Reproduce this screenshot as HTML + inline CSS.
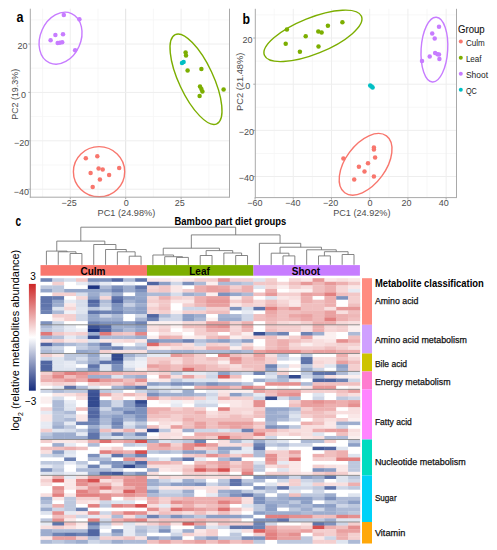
<!DOCTYPE html>
<html><head><meta charset="utf-8"><style>
html,body{margin:0;padding:0;background:#fff;}
svg{display:block;font-family:"Liberation Sans",sans-serif;}
</style></head><body>
<svg width="497" height="550" viewBox="0 0 497 550">
<rect width="497" height="550" fill="#fff"/>
<line x1="42.56" y1="8.70" x2="42.56" y2="197.20" stroke="#F5F5F5" stroke-width="0.8"/>
<line x1="97.99" y1="8.70" x2="97.99" y2="197.20" stroke="#F5F5F5" stroke-width="0.8"/>
<line x1="153.41" y1="8.70" x2="153.41" y2="197.20" stroke="#F5F5F5" stroke-width="0.8"/>
<line x1="208.84" y1="8.70" x2="208.84" y2="197.20" stroke="#F5F5F5" stroke-width="0.8"/>
<line x1="30.30" y1="19.80" x2="229.50" y2="19.80" stroke="#F5F5F5" stroke-width="0.8"/>
<line x1="30.30" y1="68.20" x2="229.50" y2="68.20" stroke="#F5F5F5" stroke-width="0.8"/>
<line x1="30.30" y1="116.60" x2="229.50" y2="116.60" stroke="#F5F5F5" stroke-width="0.8"/>
<line x1="30.30" y1="165.00" x2="229.50" y2="165.00" stroke="#F5F5F5" stroke-width="0.8"/>
<line x1="70.28" y1="8.70" x2="70.28" y2="197.20" stroke="#EEEEEE" stroke-width="1"/>
<line x1="125.70" y1="8.70" x2="125.70" y2="197.20" stroke="#E2E2E2" stroke-width="1"/>
<line x1="181.12" y1="8.70" x2="181.12" y2="197.20" stroke="#EEEEEE" stroke-width="1"/>
<line x1="30.30" y1="44.00" x2="229.50" y2="44.00" stroke="#EEEEEE" stroke-width="1"/>
<line x1="30.30" y1="92.40" x2="229.50" y2="92.40" stroke="#EEEEEE" stroke-width="1"/>
<line x1="30.30" y1="140.80" x2="229.50" y2="140.80" stroke="#EEEEEE" stroke-width="1"/>
<line x1="30.30" y1="189.20" x2="229.50" y2="189.20" stroke="#EEEEEE" stroke-width="1"/>
<ellipse cx="60.55" cy="38.2" rx="27.0" ry="20.2" transform="rotate(-66 60.55 38.2)" fill="none" stroke="#C77CFF" stroke-width="1.4"/>
<ellipse cx="196" cy="79.2" rx="49.2" ry="17.2" transform="rotate(65 196 79.2)" fill="none" stroke="#7CAE00" stroke-width="1.4"/>
<ellipse cx="99.05" cy="171.7" rx="25.65" ry="25.1" transform="rotate(0 99.05 171.7)" fill="none" stroke="#F8766D" stroke-width="1.4"/>
<circle cx="63.80" cy="15.00" r="2.25" fill="#C77CFF"/>
<circle cx="79.40" cy="19.30" r="2.25" fill="#C77CFF"/>
<circle cx="55.40" cy="34.90" r="2.25" fill="#C77CFF"/>
<circle cx="63.00" cy="34.30" r="2.25" fill="#C77CFF"/>
<circle cx="50.60" cy="40.20" r="2.25" fill="#C77CFF"/>
<circle cx="57.70" cy="43.10" r="2.25" fill="#C77CFF"/>
<circle cx="59.80" cy="42.70" r="2.25" fill="#C77CFF"/>
<circle cx="62.20" cy="42.20" r="2.25" fill="#C77CFF"/>
<circle cx="75.10" cy="50.20" r="2.25" fill="#C77CFF"/>
<circle cx="185.60" cy="52.60" r="2.25" fill="#7CAE00"/>
<circle cx="186.00" cy="55.60" r="2.25" fill="#7CAE00"/>
<circle cx="187.60" cy="70.60" r="2.25" fill="#7CAE00"/>
<circle cx="201.40" cy="69.00" r="2.25" fill="#7CAE00"/>
<circle cx="200.00" cy="86.60" r="2.25" fill="#7CAE00"/>
<circle cx="201.40" cy="89.00" r="2.25" fill="#7CAE00"/>
<circle cx="202.40" cy="91.40" r="2.25" fill="#7CAE00"/>
<circle cx="199.60" cy="96.00" r="2.25" fill="#7CAE00"/>
<circle cx="223.60" cy="89.60" r="2.25" fill="#7CAE00"/>
<circle cx="182.00" cy="63.00" r="2.25" fill="#00BFC4"/>
<circle cx="183.60" cy="62.00" r="2.25" fill="#00BFC4"/>
<circle cx="85.80" cy="158.20" r="2.25" fill="#F8766D"/>
<circle cx="97.30" cy="156.20" r="2.25" fill="#F8766D"/>
<circle cx="98.60" cy="168.60" r="2.25" fill="#F8766D"/>
<circle cx="102.70" cy="169.40" r="2.25" fill="#F8766D"/>
<circle cx="119.20" cy="168.10" r="2.25" fill="#F8766D"/>
<circle cx="90.60" cy="173.10" r="2.25" fill="#F8766D"/>
<circle cx="109.10" cy="175.10" r="2.25" fill="#F8766D"/>
<circle cx="99.90" cy="179.60" r="2.25" fill="#F8766D"/>
<circle cx="92.70" cy="187.10" r="2.25" fill="#F8766D"/>
<line x1="30.30" y1="8.70" x2="30.30" y2="197.70" stroke="#A9A9A9" stroke-width="1"/>
<line x1="29.80" y1="197.20" x2="230.00" y2="197.20" stroke="#A9A9A9" stroke-width="1"/>
<line x1="229.50" y1="8.70" x2="229.50" y2="197.20" stroke="#A9A9A9" stroke-width="1"/>
<line x1="28.30" y1="44.00" x2="30.30" y2="44.00" stroke="#A9A9A9" stroke-width="1"/>
<text x="27.50" y="49.30" font-size="9" fill="#4D4D4D" text-anchor="end" >20</text>
<line x1="28.30" y1="92.40" x2="30.30" y2="92.40" stroke="#A9A9A9" stroke-width="1"/>
<text x="26.10" y="97.70" font-size="9" fill="#4D4D4D" text-anchor="end" >0</text>
<line x1="28.30" y1="140.80" x2="30.30" y2="140.80" stroke="#A9A9A9" stroke-width="1"/>
<text x="29.20" y="146.10" font-size="9" fill="#4D4D4D" text-anchor="end" >−20</text>
<line x1="28.30" y1="189.20" x2="30.30" y2="189.20" stroke="#A9A9A9" stroke-width="1"/>
<text x="29.00" y="194.50" font-size="9" fill="#4D4D4D" text-anchor="end" >−40</text>
<line x1="70.28" y1="197.20" x2="70.28" y2="199.20" stroke="#A9A9A9" stroke-width="1"/>
<text x="69.10" y="205.70" font-size="9" fill="#4D4D4D" text-anchor="middle" >−25</text>
<line x1="125.70" y1="197.20" x2="125.70" y2="199.20" stroke="#A9A9A9" stroke-width="1"/>
<text x="126.20" y="205.70" font-size="9" fill="#4D4D4D" text-anchor="middle" >0</text>
<line x1="181.12" y1="197.20" x2="181.12" y2="199.20" stroke="#A9A9A9" stroke-width="1"/>
<text x="179.70" y="205.70" font-size="9" fill="#4D4D4D" text-anchor="middle" >25</text>
<text x="126.40" y="215.80" font-size="9.5" fill="#4D4D4D" text-anchor="middle" textLength="57.6" lengthAdjust="spacingAndGlyphs" >PC1 (24.98%)</text>
<text x="17.70" y="94.35" font-size="9.5" fill="#4D4D4D" text-anchor="middle" textLength="50.9" lengthAdjust="spacingAndGlyphs" transform="rotate(-90 17.70 94.35)" >PC2 (19.3%)</text>
<text x="16.60" y="21.70" font-size="14" fill="#000" text-anchor="start" font-weight="bold" textLength="7.0" lengthAdjust="spacingAndGlyphs" >a</text>
<line x1="274.15" y1="8.80" x2="274.15" y2="197.60" stroke="#F5F5F5" stroke-width="0.8"/>
<line x1="312.37" y1="8.80" x2="312.37" y2="197.60" stroke="#F5F5F5" stroke-width="0.8"/>
<line x1="350.59" y1="8.80" x2="350.59" y2="197.60" stroke="#F5F5F5" stroke-width="0.8"/>
<line x1="388.81" y1="8.80" x2="388.81" y2="197.60" stroke="#F5F5F5" stroke-width="0.8"/>
<line x1="427.03" y1="8.80" x2="427.03" y2="197.60" stroke="#F5F5F5" stroke-width="0.8"/>
<line x1="255.30" y1="14.96" x2="456.50" y2="14.96" stroke="#F5F5F5" stroke-width="0.8"/>
<line x1="255.30" y1="61.12" x2="456.50" y2="61.12" stroke="#F5F5F5" stroke-width="0.8"/>
<line x1="255.30" y1="107.28" x2="456.50" y2="107.28" stroke="#F5F5F5" stroke-width="0.8"/>
<line x1="255.30" y1="153.44" x2="456.50" y2="153.44" stroke="#F5F5F5" stroke-width="0.8"/>
<line x1="293.26" y1="8.80" x2="293.26" y2="197.60" stroke="#EEEEEE" stroke-width="1"/>
<line x1="331.48" y1="8.80" x2="331.48" y2="197.60" stroke="#EEEEEE" stroke-width="1"/>
<line x1="369.70" y1="8.80" x2="369.70" y2="197.60" stroke="#EEEEEE" stroke-width="1"/>
<line x1="407.92" y1="8.80" x2="407.92" y2="197.60" stroke="#EEEEEE" stroke-width="1"/>
<line x1="446.14" y1="8.80" x2="446.14" y2="197.60" stroke="#EEEEEE" stroke-width="1"/>
<line x1="255.30" y1="38.04" x2="456.50" y2="38.04" stroke="#EEEEEE" stroke-width="1"/>
<line x1="255.30" y1="84.20" x2="456.50" y2="84.20" stroke="#EEEEEE" stroke-width="1"/>
<line x1="255.30" y1="130.36" x2="456.50" y2="130.36" stroke="#EEEEEE" stroke-width="1"/>
<line x1="255.30" y1="176.52" x2="456.50" y2="176.52" stroke="#EEEEEE" stroke-width="1"/>
<ellipse cx="312.95" cy="35.85" rx="52.3" ry="18.1" transform="rotate(-21.9 312.95 35.85)" fill="none" stroke="#7CAE00" stroke-width="1.4"/>
<ellipse cx="434.4" cy="49.6" rx="13.3" ry="32.45" transform="rotate(3.4 434.4 49.6)" fill="none" stroke="#C77CFF" stroke-width="1.4"/>
<ellipse cx="365.6" cy="164.3" rx="35.25" ry="20.1" transform="rotate(-53.7 365.6 164.3)" fill="none" stroke="#F8766D" stroke-width="1.4"/>
<circle cx="286.90" cy="29.50" r="2.25" fill="#7CAE00"/>
<circle cx="285.70" cy="43.70" r="2.25" fill="#7CAE00"/>
<circle cx="299.90" cy="51.70" r="2.25" fill="#7CAE00"/>
<circle cx="305.70" cy="36.20" r="2.25" fill="#7CAE00"/>
<circle cx="318.30" cy="31.40" r="2.25" fill="#7CAE00"/>
<circle cx="321.60" cy="32.60" r="2.25" fill="#7CAE00"/>
<circle cx="318.50" cy="46.40" r="2.25" fill="#7CAE00"/>
<circle cx="327.90" cy="25.80" r="2.25" fill="#7CAE00"/>
<circle cx="342.40" cy="22.20" r="2.25" fill="#7CAE00"/>
<circle cx="439.00" cy="26.70" r="2.25" fill="#C77CFF"/>
<circle cx="432.20" cy="33.60" r="2.25" fill="#C77CFF"/>
<circle cx="434.70" cy="38.40" r="2.25" fill="#C77CFF"/>
<circle cx="435.10" cy="53.10" r="2.25" fill="#C77CFF"/>
<circle cx="437.50" cy="54.30" r="2.25" fill="#C77CFF"/>
<circle cx="439.00" cy="54.60" r="2.25" fill="#C77CFF"/>
<circle cx="429.70" cy="56.60" r="2.25" fill="#C77CFF"/>
<circle cx="439.40" cy="59.10" r="2.25" fill="#C77CFF"/>
<circle cx="422.00" cy="61.10" r="2.25" fill="#C77CFF"/>
<circle cx="343.40" cy="158.40" r="2.25" fill="#F8766D"/>
<circle cx="373.90" cy="147.50" r="2.25" fill="#F8766D"/>
<circle cx="373.90" cy="149.60" r="2.25" fill="#F8766D"/>
<circle cx="375.10" cy="157.40" r="2.25" fill="#F8766D"/>
<circle cx="368.00" cy="163.30" r="2.25" fill="#F8766D"/>
<circle cx="358.90" cy="166.80" r="2.25" fill="#F8766D"/>
<circle cx="364.50" cy="171.50" r="2.25" fill="#F8766D"/>
<circle cx="373.90" cy="176.40" r="2.25" fill="#F8766D"/>
<circle cx="354.20" cy="179.60" r="2.25" fill="#F8766D"/>
<circle cx="370.20" cy="85.60" r="2.25" fill="#00BFC4"/>
<circle cx="371.60" cy="86.60" r="2.25" fill="#00BFC4"/>
<circle cx="372.60" cy="87.40" r="2.25" fill="#00BFC4"/>
<line x1="255.30" y1="8.80" x2="255.30" y2="198.10" stroke="#A9A9A9" stroke-width="1"/>
<line x1="254.80" y1="197.60" x2="457.00" y2="197.60" stroke="#A9A9A9" stroke-width="1"/>
<line x1="456.50" y1="8.80" x2="456.50" y2="197.60" stroke="#A9A9A9" stroke-width="1"/>
<line x1="253.30" y1="38.04" x2="255.30" y2="38.04" stroke="#A9A9A9" stroke-width="1"/>
<text x="252.60" y="42.84" font-size="9" fill="#4D4D4D" text-anchor="end" >20</text>
<line x1="253.30" y1="84.20" x2="255.30" y2="84.20" stroke="#A9A9A9" stroke-width="1"/>
<text x="250.20" y="89.00" font-size="9" fill="#4D4D4D" text-anchor="end" >0</text>
<line x1="253.30" y1="130.36" x2="255.30" y2="130.36" stroke="#A9A9A9" stroke-width="1"/>
<text x="254.00" y="135.16" font-size="9" fill="#4D4D4D" text-anchor="end" >−20</text>
<line x1="253.30" y1="176.52" x2="255.30" y2="176.52" stroke="#A9A9A9" stroke-width="1"/>
<text x="254.00" y="181.32" font-size="9" fill="#4D4D4D" text-anchor="end" >−40</text>
<line x1="255.04" y1="197.60" x2="255.04" y2="199.60" stroke="#A9A9A9" stroke-width="1"/>
<text x="255.00" y="206.30" font-size="9" fill="#4D4D4D" text-anchor="middle" >−60</text>
<line x1="293.26" y1="197.60" x2="293.26" y2="199.60" stroke="#A9A9A9" stroke-width="1"/>
<text x="293.00" y="206.30" font-size="9" fill="#4D4D4D" text-anchor="middle" >−40</text>
<line x1="331.48" y1="197.60" x2="331.48" y2="199.60" stroke="#A9A9A9" stroke-width="1"/>
<text x="330.70" y="206.30" font-size="9" fill="#4D4D4D" text-anchor="middle" >−20</text>
<line x1="369.70" y1="197.60" x2="369.70" y2="199.60" stroke="#A9A9A9" stroke-width="1"/>
<text x="369.90" y="206.30" font-size="9" fill="#4D4D4D" text-anchor="middle" >0</text>
<line x1="407.92" y1="197.60" x2="407.92" y2="199.60" stroke="#A9A9A9" stroke-width="1"/>
<text x="406.40" y="206.30" font-size="9" fill="#4D4D4D" text-anchor="middle" >20</text>
<line x1="446.14" y1="197.60" x2="446.14" y2="199.60" stroke="#A9A9A9" stroke-width="1"/>
<text x="443.80" y="206.30" font-size="9" fill="#4D4D4D" text-anchor="middle" >40</text>
<text x="361.80" y="216.10" font-size="9.5" fill="#4D4D4D" text-anchor="middle" textLength="57.3" lengthAdjust="spacingAndGlyphs" >PC1 (24.92%)</text>
<text x="243.40" y="81.80" font-size="9.5" fill="#4D4D4D" text-anchor="middle" textLength="58.2" lengthAdjust="spacingAndGlyphs" transform="rotate(-90 243.40 81.80)" >PC2 (21.48%)</text>
<text x="242.40" y="23.70" font-size="14" fill="#000" text-anchor="start" font-weight="bold" textLength="7.5" lengthAdjust="spacingAndGlyphs" >b</text>
<text x="458.00" y="32.90" font-size="10" fill="#111" text-anchor="start" textLength="26.7" lengthAdjust="spacingAndGlyphs" stroke="#111" stroke-width="0.1">Group</text>
<circle cx="460.80" cy="41.60" r="2.0" fill="#F8766D"/>
<text x="465.90" y="46.10" font-size="8.3" fill="#222" text-anchor="start" textLength="18.8" lengthAdjust="spacingAndGlyphs" >Culm</text>
<circle cx="460.80" cy="57.67" r="2.0" fill="#7CAE00"/>
<text x="465.90" y="62.17" font-size="8.3" fill="#222" text-anchor="start" textLength="15.7" lengthAdjust="spacingAndGlyphs" >Leaf</text>
<circle cx="460.80" cy="73.74" r="2.0" fill="#C77CFF"/>
<text x="465.90" y="78.24" font-size="8.3" fill="#222" text-anchor="start" textLength="22.1" lengthAdjust="spacingAndGlyphs" >Shoot</text>
<circle cx="460.80" cy="89.81" r="2.0" fill="#00BFC4"/>
<text x="465.90" y="94.31" font-size="8.3" fill="#222" text-anchor="start" textLength="10.9" lengthAdjust="spacingAndGlyphs" >QC</text>
<text x="15.60" y="225.70" font-size="14.3" fill="#000" text-anchor="start" font-weight="bold" textLength="5.6" lengthAdjust="spacingAndGlyphs" >c</text>
<text x="230.40" y="224.90" font-size="10" fill="#000" text-anchor="middle" font-weight="bold" textLength="111.6" lengthAdjust="spacingAndGlyphs" >Bamboo part diet groups</text>
<line x1="70.08" y1="264.80" x2="70.08" y2="253.50" stroke="#707070" stroke-width="0.85"/>
<line x1="81.91" y1="264.80" x2="81.91" y2="253.50" stroke="#707070" stroke-width="0.85"/>
<line x1="70.08" y1="253.50" x2="81.91" y2="253.50" stroke="#707070" stroke-width="0.85"/>
<line x1="58.25" y1="264.80" x2="58.25" y2="251.80" stroke="#707070" stroke-width="0.85"/>
<line x1="75.99" y1="253.50" x2="75.99" y2="251.80" stroke="#707070" stroke-width="0.85"/>
<line x1="58.25" y1="251.80" x2="75.99" y2="251.80" stroke="#707070" stroke-width="0.85"/>
<line x1="46.41" y1="264.80" x2="46.41" y2="251.10" stroke="#707070" stroke-width="0.85"/>
<line x1="67.12" y1="251.80" x2="67.12" y2="251.10" stroke="#707070" stroke-width="0.85"/>
<line x1="46.41" y1="251.10" x2="67.12" y2="251.10" stroke="#707070" stroke-width="0.85"/>
<line x1="129.22" y1="264.80" x2="129.22" y2="256.20" stroke="#707070" stroke-width="0.85"/>
<line x1="141.06" y1="264.80" x2="141.06" y2="256.20" stroke="#707070" stroke-width="0.85"/>
<line x1="129.22" y1="256.20" x2="141.06" y2="256.20" stroke="#707070" stroke-width="0.85"/>
<line x1="117.39" y1="264.80" x2="117.39" y2="251.80" stroke="#707070" stroke-width="0.85"/>
<line x1="135.14" y1="256.20" x2="135.14" y2="251.80" stroke="#707070" stroke-width="0.85"/>
<line x1="117.39" y1="251.80" x2="135.14" y2="251.80" stroke="#707070" stroke-width="0.85"/>
<line x1="105.56" y1="264.80" x2="105.56" y2="249.50" stroke="#707070" stroke-width="0.85"/>
<line x1="126.27" y1="251.80" x2="126.27" y2="249.50" stroke="#707070" stroke-width="0.85"/>
<line x1="105.56" y1="249.50" x2="126.27" y2="249.50" stroke="#707070" stroke-width="0.85"/>
<line x1="93.73" y1="264.80" x2="93.73" y2="244.50" stroke="#707070" stroke-width="0.85"/>
<line x1="115.92" y1="249.50" x2="115.92" y2="244.50" stroke="#707070" stroke-width="0.85"/>
<line x1="93.73" y1="244.50" x2="115.92" y2="244.50" stroke="#707070" stroke-width="0.85"/>
<line x1="56.77" y1="251.10" x2="56.77" y2="241.10" stroke="#707070" stroke-width="0.85"/>
<line x1="104.83" y1="244.50" x2="104.83" y2="241.10" stroke="#707070" stroke-width="0.85"/>
<line x1="56.77" y1="241.10" x2="104.83" y2="241.10" stroke="#707070" stroke-width="0.85"/>
<line x1="176.54" y1="264.80" x2="176.54" y2="257.40" stroke="#707070" stroke-width="0.85"/>
<line x1="188.38" y1="264.80" x2="188.38" y2="257.40" stroke="#707070" stroke-width="0.85"/>
<line x1="176.54" y1="257.40" x2="188.38" y2="257.40" stroke="#707070" stroke-width="0.85"/>
<line x1="164.72" y1="264.80" x2="164.72" y2="256.70" stroke="#707070" stroke-width="0.85"/>
<line x1="182.46" y1="257.40" x2="182.46" y2="256.70" stroke="#707070" stroke-width="0.85"/>
<line x1="164.72" y1="256.70" x2="182.46" y2="256.70" stroke="#707070" stroke-width="0.85"/>
<line x1="152.88" y1="264.80" x2="152.88" y2="255.00" stroke="#707070" stroke-width="0.85"/>
<line x1="173.59" y1="256.70" x2="173.59" y2="255.00" stroke="#707070" stroke-width="0.85"/>
<line x1="152.88" y1="255.00" x2="173.59" y2="255.00" stroke="#707070" stroke-width="0.85"/>
<line x1="200.21" y1="264.80" x2="200.21" y2="255.50" stroke="#707070" stroke-width="0.85"/>
<line x1="212.03" y1="264.80" x2="212.03" y2="255.50" stroke="#707070" stroke-width="0.85"/>
<line x1="200.21" y1="255.50" x2="212.03" y2="255.50" stroke="#707070" stroke-width="0.85"/>
<line x1="235.69" y1="264.80" x2="235.69" y2="255.50" stroke="#707070" stroke-width="0.85"/>
<line x1="247.53" y1="264.80" x2="247.53" y2="255.50" stroke="#707070" stroke-width="0.85"/>
<line x1="235.69" y1="255.50" x2="247.53" y2="255.50" stroke="#707070" stroke-width="0.85"/>
<line x1="223.87" y1="264.80" x2="223.87" y2="253.00" stroke="#707070" stroke-width="0.85"/>
<line x1="241.61" y1="255.50" x2="241.61" y2="253.00" stroke="#707070" stroke-width="0.85"/>
<line x1="223.87" y1="253.00" x2="241.61" y2="253.00" stroke="#707070" stroke-width="0.85"/>
<line x1="206.12" y1="255.50" x2="206.12" y2="250.60" stroke="#707070" stroke-width="0.85"/>
<line x1="232.74" y1="253.00" x2="232.74" y2="250.60" stroke="#707070" stroke-width="0.85"/>
<line x1="206.12" y1="250.60" x2="232.74" y2="250.60" stroke="#707070" stroke-width="0.85"/>
<line x1="163.24" y1="255.00" x2="163.24" y2="248.20" stroke="#707070" stroke-width="0.85"/>
<line x1="219.43" y1="250.60" x2="219.43" y2="248.20" stroke="#707070" stroke-width="0.85"/>
<line x1="163.24" y1="248.20" x2="219.43" y2="248.20" stroke="#707070" stroke-width="0.85"/>
<line x1="283.01" y1="264.80" x2="283.01" y2="255.90" stroke="#707070" stroke-width="0.85"/>
<line x1="294.85" y1="264.80" x2="294.85" y2="255.90" stroke="#707070" stroke-width="0.85"/>
<line x1="283.01" y1="255.90" x2="294.85" y2="255.90" stroke="#707070" stroke-width="0.85"/>
<line x1="271.19" y1="264.80" x2="271.19" y2="253.20" stroke="#707070" stroke-width="0.85"/>
<line x1="288.93" y1="255.90" x2="288.93" y2="253.20" stroke="#707070" stroke-width="0.85"/>
<line x1="271.19" y1="253.20" x2="288.93" y2="253.20" stroke="#707070" stroke-width="0.85"/>
<line x1="318.50" y1="264.80" x2="318.50" y2="255.90" stroke="#707070" stroke-width="0.85"/>
<line x1="330.33" y1="264.80" x2="330.33" y2="255.90" stroke="#707070" stroke-width="0.85"/>
<line x1="318.50" y1="255.90" x2="330.33" y2="255.90" stroke="#707070" stroke-width="0.85"/>
<line x1="342.17" y1="264.80" x2="342.17" y2="254.50" stroke="#707070" stroke-width="0.85"/>
<line x1="354.00" y1="264.80" x2="354.00" y2="254.50" stroke="#707070" stroke-width="0.85"/>
<line x1="342.17" y1="254.50" x2="354.00" y2="254.50" stroke="#707070" stroke-width="0.85"/>
<line x1="324.42" y1="255.90" x2="324.42" y2="251.70" stroke="#707070" stroke-width="0.85"/>
<line x1="348.08" y1="254.50" x2="348.08" y2="251.70" stroke="#707070" stroke-width="0.85"/>
<line x1="324.42" y1="251.70" x2="348.08" y2="251.70" stroke="#707070" stroke-width="0.85"/>
<line x1="306.68" y1="264.80" x2="306.68" y2="249.80" stroke="#707070" stroke-width="0.85"/>
<line x1="336.25" y1="251.70" x2="336.25" y2="249.80" stroke="#707070" stroke-width="0.85"/>
<line x1="306.68" y1="249.80" x2="336.25" y2="249.80" stroke="#707070" stroke-width="0.85"/>
<line x1="280.06" y1="253.20" x2="280.06" y2="247.20" stroke="#707070" stroke-width="0.85"/>
<line x1="321.46" y1="249.80" x2="321.46" y2="247.20" stroke="#707070" stroke-width="0.85"/>
<line x1="280.06" y1="247.20" x2="321.46" y2="247.20" stroke="#707070" stroke-width="0.85"/>
<line x1="259.36" y1="264.80" x2="259.36" y2="243.30" stroke="#707070" stroke-width="0.85"/>
<line x1="300.76" y1="247.20" x2="300.76" y2="243.30" stroke="#707070" stroke-width="0.85"/>
<line x1="259.36" y1="243.30" x2="300.76" y2="243.30" stroke="#707070" stroke-width="0.85"/>
<line x1="191.33" y1="248.20" x2="191.33" y2="234.90" stroke="#707070" stroke-width="0.85"/>
<line x1="280.06" y1="243.30" x2="280.06" y2="234.90" stroke="#707070" stroke-width="0.85"/>
<line x1="191.33" y1="234.90" x2="280.06" y2="234.90" stroke="#707070" stroke-width="0.85"/>
<line x1="80.80" y1="241.10" x2="80.80" y2="227.20" stroke="#707070" stroke-width="0.85"/>
<line x1="235.69" y1="234.90" x2="235.69" y2="227.20" stroke="#707070" stroke-width="0.85"/>
<line x1="80.80" y1="227.20" x2="235.69" y2="227.20" stroke="#707070" stroke-width="0.85"/>
<rect x="40.50" y="265.10" width="106.47" height="10.60" fill="#F8766D" />
<rect x="146.97" y="265.10" width="106.47" height="10.60" fill="#7CAE00" />
<rect x="253.44" y="265.10" width="106.47" height="10.60" fill="#C77CFF" />
<text x="93.03" y="275.00" font-size="10" fill="#000" text-anchor="middle" font-weight="bold" >Culm</text>
<text x="199.51" y="275.00" font-size="10" fill="#000" text-anchor="middle" font-weight="bold" >Leaf</text>
<text x="305.98" y="275.00" font-size="10" fill="#000" text-anchor="middle" font-weight="bold" >Shoot</text>
<rect x="40.50" y="278.20" width="12.13" height="3.88" fill="#6e83b4" />
<rect x="52.33" y="278.20" width="12.13" height="3.88" fill="#c6cfe3" />
<rect x="64.16" y="278.20" width="12.13" height="3.88" fill="#d6ddeb" />
<rect x="75.99" y="278.20" width="12.13" height="3.88" fill="#f2c7c7" />
<rect x="87.82" y="278.20" width="12.13" height="3.88" fill="#7d91bd" />
<rect x="99.65" y="278.20" width="12.13" height="3.88" fill="#7d91bd" />
<rect x="111.48" y="278.20" width="12.13" height="3.88" fill="#5166a2" />
<rect x="123.31" y="278.20" width="12.13" height="3.88" fill="#adbad6" />
<rect x="135.14" y="278.20" width="12.13" height="3.88" fill="#5f74ab" />
<rect x="146.97" y="278.20" width="12.13" height="3.88" fill="#fae7e7" />
<rect x="158.80" y="278.20" width="12.13" height="3.88" fill="#fae7e7" />
<rect x="170.63" y="278.20" width="12.13" height="3.88" fill="#fbefef" />
<rect x="182.46" y="278.20" width="12.13" height="3.88" fill="#fae7e7" />
<rect x="194.29" y="278.20" width="12.13" height="3.88" fill="#f4cfcf" />
<rect x="206.12" y="278.20" width="12.13" height="3.88" fill="#f4cfcf" />
<rect x="217.95" y="278.20" width="12.13" height="3.88" fill="#e59090" />
<rect x="229.78" y="278.20" width="12.13" height="3.88" fill="#f4cfcf" />
<rect x="241.61" y="278.20" width="12.13" height="3.88" fill="#f4cfcf" />
<rect x="253.44" y="278.20" width="12.13" height="3.88" fill="#dee4ef" />
<rect x="265.27" y="278.20" width="12.13" height="3.88" fill="#f4cfcf" />
<rect x="277.10" y="278.20" width="12.13" height="3.88" fill="#ffffff" />
<rect x="288.93" y="278.20" width="12.13" height="3.88" fill="#f6d7d7" />
<rect x="300.76" y="278.20" width="12.13" height="3.88" fill="#fae7e7" />
<rect x="312.59" y="278.20" width="12.13" height="3.88" fill="#e79898" />
<rect x="324.42" y="278.20" width="12.13" height="3.88" fill="#fae7e7" />
<rect x="336.25" y="278.20" width="12.13" height="3.88" fill="#f8dfdf" />
<rect x="348.08" y="278.20" width="12.13" height="3.88" fill="#fae7e7" />
<rect x="40.50" y="281.78" width="12.13" height="3.88" fill="#ffffff" />
<rect x="52.33" y="281.78" width="12.13" height="3.88" fill="#f4cfcf" />
<rect x="64.16" y="281.78" width="12.13" height="3.88" fill="#ffffff" />
<rect x="75.99" y="281.78" width="12.13" height="3.88" fill="#e6eaf3" />
<rect x="87.82" y="281.78" width="12.13" height="3.88" fill="#c6cfe3" />
<rect x="99.65" y="281.78" width="12.13" height="3.88" fill="#e6eaf3" />
<rect x="111.48" y="281.78" width="12.13" height="3.88" fill="#ffffff" />
<rect x="123.31" y="281.78" width="12.13" height="3.88" fill="#eff1f7" />
<rect x="135.14" y="281.78" width="12.13" height="3.88" fill="#ffffff" />
<rect x="146.97" y="281.78" width="12.13" height="3.88" fill="#5166a2" />
<rect x="158.80" y="281.78" width="12.13" height="3.88" fill="#8c9fc6" />
<rect x="170.63" y="281.78" width="12.13" height="3.88" fill="#ced6e7" />
<rect x="182.46" y="281.78" width="12.13" height="3.88" fill="#7d91bd" />
<rect x="194.29" y="281.78" width="12.13" height="3.88" fill="#adbad6" />
<rect x="206.12" y="281.78" width="12.13" height="3.88" fill="#fbefef" />
<rect x="217.95" y="281.78" width="12.13" height="3.88" fill="#adbad6" />
<rect x="229.78" y="281.78" width="12.13" height="3.88" fill="#adbad6" />
<rect x="241.61" y="281.78" width="12.13" height="3.88" fill="#bdc8de" />
<rect x="253.44" y="281.78" width="12.13" height="3.88" fill="#f2c7c7" />
<rect x="265.27" y="281.78" width="12.13" height="3.88" fill="#f2c7c7" />
<rect x="277.10" y="281.78" width="12.13" height="3.88" fill="#f6d7d7" />
<rect x="288.93" y="281.78" width="12.13" height="3.88" fill="#f0bfbf" />
<rect x="300.76" y="281.78" width="12.13" height="3.88" fill="#e79898" />
<rect x="312.59" y="281.78" width="12.13" height="3.88" fill="#eeb7b7" />
<rect x="324.42" y="281.78" width="12.13" height="3.88" fill="#e79898" />
<rect x="336.25" y="281.78" width="12.13" height="3.88" fill="#edafaf" />
<rect x="348.08" y="281.78" width="12.13" height="3.88" fill="#f2c7c7" />
<rect x="40.50" y="285.37" width="12.13" height="3.88" fill="#bdc8de" />
<rect x="52.33" y="285.37" width="12.13" height="3.88" fill="#bdc8de" />
<rect x="64.16" y="285.37" width="12.13" height="3.88" fill="#ffffff" />
<rect x="75.99" y="285.37" width="12.13" height="3.88" fill="#ffffff" />
<rect x="87.82" y="285.37" width="12.13" height="3.88" fill="#1d3482" />
<rect x="99.65" y="285.37" width="12.13" height="3.88" fill="#adbad6" />
<rect x="111.48" y="285.37" width="12.13" height="3.88" fill="#7d91bd" />
<rect x="123.31" y="285.37" width="12.13" height="3.88" fill="#9dadce" />
<rect x="135.14" y="285.37" width="12.13" height="3.88" fill="#5f74ab" />
<rect x="146.97" y="285.37" width="12.13" height="3.88" fill="#f6d7d7" />
<rect x="158.80" y="285.37" width="12.13" height="3.88" fill="#f2c7c7" />
<rect x="170.63" y="285.37" width="12.13" height="3.88" fill="#fae7e7" />
<rect x="182.46" y="285.37" width="12.13" height="3.88" fill="#ffffff" />
<rect x="194.29" y="285.37" width="12.13" height="3.88" fill="#edafaf" />
<rect x="206.12" y="285.37" width="12.13" height="3.88" fill="#e9a0a0" />
<rect x="217.95" y="285.37" width="12.13" height="3.88" fill="#eba7a7" />
<rect x="229.78" y="285.37" width="12.13" height="3.88" fill="#f4cfcf" />
<rect x="241.61" y="285.37" width="12.13" height="3.88" fill="#edafaf" />
<rect x="253.44" y="285.37" width="12.13" height="3.88" fill="#dee4ef" />
<rect x="265.27" y="285.37" width="12.13" height="3.88" fill="#f6d7d7" />
<rect x="277.10" y="285.37" width="12.13" height="3.88" fill="#fbefef" />
<rect x="288.93" y="285.37" width="12.13" height="3.88" fill="#f4cfcf" />
<rect x="300.76" y="285.37" width="12.13" height="3.88" fill="#f8dfdf" />
<rect x="312.59" y="285.37" width="12.13" height="3.88" fill="#f0bfbf" />
<rect x="324.42" y="285.37" width="12.13" height="3.88" fill="#edafaf" />
<rect x="336.25" y="285.37" width="12.13" height="3.88" fill="#f6d7d7" />
<rect x="348.08" y="285.37" width="12.13" height="3.88" fill="#fae7e7" />
<rect x="40.50" y="288.95" width="12.13" height="3.88" fill="#94a6ca" />
<rect x="52.33" y="288.95" width="12.13" height="3.88" fill="#bdc8de" />
<rect x="64.16" y="288.95" width="12.13" height="3.88" fill="#94a6ca" />
<rect x="75.99" y="288.95" width="12.13" height="3.88" fill="#94a6ca" />
<rect x="87.82" y="288.95" width="12.13" height="3.88" fill="#94a6ca" />
<rect x="99.65" y="288.95" width="12.13" height="3.88" fill="#94a6ca" />
<rect x="111.48" y="288.95" width="12.13" height="3.88" fill="#6e83b4" />
<rect x="123.31" y="288.95" width="12.13" height="3.88" fill="#9dadce" />
<rect x="135.14" y="288.95" width="12.13" height="3.88" fill="#7d91bd" />
<rect x="146.97" y="288.95" width="12.13" height="3.88" fill="#f4cfcf" />
<rect x="158.80" y="288.95" width="12.13" height="3.88" fill="#f2c7c7" />
<rect x="170.63" y="288.95" width="12.13" height="3.88" fill="#fae7e7" />
<rect x="182.46" y="288.95" width="12.13" height="3.88" fill="#f4cfcf" />
<rect x="194.29" y="288.95" width="12.13" height="3.88" fill="#edafaf" />
<rect x="206.12" y="288.95" width="12.13" height="3.88" fill="#e9a0a0" />
<rect x="217.95" y="288.95" width="12.13" height="3.88" fill="#e9a0a0" />
<rect x="229.78" y="288.95" width="12.13" height="3.88" fill="#f0bfbf" />
<rect x="241.61" y="288.95" width="12.13" height="3.88" fill="#edafaf" />
<rect x="253.44" y="288.95" width="12.13" height="3.88" fill="#ffffff" />
<rect x="265.27" y="288.95" width="12.13" height="3.88" fill="#edafaf" />
<rect x="277.10" y="288.95" width="12.13" height="3.88" fill="#ffffff" />
<rect x="288.93" y="288.95" width="12.13" height="3.88" fill="#fbefef" />
<rect x="300.76" y="288.95" width="12.13" height="3.88" fill="#fbefef" />
<rect x="312.59" y="288.95" width="12.13" height="3.88" fill="#f0bfbf" />
<rect x="324.42" y="288.95" width="12.13" height="3.88" fill="#edafaf" />
<rect x="336.25" y="288.95" width="12.13" height="3.88" fill="#f6d7d7" />
<rect x="348.08" y="288.95" width="12.13" height="3.88" fill="#e6eaf3" />
<rect x="40.50" y="292.54" width="12.13" height="3.88" fill="#ffffff" />
<rect x="52.33" y="292.54" width="12.13" height="3.88" fill="#f4cfcf" />
<rect x="64.16" y="292.54" width="12.13" height="3.88" fill="#f4cfcf" />
<rect x="75.99" y="292.54" width="12.13" height="3.88" fill="#d6ddeb" />
<rect x="87.82" y="292.54" width="12.13" height="3.88" fill="#9dadce" />
<rect x="99.65" y="292.54" width="12.13" height="3.88" fill="#c6cfe3" />
<rect x="111.48" y="292.54" width="12.13" height="3.88" fill="#9dadce" />
<rect x="123.31" y="292.54" width="12.13" height="3.88" fill="#ffffff" />
<rect x="135.14" y="292.54" width="12.13" height="3.88" fill="#94a6ca" />
<rect x="146.97" y="292.54" width="12.13" height="3.88" fill="#adbad6" />
<rect x="158.80" y="292.54" width="12.13" height="3.88" fill="#adbad6" />
<rect x="170.63" y="292.54" width="12.13" height="3.88" fill="#d6ddeb" />
<rect x="182.46" y="292.54" width="12.13" height="3.88" fill="#9dadce" />
<rect x="194.29" y="292.54" width="12.13" height="3.88" fill="#adbad6" />
<rect x="206.12" y="292.54" width="12.13" height="3.88" fill="#fbefef" />
<rect x="217.95" y="292.54" width="12.13" height="3.88" fill="#7d91bd" />
<rect x="229.78" y="292.54" width="12.13" height="3.88" fill="#94a6ca" />
<rect x="241.61" y="292.54" width="12.13" height="3.88" fill="#adbad6" />
<rect x="253.44" y="292.54" width="12.13" height="3.88" fill="#f0bfbf" />
<rect x="265.27" y="292.54" width="12.13" height="3.88" fill="#e79898" />
<rect x="277.10" y="292.54" width="12.13" height="3.88" fill="#f4cfcf" />
<rect x="288.93" y="292.54" width="12.13" height="3.88" fill="#f4cfcf" />
<rect x="300.76" y="292.54" width="12.13" height="3.88" fill="#e9a0a0" />
<rect x="312.59" y="292.54" width="12.13" height="3.88" fill="#eba7a7" />
<rect x="324.42" y="292.54" width="12.13" height="3.88" fill="#e28080" />
<rect x="336.25" y="292.54" width="12.13" height="3.88" fill="#f0bfbf" />
<rect x="348.08" y="292.54" width="12.13" height="3.88" fill="#f2c7c7" />
<rect x="40.50" y="296.12" width="12.13" height="3.88" fill="#5f74ab" />
<rect x="52.33" y="296.12" width="12.13" height="3.88" fill="#677bb0" />
<rect x="64.16" y="296.12" width="12.13" height="3.88" fill="#ffffff" />
<rect x="75.99" y="296.12" width="12.13" height="3.88" fill="#f6d7d7" />
<rect x="87.82" y="296.12" width="12.13" height="3.88" fill="#8c9fc6" />
<rect x="99.65" y="296.12" width="12.13" height="3.88" fill="#f6d7d7" />
<rect x="111.48" y="296.12" width="12.13" height="3.88" fill="#5f74ab" />
<rect x="123.31" y="296.12" width="12.13" height="3.88" fill="#8c9fc6" />
<rect x="135.14" y="296.12" width="12.13" height="3.88" fill="#94a6ca" />
<rect x="146.97" y="296.12" width="12.13" height="3.88" fill="#f6d7d7" />
<rect x="158.80" y="296.12" width="12.13" height="3.88" fill="#edafaf" />
<rect x="170.63" y="296.12" width="12.13" height="3.88" fill="#f4cfcf" />
<rect x="182.46" y="296.12" width="12.13" height="3.88" fill="#f6d7d7" />
<rect x="194.29" y="296.12" width="12.13" height="3.88" fill="#edafaf" />
<rect x="206.12" y="296.12" width="12.13" height="3.88" fill="#e9a0a0" />
<rect x="217.95" y="296.12" width="12.13" height="3.88" fill="#e9a0a0" />
<rect x="229.78" y="296.12" width="12.13" height="3.88" fill="#fbefef" />
<rect x="241.61" y="296.12" width="12.13" height="3.88" fill="#f0bfbf" />
<rect x="253.44" y="296.12" width="12.13" height="3.88" fill="#ffffff" />
<rect x="265.27" y="296.12" width="12.13" height="3.88" fill="#dee4ef" />
<rect x="277.10" y="296.12" width="12.13" height="3.88" fill="#fae7e7" />
<rect x="288.93" y="296.12" width="12.13" height="3.88" fill="#f8dfdf" />
<rect x="300.76" y="296.12" width="12.13" height="3.88" fill="#edafaf" />
<rect x="312.59" y="296.12" width="12.13" height="3.88" fill="#ffffff" />
<rect x="324.42" y="296.12" width="12.13" height="3.88" fill="#edafaf" />
<rect x="336.25" y="296.12" width="12.13" height="3.88" fill="#7d91bd" />
<rect x="348.08" y="296.12" width="12.13" height="3.88" fill="#f4cfcf" />
<rect x="40.50" y="299.71" width="12.13" height="3.88" fill="#5f74ab" />
<rect x="52.33" y="299.71" width="12.13" height="3.88" fill="#94a6ca" />
<rect x="64.16" y="299.71" width="12.13" height="3.88" fill="#e6eaf3" />
<rect x="75.99" y="299.71" width="12.13" height="3.88" fill="#d6ddeb" />
<rect x="87.82" y="299.71" width="12.13" height="3.88" fill="#5166a2" />
<rect x="99.65" y="299.71" width="12.13" height="3.88" fill="#adbad6" />
<rect x="111.48" y="299.71" width="12.13" height="3.88" fill="#5166a2" />
<rect x="123.31" y="299.71" width="12.13" height="3.88" fill="#a5b3d2" />
<rect x="135.14" y="299.71" width="12.13" height="3.88" fill="#8c9fc6" />
<rect x="146.97" y="299.71" width="12.13" height="3.88" fill="#f4cfcf" />
<rect x="158.80" y="299.71" width="12.13" height="3.88" fill="#f2c7c7" />
<rect x="170.63" y="299.71" width="12.13" height="3.88" fill="#fae7e7" />
<rect x="182.46" y="299.71" width="12.13" height="3.88" fill="#fae7e7" />
<rect x="194.29" y="299.71" width="12.13" height="3.88" fill="#edafaf" />
<rect x="206.12" y="299.71" width="12.13" height="3.88" fill="#e79898" />
<rect x="217.95" y="299.71" width="12.13" height="3.88" fill="#e79898" />
<rect x="229.78" y="299.71" width="12.13" height="3.88" fill="#f4cfcf" />
<rect x="241.61" y="299.71" width="12.13" height="3.88" fill="#eeb7b7" />
<rect x="253.44" y="299.71" width="12.13" height="3.88" fill="#f6d7d7" />
<rect x="265.27" y="299.71" width="12.13" height="3.88" fill="#f0bfbf" />
<rect x="277.10" y="299.71" width="12.13" height="3.88" fill="#f6d7d7" />
<rect x="288.93" y="299.71" width="12.13" height="3.88" fill="#fae7e7" />
<rect x="300.76" y="299.71" width="12.13" height="3.88" fill="#edafaf" />
<rect x="312.59" y="299.71" width="12.13" height="3.88" fill="#f0bfbf" />
<rect x="324.42" y="299.71" width="12.13" height="3.88" fill="#edafaf" />
<rect x="336.25" y="299.71" width="12.13" height="3.88" fill="#ffffff" />
<rect x="348.08" y="299.71" width="12.13" height="3.88" fill="#f4cfcf" />
<rect x="40.50" y="303.29" width="12.13" height="3.88" fill="#5f74ab" />
<rect x="52.33" y="303.29" width="12.13" height="3.88" fill="#9dadce" />
<rect x="64.16" y="303.29" width="12.13" height="3.88" fill="#fae7e7" />
<rect x="75.99" y="303.29" width="12.13" height="3.88" fill="#d6ddeb" />
<rect x="87.82" y="303.29" width="12.13" height="3.88" fill="#5f74ab" />
<rect x="99.65" y="303.29" width="12.13" height="3.88" fill="#bdc8de" />
<rect x="111.48" y="303.29" width="12.13" height="3.88" fill="#7d91bd" />
<rect x="123.31" y="303.29" width="12.13" height="3.88" fill="#c6cfe3" />
<rect x="135.14" y="303.29" width="12.13" height="3.88" fill="#9dadce" />
<rect x="146.97" y="303.29" width="12.13" height="3.88" fill="#f8dfdf" />
<rect x="158.80" y="303.29" width="12.13" height="3.88" fill="#f2c7c7" />
<rect x="170.63" y="303.29" width="12.13" height="3.88" fill="#ffffff" />
<rect x="182.46" y="303.29" width="12.13" height="3.88" fill="#f4cfcf" />
<rect x="194.29" y="303.29" width="12.13" height="3.88" fill="#eeb7b7" />
<rect x="206.12" y="303.29" width="12.13" height="3.88" fill="#e9a0a0" />
<rect x="217.95" y="303.29" width="12.13" height="3.88" fill="#e9a0a0" />
<rect x="229.78" y="303.29" width="12.13" height="3.88" fill="#fae7e7" />
<rect x="241.61" y="303.29" width="12.13" height="3.88" fill="#f4cfcf" />
<rect x="253.44" y="303.29" width="12.13" height="3.88" fill="#f6d7d7" />
<rect x="265.27" y="303.29" width="12.13" height="3.88" fill="#eeb7b7" />
<rect x="277.10" y="303.29" width="12.13" height="3.88" fill="#f4cfcf" />
<rect x="288.93" y="303.29" width="12.13" height="3.88" fill="#fae7e7" />
<rect x="300.76" y="303.29" width="12.13" height="3.88" fill="#f0bfbf" />
<rect x="312.59" y="303.29" width="12.13" height="3.88" fill="#f0bfbf" />
<rect x="324.42" y="303.29" width="12.13" height="3.88" fill="#edafaf" />
<rect x="336.25" y="303.29" width="12.13" height="3.88" fill="#ffffff" />
<rect x="348.08" y="303.29" width="12.13" height="3.88" fill="#f0bfbf" />
<rect x="40.50" y="306.88" width="12.13" height="3.88" fill="#677bb0" />
<rect x="52.33" y="306.88" width="12.13" height="3.88" fill="#dee4ef" />
<rect x="64.16" y="306.88" width="12.13" height="3.88" fill="#f6d7d7" />
<rect x="75.99" y="306.88" width="12.13" height="3.88" fill="#dee4ef" />
<rect x="87.82" y="306.88" width="12.13" height="3.88" fill="#bdc8de" />
<rect x="99.65" y="306.88" width="12.13" height="3.88" fill="#d6ddeb" />
<rect x="111.48" y="306.88" width="12.13" height="3.88" fill="#8498c2" />
<rect x="123.31" y="306.88" width="12.13" height="3.88" fill="#9dadce" />
<rect x="135.14" y="306.88" width="12.13" height="3.88" fill="#8c9fc6" />
<rect x="146.97" y="306.88" width="12.13" height="3.88" fill="#f4cfcf" />
<rect x="158.80" y="306.88" width="12.13" height="3.88" fill="#f0bfbf" />
<rect x="170.63" y="306.88" width="12.13" height="3.88" fill="#ffffff" />
<rect x="182.46" y="306.88" width="12.13" height="3.88" fill="#ced6e7" />
<rect x="194.29" y="306.88" width="12.13" height="3.88" fill="#ced6e7" />
<rect x="206.12" y="306.88" width="12.13" height="3.88" fill="#f4cfcf" />
<rect x="217.95" y="306.88" width="12.13" height="3.88" fill="#f4cfcf" />
<rect x="229.78" y="306.88" width="12.13" height="3.88" fill="#7d91bd" />
<rect x="241.61" y="306.88" width="12.13" height="3.88" fill="#d6ddeb" />
<rect x="253.44" y="306.88" width="12.13" height="3.88" fill="#5f74ab" />
<rect x="265.27" y="306.88" width="12.13" height="3.88" fill="#e28080" />
<rect x="277.10" y="306.88" width="12.13" height="3.88" fill="#edafaf" />
<rect x="288.93" y="306.88" width="12.13" height="3.88" fill="#e79898" />
<rect x="300.76" y="306.88" width="12.13" height="3.88" fill="#f0bfbf" />
<rect x="312.59" y="306.88" width="12.13" height="3.88" fill="#f0bfbf" />
<rect x="324.42" y="306.88" width="12.13" height="3.88" fill="#f8dfdf" />
<rect x="336.25" y="306.88" width="12.13" height="3.88" fill="#e79898" />
<rect x="348.08" y="306.88" width="12.13" height="3.88" fill="#e79898" />
<rect x="40.50" y="310.46" width="12.13" height="3.88" fill="#6e83b4" />
<rect x="52.33" y="310.46" width="12.13" height="3.88" fill="#adbad6" />
<rect x="64.16" y="310.46" width="12.13" height="3.88" fill="#eff1f7" />
<rect x="75.99" y="310.46" width="12.13" height="3.88" fill="#dee4ef" />
<rect x="87.82" y="310.46" width="12.13" height="3.88" fill="#5f74ab" />
<rect x="99.65" y="310.46" width="12.13" height="3.88" fill="#6e83b4" />
<rect x="111.48" y="310.46" width="12.13" height="3.88" fill="#6e83b4" />
<rect x="123.31" y="310.46" width="12.13" height="3.88" fill="#94a6ca" />
<rect x="135.14" y="310.46" width="12.13" height="3.88" fill="#8c9fc6" />
<rect x="146.97" y="310.46" width="12.13" height="3.88" fill="#f6d7d7" />
<rect x="158.80" y="310.46" width="12.13" height="3.88" fill="#f4cfcf" />
<rect x="170.63" y="310.46" width="12.13" height="3.88" fill="#fbefef" />
<rect x="182.46" y="310.46" width="12.13" height="3.88" fill="#f4cfcf" />
<rect x="194.29" y="310.46" width="12.13" height="3.88" fill="#f4cfcf" />
<rect x="206.12" y="310.46" width="12.13" height="3.88" fill="#f0bfbf" />
<rect x="217.95" y="310.46" width="12.13" height="3.88" fill="#f0bfbf" />
<rect x="229.78" y="310.46" width="12.13" height="3.88" fill="#ffffff" />
<rect x="241.61" y="310.46" width="12.13" height="3.88" fill="#e6eaf3" />
<rect x="253.44" y="310.46" width="12.13" height="3.88" fill="#ffffff" />
<rect x="265.27" y="310.46" width="12.13" height="3.88" fill="#eba7a7" />
<rect x="277.10" y="310.46" width="12.13" height="3.88" fill="#f0bfbf" />
<rect x="288.93" y="310.46" width="12.13" height="3.88" fill="#f0bfbf" />
<rect x="300.76" y="310.46" width="12.13" height="3.88" fill="#eeb7b7" />
<rect x="312.59" y="310.46" width="12.13" height="3.88" fill="#eeb7b7" />
<rect x="324.42" y="310.46" width="12.13" height="3.88" fill="#e9a0a0" />
<rect x="336.25" y="310.46" width="12.13" height="3.88" fill="#f8dfdf" />
<rect x="348.08" y="310.46" width="12.13" height="3.88" fill="#f0bfbf" />
<rect x="40.50" y="314.05" width="12.13" height="3.88" fill="#ffffff" />
<rect x="52.33" y="314.05" width="12.13" height="3.88" fill="#f4cfcf" />
<rect x="64.16" y="314.05" width="12.13" height="3.88" fill="#f4cfcf" />
<rect x="75.99" y="314.05" width="12.13" height="3.88" fill="#ced6e7" />
<rect x="87.82" y="314.05" width="12.13" height="3.88" fill="#94a6ca" />
<rect x="99.65" y="314.05" width="12.13" height="3.88" fill="#ced6e7" />
<rect x="111.48" y="314.05" width="12.13" height="3.88" fill="#adbad6" />
<rect x="123.31" y="314.05" width="12.13" height="3.88" fill="#ffffff" />
<rect x="135.14" y="314.05" width="12.13" height="3.88" fill="#ced6e7" />
<rect x="146.97" y="314.05" width="12.13" height="3.88" fill="#5166a2" />
<rect x="158.80" y="314.05" width="12.13" height="3.88" fill="#adbad6" />
<rect x="170.63" y="314.05" width="12.13" height="3.88" fill="#ced6e7" />
<rect x="182.46" y="314.05" width="12.13" height="3.88" fill="#8c9fc6" />
<rect x="194.29" y="314.05" width="12.13" height="3.88" fill="#9dadce" />
<rect x="206.12" y="314.05" width="12.13" height="3.88" fill="#ffffff" />
<rect x="217.95" y="314.05" width="12.13" height="3.88" fill="#a5b3d2" />
<rect x="229.78" y="314.05" width="12.13" height="3.88" fill="#adbad6" />
<rect x="241.61" y="314.05" width="12.13" height="3.88" fill="#ced6e7" />
<rect x="253.44" y="314.05" width="12.13" height="3.88" fill="#f0bfbf" />
<rect x="265.27" y="314.05" width="12.13" height="3.88" fill="#edafaf" />
<rect x="277.10" y="314.05" width="12.13" height="3.88" fill="#f0bfbf" />
<rect x="288.93" y="314.05" width="12.13" height="3.88" fill="#eba7a7" />
<rect x="300.76" y="314.05" width="12.13" height="3.88" fill="#e9a0a0" />
<rect x="312.59" y="314.05" width="12.13" height="3.88" fill="#eeb7b7" />
<rect x="324.42" y="314.05" width="12.13" height="3.88" fill="#e9a0a0" />
<rect x="336.25" y="314.05" width="12.13" height="3.88" fill="#edafaf" />
<rect x="348.08" y="314.05" width="12.13" height="3.88" fill="#eeb7b7" />
<rect x="40.50" y="317.63" width="12.13" height="3.88" fill="#ffffff" />
<rect x="52.33" y="317.63" width="12.13" height="3.88" fill="#fae7e7" />
<rect x="64.16" y="317.63" width="12.13" height="3.88" fill="#f4cfcf" />
<rect x="75.99" y="317.63" width="12.13" height="3.88" fill="#ced6e7" />
<rect x="87.82" y="317.63" width="12.13" height="3.88" fill="#94a6ca" />
<rect x="99.65" y="317.63" width="12.13" height="3.88" fill="#9dadce" />
<rect x="111.48" y="317.63" width="12.13" height="3.88" fill="#9dadce" />
<rect x="123.31" y="317.63" width="12.13" height="3.88" fill="#ffffff" />
<rect x="135.14" y="317.63" width="12.13" height="3.88" fill="#a5b3d2" />
<rect x="146.97" y="317.63" width="12.13" height="3.88" fill="#6e83b4" />
<rect x="158.80" y="317.63" width="12.13" height="3.88" fill="#ced6e7" />
<rect x="170.63" y="317.63" width="12.13" height="3.88" fill="#ced6e7" />
<rect x="182.46" y="317.63" width="12.13" height="3.88" fill="#8c9fc6" />
<rect x="194.29" y="317.63" width="12.13" height="3.88" fill="#adbad6" />
<rect x="206.12" y="317.63" width="12.13" height="3.88" fill="#fbefef" />
<rect x="217.95" y="317.63" width="12.13" height="3.88" fill="#9dadce" />
<rect x="229.78" y="317.63" width="12.13" height="3.88" fill="#9dadce" />
<rect x="241.61" y="317.63" width="12.13" height="3.88" fill="#ced6e7" />
<rect x="253.44" y="317.63" width="12.13" height="3.88" fill="#f0bfbf" />
<rect x="265.27" y="317.63" width="12.13" height="3.88" fill="#eeb7b7" />
<rect x="277.10" y="317.63" width="12.13" height="3.88" fill="#f0bfbf" />
<rect x="288.93" y="317.63" width="12.13" height="3.88" fill="#eeb7b7" />
<rect x="300.76" y="317.63" width="12.13" height="3.88" fill="#eba7a7" />
<rect x="312.59" y="317.63" width="12.13" height="3.88" fill="#eeb7b7" />
<rect x="324.42" y="317.63" width="12.13" height="3.88" fill="#e28080" />
<rect x="336.25" y="317.63" width="12.13" height="3.88" fill="#edafaf" />
<rect x="348.08" y="317.63" width="12.13" height="3.88" fill="#f0bfbf" />
<rect x="40.50" y="321.22" width="12.13" height="3.88" fill="#7d91bd" />
<rect x="52.33" y="321.22" width="12.13" height="3.88" fill="#ced6e7" />
<rect x="64.16" y="321.22" width="12.13" height="3.88" fill="#ffffff" />
<rect x="75.99" y="321.22" width="12.13" height="3.88" fill="#ffffff" />
<rect x="87.82" y="321.22" width="12.13" height="3.88" fill="#6e83b4" />
<rect x="99.65" y="321.22" width="12.13" height="3.88" fill="#7d91bd" />
<rect x="111.48" y="321.22" width="12.13" height="3.88" fill="#7d91bd" />
<rect x="123.31" y="321.22" width="12.13" height="3.88" fill="#8c9fc6" />
<rect x="135.14" y="321.22" width="12.13" height="3.88" fill="#6e83b4" />
<rect x="146.97" y="321.22" width="12.13" height="3.88" fill="#fbefef" />
<rect x="158.80" y="321.22" width="12.13" height="3.88" fill="#fbefef" />
<rect x="170.63" y="321.22" width="12.13" height="3.88" fill="#fbefef" />
<rect x="182.46" y="321.22" width="12.13" height="3.88" fill="#f6d7d7" />
<rect x="194.29" y="321.22" width="12.13" height="3.88" fill="#f6d7d7" />
<rect x="206.12" y="321.22" width="12.13" height="3.88" fill="#e9a0a0" />
<rect x="217.95" y="321.22" width="12.13" height="3.88" fill="#e9a0a0" />
<rect x="229.78" y="321.22" width="12.13" height="3.88" fill="#f4cfcf" />
<rect x="241.61" y="321.22" width="12.13" height="3.88" fill="#edafaf" />
<rect x="253.44" y="321.22" width="12.13" height="3.88" fill="#ffffff" />
<rect x="265.27" y="321.22" width="12.13" height="3.88" fill="#f0bfbf" />
<rect x="277.10" y="321.22" width="12.13" height="3.88" fill="#f6d7d7" />
<rect x="288.93" y="321.22" width="12.13" height="3.88" fill="#f8dfdf" />
<rect x="300.76" y="321.22" width="12.13" height="3.88" fill="#f4cfcf" />
<rect x="312.59" y="321.22" width="12.13" height="3.88" fill="#edafaf" />
<rect x="324.42" y="321.22" width="12.13" height="3.88" fill="#edafaf" />
<rect x="336.25" y="321.22" width="12.13" height="3.88" fill="#f6d7d7" />
<rect x="348.08" y="321.22" width="12.13" height="3.88" fill="#f8dfdf" />
<rect x="40.50" y="324.81" width="12.13" height="3.88" fill="#adbad6" />
<rect x="52.33" y="324.81" width="12.13" height="3.88" fill="#ced6e7" />
<rect x="64.16" y="324.81" width="12.13" height="3.88" fill="#e6eaf3" />
<rect x="75.99" y="324.81" width="12.13" height="3.88" fill="#ffffff" />
<rect x="87.82" y="324.81" width="12.13" height="3.88" fill="#3b5194" />
<rect x="99.65" y="324.81" width="12.13" height="3.88" fill="#5166a2" />
<rect x="111.48" y="324.81" width="12.13" height="3.88" fill="#9dadce" />
<rect x="123.31" y="324.81" width="12.13" height="3.88" fill="#9dadce" />
<rect x="135.14" y="324.81" width="12.13" height="3.88" fill="#8c9fc6" />
<rect x="146.97" y="324.81" width="12.13" height="3.88" fill="#f8dfdf" />
<rect x="158.80" y="324.81" width="12.13" height="3.88" fill="#f6d7d7" />
<rect x="170.63" y="324.81" width="12.13" height="3.88" fill="#fbefef" />
<rect x="182.46" y="324.81" width="12.13" height="3.88" fill="#f0bfbf" />
<rect x="194.29" y="324.81" width="12.13" height="3.88" fill="#f0bfbf" />
<rect x="206.12" y="324.81" width="12.13" height="3.88" fill="#e79898" />
<rect x="217.95" y="324.81" width="12.13" height="3.88" fill="#e59090" />
<rect x="229.78" y="324.81" width="12.13" height="3.88" fill="#f6d7d7" />
<rect x="241.61" y="324.81" width="12.13" height="3.88" fill="#eba7a7" />
<rect x="253.44" y="324.81" width="12.13" height="3.88" fill="#ffffff" />
<rect x="265.27" y="324.81" width="12.13" height="3.88" fill="#f2c7c7" />
<rect x="277.10" y="324.81" width="12.13" height="3.88" fill="#f4cfcf" />
<rect x="288.93" y="324.81" width="12.13" height="3.88" fill="#f4cfcf" />
<rect x="300.76" y="324.81" width="12.13" height="3.88" fill="#f8dfdf" />
<rect x="312.59" y="324.81" width="12.13" height="3.88" fill="#edafaf" />
<rect x="324.42" y="324.81" width="12.13" height="3.88" fill="#f6d7d7" />
<rect x="336.25" y="324.81" width="12.13" height="3.88" fill="#f4cfcf" />
<rect x="348.08" y="324.81" width="12.13" height="3.88" fill="#fbefef" />
<rect x="40.50" y="328.39" width="12.13" height="3.88" fill="#bdc8de" />
<rect x="52.33" y="328.39" width="12.13" height="3.88" fill="#ced6e7" />
<rect x="64.16" y="328.39" width="12.13" height="3.88" fill="#e6eaf3" />
<rect x="75.99" y="328.39" width="12.13" height="3.88" fill="#eff1f7" />
<rect x="87.82" y="328.39" width="12.13" height="3.88" fill="#1d3482" />
<rect x="99.65" y="328.39" width="12.13" height="3.88" fill="#5166a2" />
<rect x="111.48" y="328.39" width="12.13" height="3.88" fill="#8c9fc6" />
<rect x="123.31" y="328.39" width="12.13" height="3.88" fill="#adbad6" />
<rect x="135.14" y="328.39" width="12.13" height="3.88" fill="#94a6ca" />
<rect x="146.97" y="328.39" width="12.13" height="3.88" fill="#f8dfdf" />
<rect x="158.80" y="328.39" width="12.13" height="3.88" fill="#f4cfcf" />
<rect x="170.63" y="328.39" width="12.13" height="3.88" fill="#ffffff" />
<rect x="182.46" y="328.39" width="12.13" height="3.88" fill="#fae7e7" />
<rect x="194.29" y="328.39" width="12.13" height="3.88" fill="#f4cfcf" />
<rect x="206.12" y="328.39" width="12.13" height="3.88" fill="#edafaf" />
<rect x="217.95" y="328.39" width="12.13" height="3.88" fill="#edafaf" />
<rect x="229.78" y="328.39" width="12.13" height="3.88" fill="#f6d7d7" />
<rect x="241.61" y="328.39" width="12.13" height="3.88" fill="#eeb7b7" />
<rect x="253.44" y="328.39" width="12.13" height="3.88" fill="#ffffff" />
<rect x="265.27" y="328.39" width="12.13" height="3.88" fill="#f0bfbf" />
<rect x="277.10" y="328.39" width="12.13" height="3.88" fill="#f4cfcf" />
<rect x="288.93" y="328.39" width="12.13" height="3.88" fill="#f4cfcf" />
<rect x="300.76" y="328.39" width="12.13" height="3.88" fill="#f8dfdf" />
<rect x="312.59" y="328.39" width="12.13" height="3.88" fill="#edafaf" />
<rect x="324.42" y="328.39" width="12.13" height="3.88" fill="#f6d7d7" />
<rect x="336.25" y="328.39" width="12.13" height="3.88" fill="#f4cfcf" />
<rect x="348.08" y="328.39" width="12.13" height="3.88" fill="#fbefef" />
<rect x="40.50" y="331.97" width="12.13" height="3.88" fill="#e07878" />
<rect x="52.33" y="331.97" width="12.13" height="3.88" fill="#f2c7c7" />
<rect x="64.16" y="331.97" width="12.13" height="3.88" fill="#f6d7d7" />
<rect x="75.99" y="331.97" width="12.13" height="3.88" fill="#f4cfcf" />
<rect x="87.82" y="331.97" width="12.13" height="3.88" fill="#9dadce" />
<rect x="99.65" y="331.97" width="12.13" height="3.88" fill="#e07878" />
<rect x="111.48" y="331.97" width="12.13" height="3.88" fill="#f0bfbf" />
<rect x="123.31" y="331.97" width="12.13" height="3.88" fill="#f2c7c7" />
<rect x="135.14" y="331.97" width="12.13" height="3.88" fill="#e48888" />
<rect x="146.97" y="331.97" width="12.13" height="3.88" fill="#ffffff" />
<rect x="158.80" y="331.97" width="12.13" height="3.88" fill="#f8dfdf" />
<rect x="170.63" y="331.97" width="12.13" height="3.88" fill="#fae7e7" />
<rect x="182.46" y="331.97" width="12.13" height="3.88" fill="#ffffff" />
<rect x="194.29" y="331.97" width="12.13" height="3.88" fill="#f4cfcf" />
<rect x="206.12" y="331.97" width="12.13" height="3.88" fill="#f4cfcf" />
<rect x="217.95" y="331.97" width="12.13" height="3.88" fill="#ffffff" />
<rect x="229.78" y="331.97" width="12.13" height="3.88" fill="#f4cfcf" />
<rect x="241.61" y="331.97" width="12.13" height="3.88" fill="#fbefef" />
<rect x="253.44" y="331.97" width="12.13" height="3.88" fill="#3b5194" />
<rect x="265.27" y="331.97" width="12.13" height="3.88" fill="#8c9fc6" />
<rect x="277.10" y="331.97" width="12.13" height="3.88" fill="#6e83b4" />
<rect x="288.93" y="331.97" width="12.13" height="3.88" fill="#ffffff" />
<rect x="300.76" y="331.97" width="12.13" height="3.88" fill="#6e83b4" />
<rect x="312.59" y="331.97" width="12.13" height="3.88" fill="#9dadce" />
<rect x="324.42" y="331.97" width="12.13" height="3.88" fill="#fbefef" />
<rect x="336.25" y="331.97" width="12.13" height="3.88" fill="#ffffff" />
<rect x="348.08" y="331.97" width="12.13" height="3.88" fill="#adbad6" />
<rect x="40.50" y="335.56" width="12.13" height="3.88" fill="#a5b3d2" />
<rect x="52.33" y="335.56" width="12.13" height="3.88" fill="#b5c1da" />
<rect x="64.16" y="335.56" width="12.13" height="3.88" fill="#e6eaf3" />
<rect x="75.99" y="335.56" width="12.13" height="3.88" fill="#ced6e7" />
<rect x="87.82" y="335.56" width="12.13" height="3.88" fill="#3b5194" />
<rect x="99.65" y="335.56" width="12.13" height="3.88" fill="#adbad6" />
<rect x="111.48" y="335.56" width="12.13" height="3.88" fill="#adbad6" />
<rect x="123.31" y="335.56" width="12.13" height="3.88" fill="#adbad6" />
<rect x="135.14" y="335.56" width="12.13" height="3.88" fill="#9dadce" />
<rect x="146.97" y="335.56" width="12.13" height="3.88" fill="#fbefef" />
<rect x="158.80" y="335.56" width="12.13" height="3.88" fill="#edafaf" />
<rect x="170.63" y="335.56" width="12.13" height="3.88" fill="#eeb7b7" />
<rect x="182.46" y="335.56" width="12.13" height="3.88" fill="#fbefef" />
<rect x="194.29" y="335.56" width="12.13" height="3.88" fill="#fae7e7" />
<rect x="206.12" y="335.56" width="12.13" height="3.88" fill="#f0bfbf" />
<rect x="217.95" y="335.56" width="12.13" height="3.88" fill="#edafaf" />
<rect x="229.78" y="335.56" width="12.13" height="3.88" fill="#fbefef" />
<rect x="241.61" y="335.56" width="12.13" height="3.88" fill="#f8dfdf" />
<rect x="253.44" y="335.56" width="12.13" height="3.88" fill="#f4cfcf" />
<rect x="265.27" y="335.56" width="12.13" height="3.88" fill="#f0bfbf" />
<rect x="277.10" y="335.56" width="12.13" height="3.88" fill="#fae7e7" />
<rect x="288.93" y="335.56" width="12.13" height="3.88" fill="#f4cfcf" />
<rect x="300.76" y="335.56" width="12.13" height="3.88" fill="#eba7a7" />
<rect x="312.59" y="335.56" width="12.13" height="3.88" fill="#fbefef" />
<rect x="324.42" y="335.56" width="12.13" height="3.88" fill="#fbefef" />
<rect x="336.25" y="335.56" width="12.13" height="3.88" fill="#ffffff" />
<rect x="348.08" y="335.56" width="12.13" height="3.88" fill="#f0bfbf" />
<rect x="40.50" y="339.14" width="12.13" height="3.88" fill="#f8dfdf" />
<rect x="52.33" y="339.14" width="12.13" height="3.88" fill="#f4cfcf" />
<rect x="64.16" y="339.14" width="12.13" height="3.88" fill="#fae7e7" />
<rect x="75.99" y="339.14" width="12.13" height="3.88" fill="#f8dfdf" />
<rect x="87.82" y="339.14" width="12.13" height="3.88" fill="#dee4ef" />
<rect x="99.65" y="339.14" width="12.13" height="3.88" fill="#fae7e7" />
<rect x="111.48" y="339.14" width="12.13" height="3.88" fill="#f8dfdf" />
<rect x="123.31" y="339.14" width="12.13" height="3.88" fill="#f6d7d7" />
<rect x="135.14" y="339.14" width="12.13" height="3.88" fill="#fae7e7" />
<rect x="146.97" y="339.14" width="12.13" height="3.88" fill="#7d91bd" />
<rect x="158.80" y="339.14" width="12.13" height="3.88" fill="#8c9fc6" />
<rect x="170.63" y="339.14" width="12.13" height="3.88" fill="#8c9fc6" />
<rect x="182.46" y="339.14" width="12.13" height="3.88" fill="#6e83b4" />
<rect x="194.29" y="339.14" width="12.13" height="3.88" fill="#b5c1da" />
<rect x="206.12" y="339.14" width="12.13" height="3.88" fill="#9dadce" />
<rect x="217.95" y="339.14" width="12.13" height="3.88" fill="#8c9fc6" />
<rect x="229.78" y="339.14" width="12.13" height="3.88" fill="#b5c1da" />
<rect x="241.61" y="339.14" width="12.13" height="3.88" fill="#8c9fc6" />
<rect x="253.44" y="339.14" width="12.13" height="3.88" fill="#ffffff" />
<rect x="265.27" y="339.14" width="12.13" height="3.88" fill="#f0bfbf" />
<rect x="277.10" y="339.14" width="12.13" height="3.88" fill="#edafaf" />
<rect x="288.93" y="339.14" width="12.13" height="3.88" fill="#f0bfbf" />
<rect x="300.76" y="339.14" width="12.13" height="3.88" fill="#f4cfcf" />
<rect x="312.59" y="339.14" width="12.13" height="3.88" fill="#f8dfdf" />
<rect x="324.42" y="339.14" width="12.13" height="3.88" fill="#fae7e7" />
<rect x="336.25" y="339.14" width="12.13" height="3.88" fill="#e59090" />
<rect x="348.08" y="339.14" width="12.13" height="3.88" fill="#edafaf" />
<rect x="40.50" y="342.73" width="12.13" height="3.88" fill="#5166a2" />
<rect x="52.33" y="342.73" width="12.13" height="3.88" fill="#94a6ca" />
<rect x="64.16" y="342.73" width="12.13" height="3.88" fill="#adbad6" />
<rect x="75.99" y="342.73" width="12.13" height="3.88" fill="#bdc8de" />
<rect x="87.82" y="342.73" width="12.13" height="3.88" fill="#94a6ca" />
<rect x="99.65" y="342.73" width="12.13" height="3.88" fill="#5f74ab" />
<rect x="111.48" y="342.73" width="12.13" height="3.88" fill="#eff1f7" />
<rect x="123.31" y="342.73" width="12.13" height="3.88" fill="#ffffff" />
<rect x="135.14" y="342.73" width="12.13" height="3.88" fill="#ced6e7" />
<rect x="146.97" y="342.73" width="12.13" height="3.88" fill="#dc6868" />
<rect x="158.80" y="342.73" width="12.13" height="3.88" fill="#eeb7b7" />
<rect x="170.63" y="342.73" width="12.13" height="3.88" fill="#f2c7c7" />
<rect x="182.46" y="342.73" width="12.13" height="3.88" fill="#f8dfdf" />
<rect x="194.29" y="342.73" width="12.13" height="3.88" fill="#ced6e7" />
<rect x="206.12" y="342.73" width="12.13" height="3.88" fill="#f4cfcf" />
<rect x="217.95" y="342.73" width="12.13" height="3.88" fill="#f6d7d7" />
<rect x="229.78" y="342.73" width="12.13" height="3.88" fill="#ced6e7" />
<rect x="241.61" y="342.73" width="12.13" height="3.88" fill="#f8dfdf" />
<rect x="253.44" y="342.73" width="12.13" height="3.88" fill="#ffffff" />
<rect x="265.27" y="342.73" width="12.13" height="3.88" fill="#f0bfbf" />
<rect x="277.10" y="342.73" width="12.13" height="3.88" fill="#edafaf" />
<rect x="288.93" y="342.73" width="12.13" height="3.88" fill="#f6d7d7" />
<rect x="300.76" y="342.73" width="12.13" height="3.88" fill="#fbefef" />
<rect x="312.59" y="342.73" width="12.13" height="3.88" fill="#f8dfdf" />
<rect x="324.42" y="342.73" width="12.13" height="3.88" fill="#f6d7d7" />
<rect x="336.25" y="342.73" width="12.13" height="3.88" fill="#f4cfcf" />
<rect x="348.08" y="342.73" width="12.13" height="3.88" fill="#f4cfcf" />
<rect x="40.50" y="346.31" width="12.13" height="3.88" fill="#bdc8de" />
<rect x="52.33" y="346.31" width="12.13" height="3.88" fill="#ced6e7" />
<rect x="64.16" y="346.31" width="12.13" height="3.88" fill="#ffffff" />
<rect x="75.99" y="346.31" width="12.13" height="3.88" fill="#c6cfe3" />
<rect x="87.82" y="346.31" width="12.13" height="3.88" fill="#adbad6" />
<rect x="99.65" y="346.31" width="12.13" height="3.88" fill="#7d91bd" />
<rect x="111.48" y="346.31" width="12.13" height="3.88" fill="#6e83b4" />
<rect x="123.31" y="346.31" width="12.13" height="3.88" fill="#b5c1da" />
<rect x="135.14" y="346.31" width="12.13" height="3.88" fill="#adbad6" />
<rect x="146.97" y="346.31" width="12.13" height="3.88" fill="#fae7e7" />
<rect x="158.80" y="346.31" width="12.13" height="3.88" fill="#fbefef" />
<rect x="170.63" y="346.31" width="12.13" height="3.88" fill="#f8dfdf" />
<rect x="182.46" y="346.31" width="12.13" height="3.88" fill="#f6d7d7" />
<rect x="194.29" y="346.31" width="12.13" height="3.88" fill="#f8dfdf" />
<rect x="206.12" y="346.31" width="12.13" height="3.88" fill="#edafaf" />
<rect x="217.95" y="346.31" width="12.13" height="3.88" fill="#edafaf" />
<rect x="229.78" y="346.31" width="12.13" height="3.88" fill="#fbefef" />
<rect x="241.61" y="346.31" width="12.13" height="3.88" fill="#f0bfbf" />
<rect x="253.44" y="346.31" width="12.13" height="3.88" fill="#fae7e7" />
<rect x="265.27" y="346.31" width="12.13" height="3.88" fill="#f0bfbf" />
<rect x="277.10" y="346.31" width="12.13" height="3.88" fill="#edafaf" />
<rect x="288.93" y="346.31" width="12.13" height="3.88" fill="#f4cfcf" />
<rect x="300.76" y="346.31" width="12.13" height="3.88" fill="#f4cfcf" />
<rect x="312.59" y="346.31" width="12.13" height="3.88" fill="#f4cfcf" />
<rect x="324.42" y="346.31" width="12.13" height="3.88" fill="#f0bfbf" />
<rect x="336.25" y="346.31" width="12.13" height="3.88" fill="#f4cfcf" />
<rect x="348.08" y="346.31" width="12.13" height="3.88" fill="#f8dfdf" />
<rect x="40.50" y="349.90" width="12.13" height="3.88" fill="#adbad6" />
<rect x="52.33" y="349.90" width="12.13" height="3.88" fill="#bdc8de" />
<rect x="64.16" y="349.90" width="12.13" height="3.88" fill="#ffffff" />
<rect x="75.99" y="349.90" width="12.13" height="3.88" fill="#94a6ca" />
<rect x="87.82" y="349.90" width="12.13" height="3.88" fill="#9dadce" />
<rect x="99.65" y="349.90" width="12.13" height="3.88" fill="#f4cfcf" />
<rect x="111.48" y="349.90" width="12.13" height="3.88" fill="#f8dfdf" />
<rect x="123.31" y="349.90" width="12.13" height="3.88" fill="#f8dfdf" />
<rect x="135.14" y="349.90" width="12.13" height="3.88" fill="#f8dfdf" />
<rect x="146.97" y="349.90" width="12.13" height="3.88" fill="#adbad6" />
<rect x="158.80" y="349.90" width="12.13" height="3.88" fill="#adbad6" />
<rect x="170.63" y="349.90" width="12.13" height="3.88" fill="#9dadce" />
<rect x="182.46" y="349.90" width="12.13" height="3.88" fill="#9dadce" />
<rect x="194.29" y="349.90" width="12.13" height="3.88" fill="#adbad6" />
<rect x="206.12" y="349.90" width="12.13" height="3.88" fill="#adbad6" />
<rect x="217.95" y="349.90" width="12.13" height="3.88" fill="#adbad6" />
<rect x="229.78" y="349.90" width="12.13" height="3.88" fill="#9dadce" />
<rect x="241.61" y="349.90" width="12.13" height="3.88" fill="#adbad6" />
<rect x="253.44" y="349.90" width="12.13" height="3.88" fill="#e9a0a0" />
<rect x="265.27" y="349.90" width="12.13" height="3.88" fill="#e59090" />
<rect x="277.10" y="349.90" width="12.13" height="3.88" fill="#e59090" />
<rect x="288.93" y="349.90" width="12.13" height="3.88" fill="#e59090" />
<rect x="300.76" y="349.90" width="12.13" height="3.88" fill="#edafaf" />
<rect x="312.59" y="349.90" width="12.13" height="3.88" fill="#e9a0a0" />
<rect x="324.42" y="349.90" width="12.13" height="3.88" fill="#e9a0a0" />
<rect x="336.25" y="349.90" width="12.13" height="3.88" fill="#edafaf" />
<rect x="348.08" y="349.90" width="12.13" height="3.88" fill="#edafaf" />
<rect x="40.50" y="353.49" width="12.13" height="3.88" fill="#f4cfcf" />
<rect x="52.33" y="353.49" width="12.13" height="3.88" fill="#fae7e7" />
<rect x="64.16" y="353.49" width="12.13" height="3.88" fill="#bdc8de" />
<rect x="75.99" y="353.49" width="12.13" height="3.88" fill="#bdc8de" />
<rect x="87.82" y="353.49" width="12.13" height="3.88" fill="#94a6ca" />
<rect x="99.65" y="353.49" width="12.13" height="3.88" fill="#e6eaf3" />
<rect x="111.48" y="353.49" width="12.13" height="3.88" fill="#334a8f" />
<rect x="123.31" y="353.49" width="12.13" height="3.88" fill="#9dadce" />
<rect x="135.14" y="353.49" width="12.13" height="3.88" fill="#bdc8de" />
<rect x="146.97" y="353.49" width="12.13" height="3.88" fill="#e6eaf3" />
<rect x="158.80" y="353.49" width="12.13" height="3.88" fill="#e6eaf3" />
<rect x="170.63" y="353.49" width="12.13" height="3.88" fill="#e79898" />
<rect x="182.46" y="353.49" width="12.13" height="3.88" fill="#edafaf" />
<rect x="194.29" y="353.49" width="12.13" height="3.88" fill="#f4cfcf" />
<rect x="206.12" y="353.49" width="12.13" height="3.88" fill="#ffffff" />
<rect x="217.95" y="353.49" width="12.13" height="3.88" fill="#e28080" />
<rect x="229.78" y="353.49" width="12.13" height="3.88" fill="#f0bfbf" />
<rect x="241.61" y="353.49" width="12.13" height="3.88" fill="#f4cfcf" />
<rect x="253.44" y="353.49" width="12.13" height="3.88" fill="#e9a0a0" />
<rect x="265.27" y="353.49" width="12.13" height="3.88" fill="#f8dfdf" />
<rect x="277.10" y="353.49" width="12.13" height="3.88" fill="#bdc8de" />
<rect x="288.93" y="353.49" width="12.13" height="3.88" fill="#ffffff" />
<rect x="300.76" y="353.49" width="12.13" height="3.88" fill="#bdc8de" />
<rect x="312.59" y="353.49" width="12.13" height="3.88" fill="#ffffff" />
<rect x="324.42" y="353.49" width="12.13" height="3.88" fill="#ffffff" />
<rect x="336.25" y="353.49" width="12.13" height="3.88" fill="#edafaf" />
<rect x="348.08" y="353.49" width="12.13" height="3.88" fill="#fae7e7" />
<rect x="40.50" y="357.07" width="12.13" height="3.88" fill="#ced6e7" />
<rect x="52.33" y="357.07" width="12.13" height="3.88" fill="#dee4ef" />
<rect x="64.16" y="357.07" width="12.13" height="3.88" fill="#bdc8de" />
<rect x="75.99" y="357.07" width="12.13" height="3.88" fill="#d6ddeb" />
<rect x="87.82" y="357.07" width="12.13" height="3.88" fill="#a5b3d2" />
<rect x="99.65" y="357.07" width="12.13" height="3.88" fill="#ced6e7" />
<rect x="111.48" y="357.07" width="12.13" height="3.88" fill="#334a8f" />
<rect x="123.31" y="357.07" width="12.13" height="3.88" fill="#bdc8de" />
<rect x="135.14" y="357.07" width="12.13" height="3.88" fill="#e6eaf3" />
<rect x="146.97" y="357.07" width="12.13" height="3.88" fill="#f4cfcf" />
<rect x="158.80" y="357.07" width="12.13" height="3.88" fill="#f4cfcf" />
<rect x="170.63" y="357.07" width="12.13" height="3.88" fill="#f6d7d7" />
<rect x="182.46" y="357.07" width="12.13" height="3.88" fill="#f0bfbf" />
<rect x="194.29" y="357.07" width="12.13" height="3.88" fill="#f4cfcf" />
<rect x="206.12" y="357.07" width="12.13" height="3.88" fill="#f0bfbf" />
<rect x="217.95" y="357.07" width="12.13" height="3.88" fill="#f4cfcf" />
<rect x="229.78" y="357.07" width="12.13" height="3.88" fill="#e59090" />
<rect x="241.61" y="357.07" width="12.13" height="3.88" fill="#f0bfbf" />
<rect x="253.44" y="357.07" width="12.13" height="3.88" fill="#edafaf" />
<rect x="265.27" y="357.07" width="12.13" height="3.88" fill="#f4cfcf" />
<rect x="277.10" y="357.07" width="12.13" height="3.88" fill="#ced6e7" />
<rect x="288.93" y="357.07" width="12.13" height="3.88" fill="#e6eaf3" />
<rect x="300.76" y="357.07" width="12.13" height="3.88" fill="#5f74ab" />
<rect x="312.59" y="357.07" width="12.13" height="3.88" fill="#f8dfdf" />
<rect x="324.42" y="357.07" width="12.13" height="3.88" fill="#f8dfdf" />
<rect x="336.25" y="357.07" width="12.13" height="3.88" fill="#f0bfbf" />
<rect x="348.08" y="357.07" width="12.13" height="3.88" fill="#f6d7d7" />
<rect x="40.50" y="360.65" width="12.13" height="3.88" fill="#5166a2" />
<rect x="52.33" y="360.65" width="12.13" height="3.88" fill="#dee4ef" />
<rect x="64.16" y="360.65" width="12.13" height="3.88" fill="#e6eaf3" />
<rect x="75.99" y="360.65" width="12.13" height="3.88" fill="#bdc8de" />
<rect x="87.82" y="360.65" width="12.13" height="3.88" fill="#9dadce" />
<rect x="99.65" y="360.65" width="12.13" height="3.88" fill="#5f74ab" />
<rect x="111.48" y="360.65" width="12.13" height="3.88" fill="#5f74ab" />
<rect x="123.31" y="360.65" width="12.13" height="3.88" fill="#e6eaf3" />
<rect x="135.14" y="360.65" width="12.13" height="3.88" fill="#eff1f7" />
<rect x="146.97" y="360.65" width="12.13" height="3.88" fill="#f4cfcf" />
<rect x="158.80" y="360.65" width="12.13" height="3.88" fill="#f0bfbf" />
<rect x="170.63" y="360.65" width="12.13" height="3.88" fill="#f8dfdf" />
<rect x="182.46" y="360.65" width="12.13" height="3.88" fill="#f0bfbf" />
<rect x="194.29" y="360.65" width="12.13" height="3.88" fill="#f4cfcf" />
<rect x="206.12" y="360.65" width="12.13" height="3.88" fill="#f4cfcf" />
<rect x="217.95" y="360.65" width="12.13" height="3.88" fill="#fbefef" />
<rect x="229.78" y="360.65" width="12.13" height="3.88" fill="#e9a0a0" />
<rect x="241.61" y="360.65" width="12.13" height="3.88" fill="#f0bfbf" />
<rect x="253.44" y="360.65" width="12.13" height="3.88" fill="#f0bfbf" />
<rect x="265.27" y="360.65" width="12.13" height="3.88" fill="#f4cfcf" />
<rect x="277.10" y="360.65" width="12.13" height="3.88" fill="#ffffff" />
<rect x="288.93" y="360.65" width="12.13" height="3.88" fill="#ffffff" />
<rect x="300.76" y="360.65" width="12.13" height="3.88" fill="#5f74ab" />
<rect x="312.59" y="360.65" width="12.13" height="3.88" fill="#f6d7d7" />
<rect x="324.42" y="360.65" width="12.13" height="3.88" fill="#f8dfdf" />
<rect x="336.25" y="360.65" width="12.13" height="3.88" fill="#e9a0a0" />
<rect x="348.08" y="360.65" width="12.13" height="3.88" fill="#f0bfbf" />
<rect x="40.50" y="364.24" width="12.13" height="3.88" fill="#5166a2" />
<rect x="52.33" y="364.24" width="12.13" height="3.88" fill="#dee4ef" />
<rect x="64.16" y="364.24" width="12.13" height="3.88" fill="#e6eaf3" />
<rect x="75.99" y="364.24" width="12.13" height="3.88" fill="#ffffff" />
<rect x="87.82" y="364.24" width="12.13" height="3.88" fill="#5f74ab" />
<rect x="99.65" y="364.24" width="12.13" height="3.88" fill="#dee4ef" />
<rect x="111.48" y="364.24" width="12.13" height="3.88" fill="#7d91bd" />
<rect x="123.31" y="364.24" width="12.13" height="3.88" fill="#e6eaf3" />
<rect x="135.14" y="364.24" width="12.13" height="3.88" fill="#eff1f7" />
<rect x="146.97" y="364.24" width="12.13" height="3.88" fill="#e9a0a0" />
<rect x="158.80" y="364.24" width="12.13" height="3.88" fill="#edafaf" />
<rect x="170.63" y="364.24" width="12.13" height="3.88" fill="#f0bfbf" />
<rect x="182.46" y="364.24" width="12.13" height="3.88" fill="#edafaf" />
<rect x="194.29" y="364.24" width="12.13" height="3.88" fill="#edafaf" />
<rect x="206.12" y="364.24" width="12.13" height="3.88" fill="#f0bfbf" />
<rect x="217.95" y="364.24" width="12.13" height="3.88" fill="#f4cfcf" />
<rect x="229.78" y="364.24" width="12.13" height="3.88" fill="#f8dfdf" />
<rect x="241.61" y="364.24" width="12.13" height="3.88" fill="#f0bfbf" />
<rect x="253.44" y="364.24" width="12.13" height="3.88" fill="#f0bfbf" />
<rect x="265.27" y="364.24" width="12.13" height="3.88" fill="#6e83b4" />
<rect x="277.10" y="364.24" width="12.13" height="3.88" fill="#d6ddeb" />
<rect x="288.93" y="364.24" width="12.13" height="3.88" fill="#fae7e7" />
<rect x="300.76" y="364.24" width="12.13" height="3.88" fill="#bdc8de" />
<rect x="312.59" y="364.24" width="12.13" height="3.88" fill="#f8dfdf" />
<rect x="324.42" y="364.24" width="12.13" height="3.88" fill="#dee4ef" />
<rect x="336.25" y="364.24" width="12.13" height="3.88" fill="#8c9fc6" />
<rect x="348.08" y="364.24" width="12.13" height="3.88" fill="#f4cfcf" />
<rect x="40.50" y="367.82" width="12.13" height="3.88" fill="#5166a2" />
<rect x="52.33" y="367.82" width="12.13" height="3.88" fill="#dee4ef" />
<rect x="64.16" y="367.82" width="12.13" height="3.88" fill="#dee4ef" />
<rect x="75.99" y="367.82" width="12.13" height="3.88" fill="#b5c1da" />
<rect x="87.82" y="367.82" width="12.13" height="3.88" fill="#7d91bd" />
<rect x="99.65" y="367.82" width="12.13" height="3.88" fill="#dee4ef" />
<rect x="111.48" y="367.82" width="12.13" height="3.88" fill="#7d91bd" />
<rect x="123.31" y="367.82" width="12.13" height="3.88" fill="#ced6e7" />
<rect x="135.14" y="367.82" width="12.13" height="3.88" fill="#fbefef" />
<rect x="146.97" y="367.82" width="12.13" height="3.88" fill="#f0bfbf" />
<rect x="158.80" y="367.82" width="12.13" height="3.88" fill="#edafaf" />
<rect x="170.63" y="367.82" width="12.13" height="3.88" fill="#f0bfbf" />
<rect x="182.46" y="367.82" width="12.13" height="3.88" fill="#de7070" />
<rect x="194.29" y="367.82" width="12.13" height="3.88" fill="#edafaf" />
<rect x="206.12" y="367.82" width="12.13" height="3.88" fill="#f0bfbf" />
<rect x="217.95" y="367.82" width="12.13" height="3.88" fill="#f0bfbf" />
<rect x="229.78" y="367.82" width="12.13" height="3.88" fill="#f6d7d7" />
<rect x="241.61" y="367.82" width="12.13" height="3.88" fill="#f4cfcf" />
<rect x="253.44" y="367.82" width="12.13" height="3.88" fill="#f0bfbf" />
<rect x="265.27" y="367.82" width="12.13" height="3.88" fill="#8c9fc6" />
<rect x="277.10" y="367.82" width="12.13" height="3.88" fill="#fae7e7" />
<rect x="288.93" y="367.82" width="12.13" height="3.88" fill="#ffffff" />
<rect x="300.76" y="367.82" width="12.13" height="3.88" fill="#9dadce" />
<rect x="312.59" y="367.82" width="12.13" height="3.88" fill="#ced6e7" />
<rect x="324.42" y="367.82" width="12.13" height="3.88" fill="#ffffff" />
<rect x="336.25" y="367.82" width="12.13" height="3.88" fill="#9dadce" />
<rect x="348.08" y="367.82" width="12.13" height="3.88" fill="#f4cfcf" />
<rect x="40.50" y="371.41" width="12.13" height="3.88" fill="#f4cfcf" />
<rect x="52.33" y="371.41" width="12.13" height="3.88" fill="#e9a0a0" />
<rect x="64.16" y="371.41" width="12.13" height="3.88" fill="#e28080" />
<rect x="75.99" y="371.41" width="12.13" height="3.88" fill="#e59090" />
<rect x="87.82" y="371.41" width="12.13" height="3.88" fill="#e9a0a0" />
<rect x="99.65" y="371.41" width="12.13" height="3.88" fill="#edafaf" />
<rect x="111.48" y="371.41" width="12.13" height="3.88" fill="#edafaf" />
<rect x="123.31" y="371.41" width="12.13" height="3.88" fill="#f0bfbf" />
<rect x="135.14" y="371.41" width="12.13" height="3.88" fill="#f0bfbf" />
<rect x="146.97" y="371.41" width="12.13" height="3.88" fill="#f8dfdf" />
<rect x="158.80" y="371.41" width="12.13" height="3.88" fill="#f4cfcf" />
<rect x="170.63" y="371.41" width="12.13" height="3.88" fill="#bdc8de" />
<rect x="182.46" y="371.41" width="12.13" height="3.88" fill="#e6eaf3" />
<rect x="194.29" y="371.41" width="12.13" height="3.88" fill="#e6eaf3" />
<rect x="206.12" y="371.41" width="12.13" height="3.88" fill="#d6ddeb" />
<rect x="217.95" y="371.41" width="12.13" height="3.88" fill="#8c9fc6" />
<rect x="229.78" y="371.41" width="12.13" height="3.88" fill="#bdc8de" />
<rect x="241.61" y="371.41" width="12.13" height="3.88" fill="#ced6e7" />
<rect x="253.44" y="371.41" width="12.13" height="3.88" fill="#6e83b4" />
<rect x="265.27" y="371.41" width="12.13" height="3.88" fill="#ced6e7" />
<rect x="277.10" y="371.41" width="12.13" height="3.88" fill="#f4cfcf" />
<rect x="288.93" y="371.41" width="12.13" height="3.88" fill="#ffffff" />
<rect x="300.76" y="371.41" width="12.13" height="3.88" fill="#bdc8de" />
<rect x="312.59" y="371.41" width="12.13" height="3.88" fill="#5f74ab" />
<rect x="324.42" y="371.41" width="12.13" height="3.88" fill="#5f74ab" />
<rect x="336.25" y="371.41" width="12.13" height="3.88" fill="#adbad6" />
<rect x="348.08" y="371.41" width="12.13" height="3.88" fill="#dee4ef" />
<rect x="40.50" y="375.00" width="12.13" height="3.88" fill="#eeb7b7" />
<rect x="52.33" y="375.00" width="12.13" height="3.88" fill="#e48888" />
<rect x="64.16" y="375.00" width="12.13" height="3.88" fill="#f0bfbf" />
<rect x="75.99" y="375.00" width="12.13" height="3.88" fill="#e9a0a0" />
<rect x="87.82" y="375.00" width="12.13" height="3.88" fill="#9dadce" />
<rect x="99.65" y="375.00" width="12.13" height="3.88" fill="#9dadce" />
<rect x="111.48" y="375.00" width="12.13" height="3.88" fill="#dee4ef" />
<rect x="123.31" y="375.00" width="12.13" height="3.88" fill="#adbad6" />
<rect x="135.14" y="375.00" width="12.13" height="3.88" fill="#9dadce" />
<rect x="146.97" y="375.00" width="12.13" height="3.88" fill="#ffffff" />
<rect x="158.80" y="375.00" width="12.13" height="3.88" fill="#e9a0a0" />
<rect x="170.63" y="375.00" width="12.13" height="3.88" fill="#f8dfdf" />
<rect x="182.46" y="375.00" width="12.13" height="3.88" fill="#e9a0a0" />
<rect x="194.29" y="375.00" width="12.13" height="3.88" fill="#f6d7d7" />
<rect x="206.12" y="375.00" width="12.13" height="3.88" fill="#ced6e7" />
<rect x="217.95" y="375.00" width="12.13" height="3.88" fill="#da6060" />
<rect x="229.78" y="375.00" width="12.13" height="3.88" fill="#f0bfbf" />
<rect x="241.61" y="375.00" width="12.13" height="3.88" fill="#ffffff" />
<rect x="253.44" y="375.00" width="12.13" height="3.88" fill="#ffffff" />
<rect x="265.27" y="375.00" width="12.13" height="3.88" fill="#dee4ef" />
<rect x="277.10" y="375.00" width="12.13" height="3.88" fill="#9dadce" />
<rect x="288.93" y="375.00" width="12.13" height="3.88" fill="#334a8f" />
<rect x="300.76" y="375.00" width="12.13" height="3.88" fill="#ced6e7" />
<rect x="312.59" y="375.00" width="12.13" height="3.88" fill="#adbad6" />
<rect x="324.42" y="375.00" width="12.13" height="3.88" fill="#f8dfdf" />
<rect x="336.25" y="375.00" width="12.13" height="3.88" fill="#fbefef" />
<rect x="348.08" y="375.00" width="12.13" height="3.88" fill="#fbefef" />
<rect x="40.50" y="378.58" width="12.13" height="3.88" fill="#edafaf" />
<rect x="52.33" y="378.58" width="12.13" height="3.88" fill="#edafaf" />
<rect x="64.16" y="378.58" width="12.13" height="3.88" fill="#e79898" />
<rect x="75.99" y="378.58" width="12.13" height="3.88" fill="#edafaf" />
<rect x="87.82" y="378.58" width="12.13" height="3.88" fill="#de7070" />
<rect x="99.65" y="378.58" width="12.13" height="3.88" fill="#e79898" />
<rect x="111.48" y="378.58" width="12.13" height="3.88" fill="#e9a0a0" />
<rect x="123.31" y="378.58" width="12.13" height="3.88" fill="#f0bfbf" />
<rect x="135.14" y="378.58" width="12.13" height="3.88" fill="#e59090" />
<rect x="146.97" y="378.58" width="12.13" height="3.88" fill="#fbefef" />
<rect x="158.80" y="378.58" width="12.13" height="3.88" fill="#fae7e7" />
<rect x="170.63" y="378.58" width="12.13" height="3.88" fill="#bdc8de" />
<rect x="182.46" y="378.58" width="12.13" height="3.88" fill="#dee4ef" />
<rect x="194.29" y="378.58" width="12.13" height="3.88" fill="#dee4ef" />
<rect x="206.12" y="378.58" width="12.13" height="3.88" fill="#dee4ef" />
<rect x="217.95" y="378.58" width="12.13" height="3.88" fill="#fbefef" />
<rect x="229.78" y="378.58" width="12.13" height="3.88" fill="#fbefef" />
<rect x="241.61" y="378.58" width="12.13" height="3.88" fill="#ffffff" />
<rect x="253.44" y="378.58" width="12.13" height="3.88" fill="#9dadce" />
<rect x="265.27" y="378.58" width="12.13" height="3.88" fill="#bdc8de" />
<rect x="277.10" y="378.58" width="12.13" height="3.88" fill="#adbad6" />
<rect x="288.93" y="378.58" width="12.13" height="3.88" fill="#e6eaf3" />
<rect x="300.76" y="378.58" width="12.13" height="3.88" fill="#ffffff" />
<rect x="312.59" y="378.58" width="12.13" height="3.88" fill="#5166a2" />
<rect x="324.42" y="378.58" width="12.13" height="3.88" fill="#5166a2" />
<rect x="336.25" y="378.58" width="12.13" height="3.88" fill="#6e83b4" />
<rect x="348.08" y="378.58" width="12.13" height="3.88" fill="#ced6e7" />
<rect x="40.50" y="382.16" width="12.13" height="3.88" fill="#f8dfdf" />
<rect x="52.33" y="382.16" width="12.13" height="3.88" fill="#f4cfcf" />
<rect x="64.16" y="382.16" width="12.13" height="3.88" fill="#f6d7d7" />
<rect x="75.99" y="382.16" width="12.13" height="3.88" fill="#ffffff" />
<rect x="87.82" y="382.16" width="12.13" height="3.88" fill="#f4cfcf" />
<rect x="99.65" y="382.16" width="12.13" height="3.88" fill="#f0bfbf" />
<rect x="111.48" y="382.16" width="12.13" height="3.88" fill="#f4cfcf" />
<rect x="123.31" y="382.16" width="12.13" height="3.88" fill="#edafaf" />
<rect x="135.14" y="382.16" width="12.13" height="3.88" fill="#f4cfcf" />
<rect x="146.97" y="382.16" width="12.13" height="3.88" fill="#8c9fc6" />
<rect x="158.80" y="382.16" width="12.13" height="3.88" fill="#9dadce" />
<rect x="170.63" y="382.16" width="12.13" height="3.88" fill="#7d91bd" />
<rect x="182.46" y="382.16" width="12.13" height="3.88" fill="#7d91bd" />
<rect x="194.29" y="382.16" width="12.13" height="3.88" fill="#9dadce" />
<rect x="206.12" y="382.16" width="12.13" height="3.88" fill="#7d91bd" />
<rect x="217.95" y="382.16" width="12.13" height="3.88" fill="#94a6ca" />
<rect x="229.78" y="382.16" width="12.13" height="3.88" fill="#9dadce" />
<rect x="241.61" y="382.16" width="12.13" height="3.88" fill="#bdc8de" />
<rect x="253.44" y="382.16" width="12.13" height="3.88" fill="#ffffff" />
<rect x="265.27" y="382.16" width="12.13" height="3.88" fill="#e59090" />
<rect x="277.10" y="382.16" width="12.13" height="3.88" fill="#e59090" />
<rect x="288.93" y="382.16" width="12.13" height="3.88" fill="#e59090" />
<rect x="300.76" y="382.16" width="12.13" height="3.88" fill="#adbad6" />
<rect x="312.59" y="382.16" width="12.13" height="3.88" fill="#f0bfbf" />
<rect x="324.42" y="382.16" width="12.13" height="3.88" fill="#f0bfbf" />
<rect x="336.25" y="382.16" width="12.13" height="3.88" fill="#f0bfbf" />
<rect x="348.08" y="382.16" width="12.13" height="3.88" fill="#f0bfbf" />
<rect x="40.50" y="385.75" width="12.13" height="3.88" fill="#ffffff" />
<rect x="52.33" y="385.75" width="12.13" height="3.88" fill="#e6eaf3" />
<rect x="64.16" y="385.75" width="12.13" height="3.88" fill="#5f74ab" />
<rect x="75.99" y="385.75" width="12.13" height="3.88" fill="#adbad6" />
<rect x="87.82" y="385.75" width="12.13" height="3.88" fill="#e6eaf3" />
<rect x="99.65" y="385.75" width="12.13" height="3.88" fill="#ffffff" />
<rect x="111.48" y="385.75" width="12.13" height="3.88" fill="#a5b3d2" />
<rect x="123.31" y="385.75" width="12.13" height="3.88" fill="#8498c2" />
<rect x="135.14" y="385.75" width="12.13" height="3.88" fill="#5f74ab" />
<rect x="146.97" y="385.75" width="12.13" height="3.88" fill="#dee4ef" />
<rect x="158.80" y="385.75" width="12.13" height="3.88" fill="#e6eaf3" />
<rect x="170.63" y="385.75" width="12.13" height="3.88" fill="#d6ddeb" />
<rect x="182.46" y="385.75" width="12.13" height="3.88" fill="#ffffff" />
<rect x="194.29" y="385.75" width="12.13" height="3.88" fill="#edafaf" />
<rect x="206.12" y="385.75" width="12.13" height="3.88" fill="#e9a0a0" />
<rect x="217.95" y="385.75" width="12.13" height="3.88" fill="#e9a0a0" />
<rect x="229.78" y="385.75" width="12.13" height="3.88" fill="#f0bfbf" />
<rect x="241.61" y="385.75" width="12.13" height="3.88" fill="#e28080" />
<rect x="253.44" y="385.75" width="12.13" height="3.88" fill="#e9a0a0" />
<rect x="265.27" y="385.75" width="12.13" height="3.88" fill="#ffffff" />
<rect x="277.10" y="385.75" width="12.13" height="3.88" fill="#fbefef" />
<rect x="288.93" y="385.75" width="12.13" height="3.88" fill="#ffffff" />
<rect x="300.76" y="385.75" width="12.13" height="3.88" fill="#fae7e7" />
<rect x="312.59" y="385.75" width="12.13" height="3.88" fill="#e79898" />
<rect x="324.42" y="385.75" width="12.13" height="3.88" fill="#e79898" />
<rect x="336.25" y="385.75" width="12.13" height="3.88" fill="#ffffff" />
<rect x="348.08" y="385.75" width="12.13" height="3.88" fill="#fbefef" />
<rect x="40.50" y="389.33" width="12.13" height="3.88" fill="#ced6e7" />
<rect x="52.33" y="389.33" width="12.13" height="3.88" fill="#adbad6" />
<rect x="64.16" y="389.33" width="12.13" height="3.88" fill="#bdc8de" />
<rect x="75.99" y="389.33" width="12.13" height="3.88" fill="#bdc8de" />
<rect x="87.82" y="389.33" width="12.13" height="3.88" fill="#425899" />
<rect x="99.65" y="389.33" width="12.13" height="3.88" fill="#bdc8de" />
<rect x="111.48" y="389.33" width="12.13" height="3.88" fill="#ced6e7" />
<rect x="123.31" y="389.33" width="12.13" height="3.88" fill="#ffffff" />
<rect x="135.14" y="389.33" width="12.13" height="3.88" fill="#ced6e7" />
<rect x="146.97" y="389.33" width="12.13" height="3.88" fill="#adbad6" />
<rect x="158.80" y="389.33" width="12.13" height="3.88" fill="#ced6e7" />
<rect x="170.63" y="389.33" width="12.13" height="3.88" fill="#e6eaf3" />
<rect x="182.46" y="389.33" width="12.13" height="3.88" fill="#9dadce" />
<rect x="194.29" y="389.33" width="12.13" height="3.88" fill="#ffffff" />
<rect x="206.12" y="389.33" width="12.13" height="3.88" fill="#e6eaf3" />
<rect x="217.95" y="389.33" width="12.13" height="3.88" fill="#fae7e7" />
<rect x="229.78" y="389.33" width="12.13" height="3.88" fill="#fbefef" />
<rect x="241.61" y="389.33" width="12.13" height="3.88" fill="#fbefef" />
<rect x="253.44" y="389.33" width="12.13" height="3.88" fill="#e9a0a0" />
<rect x="265.27" y="389.33" width="12.13" height="3.88" fill="#eeb7b7" />
<rect x="277.10" y="389.33" width="12.13" height="3.88" fill="#eba7a7" />
<rect x="288.93" y="389.33" width="12.13" height="3.88" fill="#eba7a7" />
<rect x="300.76" y="389.33" width="12.13" height="3.88" fill="#f4cfcf" />
<rect x="312.59" y="389.33" width="12.13" height="3.88" fill="#f4cfcf" />
<rect x="324.42" y="389.33" width="12.13" height="3.88" fill="#f4cfcf" />
<rect x="336.25" y="389.33" width="12.13" height="3.88" fill="#f0bfbf" />
<rect x="348.08" y="389.33" width="12.13" height="3.88" fill="#e9a0a0" />
<rect x="40.50" y="392.92" width="12.13" height="3.88" fill="#ffffff" />
<rect x="52.33" y="392.92" width="12.13" height="3.88" fill="#fae7e7" />
<rect x="64.16" y="392.92" width="12.13" height="3.88" fill="#f8dfdf" />
<rect x="75.99" y="392.92" width="12.13" height="3.88" fill="#f4cfcf" />
<rect x="87.82" y="392.92" width="12.13" height="3.88" fill="#3b5194" />
<rect x="99.65" y="392.92" width="12.13" height="3.88" fill="#e9a0a0" />
<rect x="111.48" y="392.92" width="12.13" height="3.88" fill="#f6d7d7" />
<rect x="123.31" y="392.92" width="12.13" height="3.88" fill="#eeb7b7" />
<rect x="135.14" y="392.92" width="12.13" height="3.88" fill="#f4cfcf" />
<rect x="146.97" y="392.92" width="12.13" height="3.88" fill="#7d91bd" />
<rect x="158.80" y="392.92" width="12.13" height="3.88" fill="#9dadce" />
<rect x="170.63" y="392.92" width="12.13" height="3.88" fill="#9dadce" />
<rect x="182.46" y="392.92" width="12.13" height="3.88" fill="#9dadce" />
<rect x="194.29" y="392.92" width="12.13" height="3.88" fill="#adbad6" />
<rect x="206.12" y="392.92" width="12.13" height="3.88" fill="#ced6e7" />
<rect x="217.95" y="392.92" width="12.13" height="3.88" fill="#f8dfdf" />
<rect x="229.78" y="392.92" width="12.13" height="3.88" fill="#8c9fc6" />
<rect x="241.61" y="392.92" width="12.13" height="3.88" fill="#bdc8de" />
<rect x="253.44" y="392.92" width="12.13" height="3.88" fill="#e6eaf3" />
<rect x="265.27" y="392.92" width="12.13" height="3.88" fill="#f0bfbf" />
<rect x="277.10" y="392.92" width="12.13" height="3.88" fill="#e79898" />
<rect x="288.93" y="392.92" width="12.13" height="3.88" fill="#e59090" />
<rect x="300.76" y="392.92" width="12.13" height="3.88" fill="#ffffff" />
<rect x="312.59" y="392.92" width="12.13" height="3.88" fill="#dee4ef" />
<rect x="324.42" y="392.92" width="12.13" height="3.88" fill="#ffffff" />
<rect x="336.25" y="392.92" width="12.13" height="3.88" fill="#f4cfcf" />
<rect x="348.08" y="392.92" width="12.13" height="3.88" fill="#f8dfdf" />
<rect x="40.50" y="396.50" width="12.13" height="3.88" fill="#fbefef" />
<rect x="52.33" y="396.50" width="12.13" height="3.88" fill="#d6ddeb" />
<rect x="64.16" y="396.50" width="12.13" height="3.88" fill="#ffffff" />
<rect x="75.99" y="396.50" width="12.13" height="3.88" fill="#f8dfdf" />
<rect x="87.82" y="396.50" width="12.13" height="3.88" fill="#334a8f" />
<rect x="99.65" y="396.50" width="12.13" height="3.88" fill="#ffffff" />
<rect x="111.48" y="396.50" width="12.13" height="3.88" fill="#f6d7d7" />
<rect x="123.31" y="396.50" width="12.13" height="3.88" fill="#ffffff" />
<rect x="135.14" y="396.50" width="12.13" height="3.88" fill="#f8dfdf" />
<rect x="146.97" y="396.50" width="12.13" height="3.88" fill="#e79898" />
<rect x="158.80" y="396.50" width="12.13" height="3.88" fill="#f4cfcf" />
<rect x="170.63" y="396.50" width="12.13" height="3.88" fill="#f0bfbf" />
<rect x="182.46" y="396.50" width="12.13" height="3.88" fill="#f0bfbf" />
<rect x="194.29" y="396.50" width="12.13" height="3.88" fill="#f4cfcf" />
<rect x="206.12" y="396.50" width="12.13" height="3.88" fill="#dee4ef" />
<rect x="217.95" y="396.50" width="12.13" height="3.88" fill="#edafaf" />
<rect x="229.78" y="396.50" width="12.13" height="3.88" fill="#f4cfcf" />
<rect x="241.61" y="396.50" width="12.13" height="3.88" fill="#f4cfcf" />
<rect x="253.44" y="396.50" width="12.13" height="3.88" fill="#ced6e7" />
<rect x="265.27" y="396.50" width="12.13" height="3.88" fill="#334a8f" />
<rect x="277.10" y="396.50" width="12.13" height="3.88" fill="#d6ddeb" />
<rect x="288.93" y="396.50" width="12.13" height="3.88" fill="#adbad6" />
<rect x="300.76" y="396.50" width="12.13" height="3.88" fill="#ffffff" />
<rect x="312.59" y="396.50" width="12.13" height="3.88" fill="#ced6e7" />
<rect x="324.42" y="396.50" width="12.13" height="3.88" fill="#ffffff" />
<rect x="336.25" y="396.50" width="12.13" height="3.88" fill="#bdc8de" />
<rect x="348.08" y="396.50" width="12.13" height="3.88" fill="#ced6e7" />
<rect x="40.50" y="400.09" width="12.13" height="3.88" fill="#fbefef" />
<rect x="52.33" y="400.09" width="12.13" height="3.88" fill="#adbad6" />
<rect x="64.16" y="400.09" width="12.13" height="3.88" fill="#e6eaf3" />
<rect x="75.99" y="400.09" width="12.13" height="3.88" fill="#ffffff" />
<rect x="87.82" y="400.09" width="12.13" height="3.88" fill="#334a8f" />
<rect x="99.65" y="400.09" width="12.13" height="3.88" fill="#9dadce" />
<rect x="111.48" y="400.09" width="12.13" height="3.88" fill="#ced6e7" />
<rect x="123.31" y="400.09" width="12.13" height="3.88" fill="#8c9fc6" />
<rect x="135.14" y="400.09" width="12.13" height="3.88" fill="#334a8f" />
<rect x="146.97" y="400.09" width="12.13" height="3.88" fill="#ffffff" />
<rect x="158.80" y="400.09" width="12.13" height="3.88" fill="#fbefef" />
<rect x="170.63" y="400.09" width="12.13" height="3.88" fill="#eff1f7" />
<rect x="182.46" y="400.09" width="12.13" height="3.88" fill="#fbefef" />
<rect x="194.29" y="400.09" width="12.13" height="3.88" fill="#dee4ef" />
<rect x="206.12" y="400.09" width="12.13" height="3.88" fill="#e6eaf3" />
<rect x="217.95" y="400.09" width="12.13" height="3.88" fill="#fae7e7" />
<rect x="229.78" y="400.09" width="12.13" height="3.88" fill="#fae7e7" />
<rect x="241.61" y="400.09" width="12.13" height="3.88" fill="#f8dfdf" />
<rect x="253.44" y="400.09" width="12.13" height="3.88" fill="#e59090" />
<rect x="265.27" y="400.09" width="12.13" height="3.88" fill="#ffffff" />
<rect x="277.10" y="400.09" width="12.13" height="3.88" fill="#ffffff" />
<rect x="288.93" y="400.09" width="12.13" height="3.88" fill="#f4cfcf" />
<rect x="300.76" y="400.09" width="12.13" height="3.88" fill="#e9a0a0" />
<rect x="312.59" y="400.09" width="12.13" height="3.88" fill="#e59090" />
<rect x="324.42" y="400.09" width="12.13" height="3.88" fill="#e9a0a0" />
<rect x="336.25" y="400.09" width="12.13" height="3.88" fill="#edafaf" />
<rect x="348.08" y="400.09" width="12.13" height="3.88" fill="#e9a0a0" />
<rect x="40.50" y="403.67" width="12.13" height="3.88" fill="#ffffff" />
<rect x="52.33" y="403.67" width="12.13" height="3.88" fill="#adbad6" />
<rect x="64.16" y="403.67" width="12.13" height="3.88" fill="#dee4ef" />
<rect x="75.99" y="403.67" width="12.13" height="3.88" fill="#ffffff" />
<rect x="87.82" y="403.67" width="12.13" height="3.88" fill="#334a8f" />
<rect x="99.65" y="403.67" width="12.13" height="3.88" fill="#9dadce" />
<rect x="111.48" y="403.67" width="12.13" height="3.88" fill="#ced6e7" />
<rect x="123.31" y="403.67" width="12.13" height="3.88" fill="#8c9fc6" />
<rect x="135.14" y="403.67" width="12.13" height="3.88" fill="#5166a2" />
<rect x="146.97" y="403.67" width="12.13" height="3.88" fill="#ffffff" />
<rect x="158.80" y="403.67" width="12.13" height="3.88" fill="#ffffff" />
<rect x="170.63" y="403.67" width="12.13" height="3.88" fill="#e6eaf3" />
<rect x="182.46" y="403.67" width="12.13" height="3.88" fill="#ffffff" />
<rect x="194.29" y="403.67" width="12.13" height="3.88" fill="#ced6e7" />
<rect x="206.12" y="403.67" width="12.13" height="3.88" fill="#ced6e7" />
<rect x="217.95" y="403.67" width="12.13" height="3.88" fill="#ffffff" />
<rect x="229.78" y="403.67" width="12.13" height="3.88" fill="#fae7e7" />
<rect x="241.61" y="403.67" width="12.13" height="3.88" fill="#f8dfdf" />
<rect x="253.44" y="403.67" width="12.13" height="3.88" fill="#e59090" />
<rect x="265.27" y="403.67" width="12.13" height="3.88" fill="#ffffff" />
<rect x="277.10" y="403.67" width="12.13" height="3.88" fill="#ffffff" />
<rect x="288.93" y="403.67" width="12.13" height="3.88" fill="#f0bfbf" />
<rect x="300.76" y="403.67" width="12.13" height="3.88" fill="#e9a0a0" />
<rect x="312.59" y="403.67" width="12.13" height="3.88" fill="#e9a0a0" />
<rect x="324.42" y="403.67" width="12.13" height="3.88" fill="#edafaf" />
<rect x="336.25" y="403.67" width="12.13" height="3.88" fill="#edafaf" />
<rect x="348.08" y="403.67" width="12.13" height="3.88" fill="#e59090" />
<rect x="40.50" y="407.26" width="12.13" height="3.88" fill="#f6d7d7" />
<rect x="52.33" y="407.26" width="12.13" height="3.88" fill="#adbad6" />
<rect x="64.16" y="407.26" width="12.13" height="3.88" fill="#dee4ef" />
<rect x="75.99" y="407.26" width="12.13" height="3.88" fill="#f0bfbf" />
<rect x="87.82" y="407.26" width="12.13" height="3.88" fill="#5f74ab" />
<rect x="99.65" y="407.26" width="12.13" height="3.88" fill="#ced6e7" />
<rect x="111.48" y="407.26" width="12.13" height="3.88" fill="#8c9fc6" />
<rect x="123.31" y="407.26" width="12.13" height="3.88" fill="#94a6ca" />
<rect x="135.14" y="407.26" width="12.13" height="3.88" fill="#7d91bd" />
<rect x="146.97" y="407.26" width="12.13" height="3.88" fill="#edafaf" />
<rect x="158.80" y="407.26" width="12.13" height="3.88" fill="#edafaf" />
<rect x="170.63" y="407.26" width="12.13" height="3.88" fill="#f4cfcf" />
<rect x="182.46" y="407.26" width="12.13" height="3.88" fill="#f0bfbf" />
<rect x="194.29" y="407.26" width="12.13" height="3.88" fill="#f4cfcf" />
<rect x="206.12" y="407.26" width="12.13" height="3.88" fill="#ffffff" />
<rect x="217.95" y="407.26" width="12.13" height="3.88" fill="#e28080" />
<rect x="229.78" y="407.26" width="12.13" height="3.88" fill="#f6d7d7" />
<rect x="241.61" y="407.26" width="12.13" height="3.88" fill="#f6d7d7" />
<rect x="253.44" y="407.26" width="12.13" height="3.88" fill="#f4cfcf" />
<rect x="265.27" y="407.26" width="12.13" height="3.88" fill="#94a6ca" />
<rect x="277.10" y="407.26" width="12.13" height="3.88" fill="#94a6ca" />
<rect x="288.93" y="407.26" width="12.13" height="3.88" fill="#adbad6" />
<rect x="300.76" y="407.26" width="12.13" height="3.88" fill="#f4cfcf" />
<rect x="312.59" y="407.26" width="12.13" height="3.88" fill="#edafaf" />
<rect x="324.42" y="407.26" width="12.13" height="3.88" fill="#edafaf" />
<rect x="336.25" y="407.26" width="12.13" height="3.88" fill="#ffffff" />
<rect x="348.08" y="407.26" width="12.13" height="3.88" fill="#f8dfdf" />
<rect x="40.50" y="410.85" width="12.13" height="3.88" fill="#e6eaf3" />
<rect x="52.33" y="410.85" width="12.13" height="3.88" fill="#bdc8de" />
<rect x="64.16" y="410.85" width="12.13" height="3.88" fill="#adbad6" />
<rect x="75.99" y="410.85" width="12.13" height="3.88" fill="#ffffff" />
<rect x="87.82" y="410.85" width="12.13" height="3.88" fill="#5166a2" />
<rect x="99.65" y="410.85" width="12.13" height="3.88" fill="#adbad6" />
<rect x="111.48" y="410.85" width="12.13" height="3.88" fill="#adbad6" />
<rect x="123.31" y="410.85" width="12.13" height="3.88" fill="#6e83b4" />
<rect x="135.14" y="410.85" width="12.13" height="3.88" fill="#7d91bd" />
<rect x="146.97" y="410.85" width="12.13" height="3.88" fill="#edafaf" />
<rect x="158.80" y="410.85" width="12.13" height="3.88" fill="#f0bfbf" />
<rect x="170.63" y="410.85" width="12.13" height="3.88" fill="#f0bfbf" />
<rect x="182.46" y="410.85" width="12.13" height="3.88" fill="#f0bfbf" />
<rect x="194.29" y="410.85" width="12.13" height="3.88" fill="#edafaf" />
<rect x="206.12" y="410.85" width="12.13" height="3.88" fill="#f8dfdf" />
<rect x="217.95" y="410.85" width="12.13" height="3.88" fill="#f4cfcf" />
<rect x="229.78" y="410.85" width="12.13" height="3.88" fill="#f6d7d7" />
<rect x="241.61" y="410.85" width="12.13" height="3.88" fill="#f8dfdf" />
<rect x="253.44" y="410.85" width="12.13" height="3.88" fill="#f0bfbf" />
<rect x="265.27" y="410.85" width="12.13" height="3.88" fill="#9dadce" />
<rect x="277.10" y="410.85" width="12.13" height="3.88" fill="#adbad6" />
<rect x="288.93" y="410.85" width="12.13" height="3.88" fill="#ced6e7" />
<rect x="300.76" y="410.85" width="12.13" height="3.88" fill="#f0bfbf" />
<rect x="312.59" y="410.85" width="12.13" height="3.88" fill="#f0bfbf" />
<rect x="324.42" y="410.85" width="12.13" height="3.88" fill="#f4cfcf" />
<rect x="336.25" y="410.85" width="12.13" height="3.88" fill="#f8dfdf" />
<rect x="348.08" y="410.85" width="12.13" height="3.88" fill="#f8dfdf" />
<rect x="40.50" y="414.43" width="12.13" height="3.88" fill="#fae7e7" />
<rect x="52.33" y="414.43" width="12.13" height="3.88" fill="#bdc8de" />
<rect x="64.16" y="414.43" width="12.13" height="3.88" fill="#ced6e7" />
<rect x="75.99" y="414.43" width="12.13" height="3.88" fill="#fae7e7" />
<rect x="87.82" y="414.43" width="12.13" height="3.88" fill="#5166a2" />
<rect x="99.65" y="414.43" width="12.13" height="3.88" fill="#9dadce" />
<rect x="111.48" y="414.43" width="12.13" height="3.88" fill="#8c9fc6" />
<rect x="123.31" y="414.43" width="12.13" height="3.88" fill="#9dadce" />
<rect x="135.14" y="414.43" width="12.13" height="3.88" fill="#7d91bd" />
<rect x="146.97" y="414.43" width="12.13" height="3.88" fill="#f0bfbf" />
<rect x="158.80" y="414.43" width="12.13" height="3.88" fill="#f0bfbf" />
<rect x="170.63" y="414.43" width="12.13" height="3.88" fill="#f4cfcf" />
<rect x="182.46" y="414.43" width="12.13" height="3.88" fill="#f0bfbf" />
<rect x="194.29" y="414.43" width="12.13" height="3.88" fill="#f0bfbf" />
<rect x="206.12" y="414.43" width="12.13" height="3.88" fill="#f6d7d7" />
<rect x="217.95" y="414.43" width="12.13" height="3.88" fill="#f4cfcf" />
<rect x="229.78" y="414.43" width="12.13" height="3.88" fill="#f0bfbf" />
<rect x="241.61" y="414.43" width="12.13" height="3.88" fill="#f4cfcf" />
<rect x="253.44" y="414.43" width="12.13" height="3.88" fill="#f0bfbf" />
<rect x="265.27" y="414.43" width="12.13" height="3.88" fill="#9dadce" />
<rect x="277.10" y="414.43" width="12.13" height="3.88" fill="#9dadce" />
<rect x="288.93" y="414.43" width="12.13" height="3.88" fill="#dee4ef" />
<rect x="300.76" y="414.43" width="12.13" height="3.88" fill="#f4cfcf" />
<rect x="312.59" y="414.43" width="12.13" height="3.88" fill="#f0bfbf" />
<rect x="324.42" y="414.43" width="12.13" height="3.88" fill="#f0bfbf" />
<rect x="336.25" y="414.43" width="12.13" height="3.88" fill="#ffffff" />
<rect x="348.08" y="414.43" width="12.13" height="3.88" fill="#fae7e7" />
<rect x="40.50" y="418.01" width="12.13" height="3.88" fill="#fae7e7" />
<rect x="52.33" y="418.01" width="12.13" height="3.88" fill="#bdc8de" />
<rect x="64.16" y="418.01" width="12.13" height="3.88" fill="#adbad6" />
<rect x="75.99" y="418.01" width="12.13" height="3.88" fill="#fae7e7" />
<rect x="87.82" y="418.01" width="12.13" height="3.88" fill="#6e83b4" />
<rect x="99.65" y="418.01" width="12.13" height="3.88" fill="#adbad6" />
<rect x="111.48" y="418.01" width="12.13" height="3.88" fill="#7d91bd" />
<rect x="123.31" y="418.01" width="12.13" height="3.88" fill="#adbad6" />
<rect x="135.14" y="418.01" width="12.13" height="3.88" fill="#8c9fc6" />
<rect x="146.97" y="418.01" width="12.13" height="3.88" fill="#f4cfcf" />
<rect x="158.80" y="418.01" width="12.13" height="3.88" fill="#f6d7d7" />
<rect x="170.63" y="418.01" width="12.13" height="3.88" fill="#f4cfcf" />
<rect x="182.46" y="418.01" width="12.13" height="3.88" fill="#edafaf" />
<rect x="194.29" y="418.01" width="12.13" height="3.88" fill="#f0bfbf" />
<rect x="206.12" y="418.01" width="12.13" height="3.88" fill="#f0bfbf" />
<rect x="217.95" y="418.01" width="12.13" height="3.88" fill="#f0bfbf" />
<rect x="229.78" y="418.01" width="12.13" height="3.88" fill="#f0bfbf" />
<rect x="241.61" y="418.01" width="12.13" height="3.88" fill="#f0bfbf" />
<rect x="253.44" y="418.01" width="12.13" height="3.88" fill="#ffffff" />
<rect x="265.27" y="418.01" width="12.13" height="3.88" fill="#9dadce" />
<rect x="277.10" y="418.01" width="12.13" height="3.88" fill="#adbad6" />
<rect x="288.93" y="418.01" width="12.13" height="3.88" fill="#ced6e7" />
<rect x="300.76" y="418.01" width="12.13" height="3.88" fill="#ffffff" />
<rect x="312.59" y="418.01" width="12.13" height="3.88" fill="#f4cfcf" />
<rect x="324.42" y="418.01" width="12.13" height="3.88" fill="#f8dfdf" />
<rect x="336.25" y="418.01" width="12.13" height="3.88" fill="#f4cfcf" />
<rect x="348.08" y="418.01" width="12.13" height="3.88" fill="#fbefef" />
<rect x="40.50" y="421.60" width="12.13" height="3.88" fill="#e6eaf3" />
<rect x="52.33" y="421.60" width="12.13" height="3.88" fill="#adbad6" />
<rect x="64.16" y="421.60" width="12.13" height="3.88" fill="#e6eaf3" />
<rect x="75.99" y="421.60" width="12.13" height="3.88" fill="#6e83b4" />
<rect x="87.82" y="421.60" width="12.13" height="3.88" fill="#6e83b4" />
<rect x="99.65" y="421.60" width="12.13" height="3.88" fill="#adbad6" />
<rect x="111.48" y="421.60" width="12.13" height="3.88" fill="#6e83b4" />
<rect x="123.31" y="421.60" width="12.13" height="3.88" fill="#dee4ef" />
<rect x="135.14" y="421.60" width="12.13" height="3.88" fill="#bdc8de" />
<rect x="146.97" y="421.60" width="12.13" height="3.88" fill="#ffffff" />
<rect x="158.80" y="421.60" width="12.13" height="3.88" fill="#f8dfdf" />
<rect x="170.63" y="421.60" width="12.13" height="3.88" fill="#fae7e7" />
<rect x="182.46" y="421.60" width="12.13" height="3.88" fill="#f0bfbf" />
<rect x="194.29" y="421.60" width="12.13" height="3.88" fill="#e9a0a0" />
<rect x="206.12" y="421.60" width="12.13" height="3.88" fill="#f0bfbf" />
<rect x="217.95" y="421.60" width="12.13" height="3.88" fill="#e9a0a0" />
<rect x="229.78" y="421.60" width="12.13" height="3.88" fill="#e9a0a0" />
<rect x="241.61" y="421.60" width="12.13" height="3.88" fill="#e9a0a0" />
<rect x="253.44" y="421.60" width="12.13" height="3.88" fill="#f0bfbf" />
<rect x="265.27" y="421.60" width="12.13" height="3.88" fill="#adbad6" />
<rect x="277.10" y="421.60" width="12.13" height="3.88" fill="#ffffff" />
<rect x="288.93" y="421.60" width="12.13" height="3.88" fill="#ffffff" />
<rect x="300.76" y="421.60" width="12.13" height="3.88" fill="#edafaf" />
<rect x="312.59" y="421.60" width="12.13" height="3.88" fill="#f0bfbf" />
<rect x="324.42" y="421.60" width="12.13" height="3.88" fill="#fae7e7" />
<rect x="336.25" y="421.60" width="12.13" height="3.88" fill="#9dadce" />
<rect x="348.08" y="421.60" width="12.13" height="3.88" fill="#9dadce" />
<rect x="40.50" y="425.18" width="12.13" height="3.88" fill="#e6eaf3" />
<rect x="52.33" y="425.18" width="12.13" height="3.88" fill="#9dadce" />
<rect x="64.16" y="425.18" width="12.13" height="3.88" fill="#bdc8de" />
<rect x="75.99" y="425.18" width="12.13" height="3.88" fill="#ffffff" />
<rect x="87.82" y="425.18" width="12.13" height="3.88" fill="#9dadce" />
<rect x="99.65" y="425.18" width="12.13" height="3.88" fill="#ced6e7" />
<rect x="111.48" y="425.18" width="12.13" height="3.88" fill="#7d91bd" />
<rect x="123.31" y="425.18" width="12.13" height="3.88" fill="#ced6e7" />
<rect x="135.14" y="425.18" width="12.13" height="3.88" fill="#9dadce" />
<rect x="146.97" y="425.18" width="12.13" height="3.88" fill="#f0bfbf" />
<rect x="158.80" y="425.18" width="12.13" height="3.88" fill="#fae7e7" />
<rect x="170.63" y="425.18" width="12.13" height="3.88" fill="#e9a0a0" />
<rect x="182.46" y="425.18" width="12.13" height="3.88" fill="#f0bfbf" />
<rect x="194.29" y="425.18" width="12.13" height="3.88" fill="#e9a0a0" />
<rect x="206.12" y="425.18" width="12.13" height="3.88" fill="#f0bfbf" />
<rect x="217.95" y="425.18" width="12.13" height="3.88" fill="#edafaf" />
<rect x="229.78" y="425.18" width="12.13" height="3.88" fill="#e9a0a0" />
<rect x="241.61" y="425.18" width="12.13" height="3.88" fill="#edafaf" />
<rect x="253.44" y="425.18" width="12.13" height="3.88" fill="#f4cfcf" />
<rect x="265.27" y="425.18" width="12.13" height="3.88" fill="#7d91bd" />
<rect x="277.10" y="425.18" width="12.13" height="3.88" fill="#8c9fc6" />
<rect x="288.93" y="425.18" width="12.13" height="3.88" fill="#bdc8de" />
<rect x="300.76" y="425.18" width="12.13" height="3.88" fill="#f8dfdf" />
<rect x="312.59" y="425.18" width="12.13" height="3.88" fill="#f8dfdf" />
<rect x="324.42" y="425.18" width="12.13" height="3.88" fill="#fae7e7" />
<rect x="336.25" y="425.18" width="12.13" height="3.88" fill="#ced6e7" />
<rect x="348.08" y="425.18" width="12.13" height="3.88" fill="#ffffff" />
<rect x="40.50" y="428.77" width="12.13" height="3.88" fill="#f4cfcf" />
<rect x="52.33" y="428.77" width="12.13" height="3.88" fill="#dee4ef" />
<rect x="64.16" y="428.77" width="12.13" height="3.88" fill="#d6ddeb" />
<rect x="75.99" y="428.77" width="12.13" height="3.88" fill="#bdc8de" />
<rect x="87.82" y="428.77" width="12.13" height="3.88" fill="#7d91bd" />
<rect x="99.65" y="428.77" width="12.13" height="3.88" fill="#f0bfbf" />
<rect x="111.48" y="428.77" width="12.13" height="3.88" fill="#f6d7d7" />
<rect x="123.31" y="428.77" width="12.13" height="3.88" fill="#edafaf" />
<rect x="135.14" y="428.77" width="12.13" height="3.88" fill="#fae7e7" />
<rect x="146.97" y="428.77" width="12.13" height="3.88" fill="#334a8f" />
<rect x="158.80" y="428.77" width="12.13" height="3.88" fill="#bdc8de" />
<rect x="170.63" y="428.77" width="12.13" height="3.88" fill="#fae7e7" />
<rect x="182.46" y="428.77" width="12.13" height="3.88" fill="#9dadce" />
<rect x="194.29" y="428.77" width="12.13" height="3.88" fill="#ced6e7" />
<rect x="206.12" y="428.77" width="12.13" height="3.88" fill="#ced6e7" />
<rect x="217.95" y="428.77" width="12.13" height="3.88" fill="#dee4ef" />
<rect x="229.78" y="428.77" width="12.13" height="3.88" fill="#ced6e7" />
<rect x="241.61" y="428.77" width="12.13" height="3.88" fill="#6e83b4" />
<rect x="253.44" y="428.77" width="12.13" height="3.88" fill="#edafaf" />
<rect x="265.27" y="428.77" width="12.13" height="3.88" fill="#edafaf" />
<rect x="277.10" y="428.77" width="12.13" height="3.88" fill="#f4cfcf" />
<rect x="288.93" y="428.77" width="12.13" height="3.88" fill="#f8dfdf" />
<rect x="300.76" y="428.77" width="12.13" height="3.88" fill="#f8dfdf" />
<rect x="312.59" y="428.77" width="12.13" height="3.88" fill="#edafaf" />
<rect x="324.42" y="428.77" width="12.13" height="3.88" fill="#e9a0a0" />
<rect x="336.25" y="428.77" width="12.13" height="3.88" fill="#e9a0a0" />
<rect x="348.08" y="428.77" width="12.13" height="3.88" fill="#f8dfdf" />
<rect x="40.50" y="432.36" width="12.13" height="3.88" fill="#bdc8de" />
<rect x="52.33" y="432.36" width="12.13" height="3.88" fill="#9dadce" />
<rect x="64.16" y="432.36" width="12.13" height="3.88" fill="#9dadce" />
<rect x="75.99" y="432.36" width="12.13" height="3.88" fill="#e6eaf3" />
<rect x="87.82" y="432.36" width="12.13" height="3.88" fill="#5f74ab" />
<rect x="99.65" y="432.36" width="12.13" height="3.88" fill="#bdc8de" />
<rect x="111.48" y="432.36" width="12.13" height="3.88" fill="#6e83b4" />
<rect x="123.31" y="432.36" width="12.13" height="3.88" fill="#adbad6" />
<rect x="135.14" y="432.36" width="12.13" height="3.88" fill="#6e83b4" />
<rect x="146.97" y="432.36" width="12.13" height="3.88" fill="#ffffff" />
<rect x="158.80" y="432.36" width="12.13" height="3.88" fill="#f8dfdf" />
<rect x="170.63" y="432.36" width="12.13" height="3.88" fill="#f8dfdf" />
<rect x="182.46" y="432.36" width="12.13" height="3.88" fill="#ffffff" />
<rect x="194.29" y="432.36" width="12.13" height="3.88" fill="#edafaf" />
<rect x="206.12" y="432.36" width="12.13" height="3.88" fill="#edafaf" />
<rect x="217.95" y="432.36" width="12.13" height="3.88" fill="#edafaf" />
<rect x="229.78" y="432.36" width="12.13" height="3.88" fill="#f0bfbf" />
<rect x="241.61" y="432.36" width="12.13" height="3.88" fill="#f0bfbf" />
<rect x="253.44" y="432.36" width="12.13" height="3.88" fill="#e28080" />
<rect x="265.27" y="432.36" width="12.13" height="3.88" fill="#f4cfcf" />
<rect x="277.10" y="432.36" width="12.13" height="3.88" fill="#f8dfdf" />
<rect x="288.93" y="432.36" width="12.13" height="3.88" fill="#f4cfcf" />
<rect x="300.76" y="432.36" width="12.13" height="3.88" fill="#f8dfdf" />
<rect x="312.59" y="432.36" width="12.13" height="3.88" fill="#dee4ef" />
<rect x="324.42" y="432.36" width="12.13" height="3.88" fill="#ffffff" />
<rect x="336.25" y="432.36" width="12.13" height="3.88" fill="#f0bfbf" />
<rect x="348.08" y="432.36" width="12.13" height="3.88" fill="#fae7e7" />
<rect x="40.50" y="435.94" width="12.13" height="3.88" fill="#adbad6" />
<rect x="52.33" y="435.94" width="12.13" height="3.88" fill="#9dadce" />
<rect x="64.16" y="435.94" width="12.13" height="3.88" fill="#9dadce" />
<rect x="75.99" y="435.94" width="12.13" height="3.88" fill="#9dadce" />
<rect x="87.82" y="435.94" width="12.13" height="3.88" fill="#5f74ab" />
<rect x="99.65" y="435.94" width="12.13" height="3.88" fill="#ced6e7" />
<rect x="111.48" y="435.94" width="12.13" height="3.88" fill="#dee4ef" />
<rect x="123.31" y="435.94" width="12.13" height="3.88" fill="#bdc8de" />
<rect x="135.14" y="435.94" width="12.13" height="3.88" fill="#bdc8de" />
<rect x="146.97" y="435.94" width="12.13" height="3.88" fill="#fbefef" />
<rect x="158.80" y="435.94" width="12.13" height="3.88" fill="#f8dfdf" />
<rect x="170.63" y="435.94" width="12.13" height="3.88" fill="#fae7e7" />
<rect x="182.46" y="435.94" width="12.13" height="3.88" fill="#f0bfbf" />
<rect x="194.29" y="435.94" width="12.13" height="3.88" fill="#f0bfbf" />
<rect x="206.12" y="435.94" width="12.13" height="3.88" fill="#f4cfcf" />
<rect x="217.95" y="435.94" width="12.13" height="3.88" fill="#da6060" />
<rect x="229.78" y="435.94" width="12.13" height="3.88" fill="#edafaf" />
<rect x="241.61" y="435.94" width="12.13" height="3.88" fill="#f0bfbf" />
<rect x="253.44" y="435.94" width="12.13" height="3.88" fill="#f8dfdf" />
<rect x="265.27" y="435.94" width="12.13" height="3.88" fill="#ced6e7" />
<rect x="277.10" y="435.94" width="12.13" height="3.88" fill="#ffffff" />
<rect x="288.93" y="435.94" width="12.13" height="3.88" fill="#ffffff" />
<rect x="300.76" y="435.94" width="12.13" height="3.88" fill="#fae7e7" />
<rect x="312.59" y="435.94" width="12.13" height="3.88" fill="#f8dfdf" />
<rect x="324.42" y="435.94" width="12.13" height="3.88" fill="#adbad6" />
<rect x="336.25" y="435.94" width="12.13" height="3.88" fill="#adbad6" />
<rect x="348.08" y="435.94" width="12.13" height="3.88" fill="#fbefef" />
<rect x="40.50" y="439.52" width="12.13" height="3.88" fill="#f4cfcf" />
<rect x="52.33" y="439.52" width="12.13" height="3.88" fill="#fae7e7" />
<rect x="64.16" y="439.52" width="12.13" height="3.88" fill="#fae7e7" />
<rect x="75.99" y="439.52" width="12.13" height="3.88" fill="#f8dfdf" />
<rect x="87.82" y="439.52" width="12.13" height="3.88" fill="#edafaf" />
<rect x="99.65" y="439.52" width="12.13" height="3.88" fill="#de7070" />
<rect x="111.48" y="439.52" width="12.13" height="3.88" fill="#edafaf" />
<rect x="123.31" y="439.52" width="12.13" height="3.88" fill="#e9a0a0" />
<rect x="135.14" y="439.52" width="12.13" height="3.88" fill="#d75050" />
<rect x="146.97" y="439.52" width="12.13" height="3.88" fill="#9dadce" />
<rect x="158.80" y="439.52" width="12.13" height="3.88" fill="#dee4ef" />
<rect x="170.63" y="439.52" width="12.13" height="3.88" fill="#ced6e7" />
<rect x="182.46" y="439.52" width="12.13" height="3.88" fill="#bdc8de" />
<rect x="194.29" y="439.52" width="12.13" height="3.88" fill="#6e83b4" />
<rect x="206.12" y="439.52" width="12.13" height="3.88" fill="#ffffff" />
<rect x="217.95" y="439.52" width="12.13" height="3.88" fill="#f8dfdf" />
<rect x="229.78" y="439.52" width="12.13" height="3.88" fill="#adbad6" />
<rect x="241.61" y="439.52" width="12.13" height="3.88" fill="#dee4ef" />
<rect x="253.44" y="439.52" width="12.13" height="3.88" fill="#9dadce" />
<rect x="265.27" y="439.52" width="12.13" height="3.88" fill="#ced6e7" />
<rect x="277.10" y="439.52" width="12.13" height="3.88" fill="#dee4ef" />
<rect x="288.93" y="439.52" width="12.13" height="3.88" fill="#ffffff" />
<rect x="300.76" y="439.52" width="12.13" height="3.88" fill="#adbad6" />
<rect x="312.59" y="439.52" width="12.13" height="3.88" fill="#adbad6" />
<rect x="324.42" y="439.52" width="12.13" height="3.88" fill="#f4cfcf" />
<rect x="336.25" y="439.52" width="12.13" height="3.88" fill="#ffffff" />
<rect x="348.08" y="439.52" width="12.13" height="3.88" fill="#bdc8de" />
<rect x="40.50" y="443.11" width="12.13" height="3.88" fill="#ffffff" />
<rect x="52.33" y="443.11" width="12.13" height="3.88" fill="#9dadce" />
<rect x="64.16" y="443.11" width="12.13" height="3.88" fill="#e6eaf3" />
<rect x="75.99" y="443.11" width="12.13" height="3.88" fill="#ffffff" />
<rect x="87.82" y="443.11" width="12.13" height="3.88" fill="#adbad6" />
<rect x="99.65" y="443.11" width="12.13" height="3.88" fill="#ffffff" />
<rect x="111.48" y="443.11" width="12.13" height="3.88" fill="#ffffff" />
<rect x="123.31" y="443.11" width="12.13" height="3.88" fill="#bdc8de" />
<rect x="135.14" y="443.11" width="12.13" height="3.88" fill="#ced6e7" />
<rect x="146.97" y="443.11" width="12.13" height="3.88" fill="#edafaf" />
<rect x="158.80" y="443.11" width="12.13" height="3.88" fill="#e59090" />
<rect x="170.63" y="443.11" width="12.13" height="3.88" fill="#f4cfcf" />
<rect x="182.46" y="443.11" width="12.13" height="3.88" fill="#e59090" />
<rect x="194.29" y="443.11" width="12.13" height="3.88" fill="#de7070" />
<rect x="206.12" y="443.11" width="12.13" height="3.88" fill="#e9a0a0" />
<rect x="217.95" y="443.11" width="12.13" height="3.88" fill="#f8dfdf" />
<rect x="229.78" y="443.11" width="12.13" height="3.88" fill="#f8dfdf" />
<rect x="241.61" y="443.11" width="12.13" height="3.88" fill="#f4cfcf" />
<rect x="253.44" y="443.11" width="12.13" height="3.88" fill="#6e83b4" />
<rect x="265.27" y="443.11" width="12.13" height="3.88" fill="#bdc8de" />
<rect x="277.10" y="443.11" width="12.13" height="3.88" fill="#adbad6" />
<rect x="288.93" y="443.11" width="12.13" height="3.88" fill="#ced6e7" />
<rect x="300.76" y="443.11" width="12.13" height="3.88" fill="#ced6e7" />
<rect x="312.59" y="443.11" width="12.13" height="3.88" fill="#ffffff" />
<rect x="324.42" y="443.11" width="12.13" height="3.88" fill="#ffffff" />
<rect x="336.25" y="443.11" width="12.13" height="3.88" fill="#ffffff" />
<rect x="348.08" y="443.11" width="12.13" height="3.88" fill="#8c9fc6" />
<rect x="40.50" y="446.69" width="12.13" height="3.88" fill="#f0bfbf" />
<rect x="52.33" y="446.69" width="12.13" height="3.88" fill="#f0bfbf" />
<rect x="64.16" y="446.69" width="12.13" height="3.88" fill="#edafaf" />
<rect x="75.99" y="446.69" width="12.13" height="3.88" fill="#f0bfbf" />
<rect x="87.82" y="446.69" width="12.13" height="3.88" fill="#ffffff" />
<rect x="99.65" y="446.69" width="12.13" height="3.88" fill="#fae7e7" />
<rect x="111.48" y="446.69" width="12.13" height="3.88" fill="#f4cfcf" />
<rect x="123.31" y="446.69" width="12.13" height="3.88" fill="#ffffff" />
<rect x="135.14" y="446.69" width="12.13" height="3.88" fill="#ffffff" />
<rect x="146.97" y="446.69" width="12.13" height="3.88" fill="#edafaf" />
<rect x="158.80" y="446.69" width="12.13" height="3.88" fill="#edafaf" />
<rect x="170.63" y="446.69" width="12.13" height="3.88" fill="#f0bfbf" />
<rect x="182.46" y="446.69" width="12.13" height="3.88" fill="#e59090" />
<rect x="194.29" y="446.69" width="12.13" height="3.88" fill="#f4cfcf" />
<rect x="206.12" y="446.69" width="12.13" height="3.88" fill="#f0bfbf" />
<rect x="217.95" y="446.69" width="12.13" height="3.88" fill="#8c9fc6" />
<rect x="229.78" y="446.69" width="12.13" height="3.88" fill="#8c9fc6" />
<rect x="241.61" y="446.69" width="12.13" height="3.88" fill="#e6eaf3" />
<rect x="253.44" y="446.69" width="12.13" height="3.88" fill="#5f74ab" />
<rect x="265.27" y="446.69" width="12.13" height="3.88" fill="#ffffff" />
<rect x="277.10" y="446.69" width="12.13" height="3.88" fill="#e6eaf3" />
<rect x="288.93" y="446.69" width="12.13" height="3.88" fill="#ffffff" />
<rect x="300.76" y="446.69" width="12.13" height="3.88" fill="#ffffff" />
<rect x="312.59" y="446.69" width="12.13" height="3.88" fill="#425899" />
<rect x="324.42" y="446.69" width="12.13" height="3.88" fill="#5166a2" />
<rect x="336.25" y="446.69" width="12.13" height="3.88" fill="#dee4ef" />
<rect x="348.08" y="446.69" width="12.13" height="3.88" fill="#ffffff" />
<rect x="40.50" y="450.28" width="12.13" height="3.88" fill="#f8dfdf" />
<rect x="52.33" y="450.28" width="12.13" height="3.88" fill="#8c9fc6" />
<rect x="64.16" y="450.28" width="12.13" height="3.88" fill="#dee4ef" />
<rect x="75.99" y="450.28" width="12.13" height="3.88" fill="#ffffff" />
<rect x="87.82" y="450.28" width="12.13" height="3.88" fill="#ffffff" />
<rect x="99.65" y="450.28" width="12.13" height="3.88" fill="#e28080" />
<rect x="111.48" y="450.28" width="12.13" height="3.88" fill="#e9a0a0" />
<rect x="123.31" y="450.28" width="12.13" height="3.88" fill="#edafaf" />
<rect x="135.14" y="450.28" width="12.13" height="3.88" fill="#d75050" />
<rect x="146.97" y="450.28" width="12.13" height="3.88" fill="#bdc8de" />
<rect x="158.80" y="450.28" width="12.13" height="3.88" fill="#adbad6" />
<rect x="170.63" y="450.28" width="12.13" height="3.88" fill="#bdc8de" />
<rect x="182.46" y="450.28" width="12.13" height="3.88" fill="#8c9fc6" />
<rect x="194.29" y="450.28" width="12.13" height="3.88" fill="#8c9fc6" />
<rect x="206.12" y="450.28" width="12.13" height="3.88" fill="#ced6e7" />
<rect x="217.95" y="450.28" width="12.13" height="3.88" fill="#9dadce" />
<rect x="229.78" y="450.28" width="12.13" height="3.88" fill="#e6eaf3" />
<rect x="241.61" y="450.28" width="12.13" height="3.88" fill="#e6eaf3" />
<rect x="253.44" y="450.28" width="12.13" height="3.88" fill="#adbad6" />
<rect x="265.27" y="450.28" width="12.13" height="3.88" fill="#f4cfcf" />
<rect x="277.10" y="450.28" width="12.13" height="3.88" fill="#f4cfcf" />
<rect x="288.93" y="450.28" width="12.13" height="3.88" fill="#e9a0a0" />
<rect x="300.76" y="450.28" width="12.13" height="3.88" fill="#ffffff" />
<rect x="312.59" y="450.28" width="12.13" height="3.88" fill="#ffffff" />
<rect x="324.42" y="450.28" width="12.13" height="3.88" fill="#f0bfbf" />
<rect x="336.25" y="450.28" width="12.13" height="3.88" fill="#edafaf" />
<rect x="348.08" y="450.28" width="12.13" height="3.88" fill="#ffffff" />
<rect x="40.50" y="453.87" width="12.13" height="3.88" fill="#ced6e7" />
<rect x="52.33" y="453.87" width="12.13" height="3.88" fill="#bdc8de" />
<rect x="64.16" y="453.87" width="12.13" height="3.88" fill="#e6eaf3" />
<rect x="75.99" y="453.87" width="12.13" height="3.88" fill="#ffffff" />
<rect x="87.82" y="453.87" width="12.13" height="3.88" fill="#7d91bd" />
<rect x="99.65" y="453.87" width="12.13" height="3.88" fill="#dee4ef" />
<rect x="111.48" y="453.87" width="12.13" height="3.88" fill="#5f74ab" />
<rect x="123.31" y="453.87" width="12.13" height="3.88" fill="#9dadce" />
<rect x="135.14" y="453.87" width="12.13" height="3.88" fill="#6e83b4" />
<rect x="146.97" y="453.87" width="12.13" height="3.88" fill="#ffffff" />
<rect x="158.80" y="453.87" width="12.13" height="3.88" fill="#ffffff" />
<rect x="170.63" y="453.87" width="12.13" height="3.88" fill="#ffffff" />
<rect x="182.46" y="453.87" width="12.13" height="3.88" fill="#f4cfcf" />
<rect x="194.29" y="453.87" width="12.13" height="3.88" fill="#f0bfbf" />
<rect x="206.12" y="453.87" width="12.13" height="3.88" fill="#e59090" />
<rect x="217.95" y="453.87" width="12.13" height="3.88" fill="#edafaf" />
<rect x="229.78" y="453.87" width="12.13" height="3.88" fill="#f4cfcf" />
<rect x="241.61" y="453.87" width="12.13" height="3.88" fill="#edafaf" />
<rect x="253.44" y="453.87" width="12.13" height="3.88" fill="#adbad6" />
<rect x="265.27" y="453.87" width="12.13" height="3.88" fill="#e59090" />
<rect x="277.10" y="453.87" width="12.13" height="3.88" fill="#f4cfcf" />
<rect x="288.93" y="453.87" width="12.13" height="3.88" fill="#f0bfbf" />
<rect x="300.76" y="453.87" width="12.13" height="3.88" fill="#ffffff" />
<rect x="312.59" y="453.87" width="12.13" height="3.88" fill="#edafaf" />
<rect x="324.42" y="453.87" width="12.13" height="3.88" fill="#f0bfbf" />
<rect x="336.25" y="453.87" width="12.13" height="3.88" fill="#edafaf" />
<rect x="348.08" y="453.87" width="12.13" height="3.88" fill="#dee4ef" />
<rect x="40.50" y="457.45" width="12.13" height="3.88" fill="#ffffff" />
<rect x="52.33" y="457.45" width="12.13" height="3.88" fill="#ffffff" />
<rect x="64.16" y="457.45" width="12.13" height="3.88" fill="#6e83b4" />
<rect x="75.99" y="457.45" width="12.13" height="3.88" fill="#ffffff" />
<rect x="87.82" y="457.45" width="12.13" height="3.88" fill="#adbad6" />
<rect x="99.65" y="457.45" width="12.13" height="3.88" fill="#adbad6" />
<rect x="111.48" y="457.45" width="12.13" height="3.88" fill="#ffffff" />
<rect x="123.31" y="457.45" width="12.13" height="3.88" fill="#e59090" />
<rect x="135.14" y="457.45" width="12.13" height="3.88" fill="#f0bfbf" />
<rect x="146.97" y="457.45" width="12.13" height="3.88" fill="#ced6e7" />
<rect x="158.80" y="457.45" width="12.13" height="3.88" fill="#e6eaf3" />
<rect x="170.63" y="457.45" width="12.13" height="3.88" fill="#9dadce" />
<rect x="182.46" y="457.45" width="12.13" height="3.88" fill="#5f74ab" />
<rect x="194.29" y="457.45" width="12.13" height="3.88" fill="#e6eaf3" />
<rect x="206.12" y="457.45" width="12.13" height="3.88" fill="#ffffff" />
<rect x="217.95" y="457.45" width="12.13" height="3.88" fill="#adbad6" />
<rect x="229.78" y="457.45" width="12.13" height="3.88" fill="#7d91bd" />
<rect x="241.61" y="457.45" width="12.13" height="3.88" fill="#ffffff" />
<rect x="253.44" y="457.45" width="12.13" height="3.88" fill="#ffffff" />
<rect x="265.27" y="457.45" width="12.13" height="3.88" fill="#e59090" />
<rect x="277.10" y="457.45" width="12.13" height="3.88" fill="#f4cfcf" />
<rect x="288.93" y="457.45" width="12.13" height="3.88" fill="#de7070" />
<rect x="300.76" y="457.45" width="12.13" height="3.88" fill="#ffffff" />
<rect x="312.59" y="457.45" width="12.13" height="3.88" fill="#f4cfcf" />
<rect x="324.42" y="457.45" width="12.13" height="3.88" fill="#f4cfcf" />
<rect x="336.25" y="457.45" width="12.13" height="3.88" fill="#e28080" />
<rect x="348.08" y="457.45" width="12.13" height="3.88" fill="#e28080" />
<rect x="40.50" y="461.03" width="12.13" height="3.88" fill="#bdc8de" />
<rect x="52.33" y="461.03" width="12.13" height="3.88" fill="#bdc8de" />
<rect x="64.16" y="461.03" width="12.13" height="3.88" fill="#e6eaf3" />
<rect x="75.99" y="461.03" width="12.13" height="3.88" fill="#bdc8de" />
<rect x="87.82" y="461.03" width="12.13" height="3.88" fill="#ffffff" />
<rect x="99.65" y="461.03" width="12.13" height="3.88" fill="#8c9fc6" />
<rect x="111.48" y="461.03" width="12.13" height="3.88" fill="#7d91bd" />
<rect x="123.31" y="461.03" width="12.13" height="3.88" fill="#9dadce" />
<rect x="135.14" y="461.03" width="12.13" height="3.88" fill="#5166a2" />
<rect x="146.97" y="461.03" width="12.13" height="3.88" fill="#edafaf" />
<rect x="158.80" y="461.03" width="12.13" height="3.88" fill="#edafaf" />
<rect x="170.63" y="461.03" width="12.13" height="3.88" fill="#f0bfbf" />
<rect x="182.46" y="461.03" width="12.13" height="3.88" fill="#ffffff" />
<rect x="194.29" y="461.03" width="12.13" height="3.88" fill="#f0bfbf" />
<rect x="206.12" y="461.03" width="12.13" height="3.88" fill="#edafaf" />
<rect x="217.95" y="461.03" width="12.13" height="3.88" fill="#e9a0a0" />
<rect x="229.78" y="461.03" width="12.13" height="3.88" fill="#f4cfcf" />
<rect x="241.61" y="461.03" width="12.13" height="3.88" fill="#edafaf" />
<rect x="253.44" y="461.03" width="12.13" height="3.88" fill="#dee4ef" />
<rect x="265.27" y="461.03" width="12.13" height="3.88" fill="#e9a0a0" />
<rect x="277.10" y="461.03" width="12.13" height="3.88" fill="#e6eaf3" />
<rect x="288.93" y="461.03" width="12.13" height="3.88" fill="#fae7e7" />
<rect x="300.76" y="461.03" width="12.13" height="3.88" fill="#ffffff" />
<rect x="312.59" y="461.03" width="12.13" height="3.88" fill="#ffffff" />
<rect x="324.42" y="461.03" width="12.13" height="3.88" fill="#ffffff" />
<rect x="336.25" y="461.03" width="12.13" height="3.88" fill="#ffffff" />
<rect x="348.08" y="461.03" width="12.13" height="3.88" fill="#bdc8de" />
<rect x="40.50" y="464.62" width="12.13" height="3.88" fill="#e6eaf3" />
<rect x="52.33" y="464.62" width="12.13" height="3.88" fill="#ced6e7" />
<rect x="64.16" y="464.62" width="12.13" height="3.88" fill="#ffffff" />
<rect x="75.99" y="464.62" width="12.13" height="3.88" fill="#dee4ef" />
<rect x="87.82" y="464.62" width="12.13" height="3.88" fill="#6e83b4" />
<rect x="99.65" y="464.62" width="12.13" height="3.88" fill="#e6eaf3" />
<rect x="111.48" y="464.62" width="12.13" height="3.88" fill="#7d91bd" />
<rect x="123.31" y="464.62" width="12.13" height="3.88" fill="#334a8f" />
<rect x="135.14" y="464.62" width="12.13" height="3.88" fill="#7d91bd" />
<rect x="146.97" y="464.62" width="12.13" height="3.88" fill="#f8dfdf" />
<rect x="158.80" y="464.62" width="12.13" height="3.88" fill="#f8dfdf" />
<rect x="170.63" y="464.62" width="12.13" height="3.88" fill="#f8dfdf" />
<rect x="182.46" y="464.62" width="12.13" height="3.88" fill="#f4cfcf" />
<rect x="194.29" y="464.62" width="12.13" height="3.88" fill="#e9a0a0" />
<rect x="206.12" y="464.62" width="12.13" height="3.88" fill="#f0bfbf" />
<rect x="217.95" y="464.62" width="12.13" height="3.88" fill="#e9a0a0" />
<rect x="229.78" y="464.62" width="12.13" height="3.88" fill="#f0bfbf" />
<rect x="241.61" y="464.62" width="12.13" height="3.88" fill="#edafaf" />
<rect x="253.44" y="464.62" width="12.13" height="3.88" fill="#bdc8de" />
<rect x="265.27" y="464.62" width="12.13" height="3.88" fill="#f8dfdf" />
<rect x="277.10" y="464.62" width="12.13" height="3.88" fill="#f4cfcf" />
<rect x="288.93" y="464.62" width="12.13" height="3.88" fill="#fae7e7" />
<rect x="300.76" y="464.62" width="12.13" height="3.88" fill="#ffffff" />
<rect x="312.59" y="464.62" width="12.13" height="3.88" fill="#f4cfcf" />
<rect x="324.42" y="464.62" width="12.13" height="3.88" fill="#f8dfdf" />
<rect x="336.25" y="464.62" width="12.13" height="3.88" fill="#fae7e7" />
<rect x="348.08" y="464.62" width="12.13" height="3.88" fill="#bdc8de" />
<rect x="40.50" y="468.20" width="12.13" height="3.88" fill="#7d91bd" />
<rect x="52.33" y="468.20" width="12.13" height="3.88" fill="#bdc8de" />
<rect x="64.16" y="468.20" width="12.13" height="3.88" fill="#ffffff" />
<rect x="75.99" y="468.20" width="12.13" height="3.88" fill="#adbad6" />
<rect x="87.82" y="468.20" width="12.13" height="3.88" fill="#adbad6" />
<rect x="99.65" y="468.20" width="12.13" height="3.88" fill="#adbad6" />
<rect x="111.48" y="468.20" width="12.13" height="3.88" fill="#ced6e7" />
<rect x="123.31" y="468.20" width="12.13" height="3.88" fill="#ffffff" />
<rect x="135.14" y="468.20" width="12.13" height="3.88" fill="#ffffff" />
<rect x="146.97" y="468.20" width="12.13" height="3.88" fill="#9dadce" />
<rect x="158.80" y="468.20" width="12.13" height="3.88" fill="#fae7e7" />
<rect x="170.63" y="468.20" width="12.13" height="3.88" fill="#f8dfdf" />
<rect x="182.46" y="468.20" width="12.13" height="3.88" fill="#f0bfbf" />
<rect x="194.29" y="468.20" width="12.13" height="3.88" fill="#da6060" />
<rect x="206.12" y="468.20" width="12.13" height="3.88" fill="#e59090" />
<rect x="217.95" y="468.20" width="12.13" height="3.88" fill="#d75050" />
<rect x="229.78" y="468.20" width="12.13" height="3.88" fill="#f4cfcf" />
<rect x="241.61" y="468.20" width="12.13" height="3.88" fill="#e9a0a0" />
<rect x="253.44" y="468.20" width="12.13" height="3.88" fill="#bdc8de" />
<rect x="265.27" y="468.20" width="12.13" height="3.88" fill="#ffffff" />
<rect x="277.10" y="468.20" width="12.13" height="3.88" fill="#dee4ef" />
<rect x="288.93" y="468.20" width="12.13" height="3.88" fill="#fae7e7" />
<rect x="300.76" y="468.20" width="12.13" height="3.88" fill="#ffffff" />
<rect x="312.59" y="468.20" width="12.13" height="3.88" fill="#7d91bd" />
<rect x="324.42" y="468.20" width="12.13" height="3.88" fill="#8c9fc6" />
<rect x="336.25" y="468.20" width="12.13" height="3.88" fill="#fae7e7" />
<rect x="348.08" y="468.20" width="12.13" height="3.88" fill="#bdc8de" />
<rect x="40.50" y="471.79" width="12.13" height="3.88" fill="#dee4ef" />
<rect x="52.33" y="471.79" width="12.13" height="3.88" fill="#d6ddeb" />
<rect x="64.16" y="471.79" width="12.13" height="3.88" fill="#e6eaf3" />
<rect x="75.99" y="471.79" width="12.13" height="3.88" fill="#eff1f7" />
<rect x="87.82" y="471.79" width="12.13" height="3.88" fill="#9dadce" />
<rect x="99.65" y="471.79" width="12.13" height="3.88" fill="#5166a2" />
<rect x="111.48" y="471.79" width="12.13" height="3.88" fill="#425899" />
<rect x="123.31" y="471.79" width="12.13" height="3.88" fill="#9dadce" />
<rect x="135.14" y="471.79" width="12.13" height="3.88" fill="#7d91bd" />
<rect x="146.97" y="471.79" width="12.13" height="3.88" fill="#f8dfdf" />
<rect x="158.80" y="471.79" width="12.13" height="3.88" fill="#ffffff" />
<rect x="170.63" y="471.79" width="12.13" height="3.88" fill="#ffffff" />
<rect x="182.46" y="471.79" width="12.13" height="3.88" fill="#f4cfcf" />
<rect x="194.29" y="471.79" width="12.13" height="3.88" fill="#f4cfcf" />
<rect x="206.12" y="471.79" width="12.13" height="3.88" fill="#f8dfdf" />
<rect x="217.95" y="471.79" width="12.13" height="3.88" fill="#f4cfcf" />
<rect x="229.78" y="471.79" width="12.13" height="3.88" fill="#ffffff" />
<rect x="241.61" y="471.79" width="12.13" height="3.88" fill="#e28080" />
<rect x="253.44" y="471.79" width="12.13" height="3.88" fill="#ffffff" />
<rect x="265.27" y="471.79" width="12.13" height="3.88" fill="#f4cfcf" />
<rect x="277.10" y="471.79" width="12.13" height="3.88" fill="#f4cfcf" />
<rect x="288.93" y="471.79" width="12.13" height="3.88" fill="#f8dfdf" />
<rect x="300.76" y="471.79" width="12.13" height="3.88" fill="#fae7e7" />
<rect x="312.59" y="471.79" width="12.13" height="3.88" fill="#f4cfcf" />
<rect x="324.42" y="471.79" width="12.13" height="3.88" fill="#f0bfbf" />
<rect x="336.25" y="471.79" width="12.13" height="3.88" fill="#f4cfcf" />
<rect x="348.08" y="471.79" width="12.13" height="3.88" fill="#fbefef" />
<rect x="40.50" y="475.38" width="12.13" height="3.88" fill="#fae7e7" />
<rect x="52.33" y="475.38" width="12.13" height="3.88" fill="#edafaf" />
<rect x="64.16" y="475.38" width="12.13" height="3.88" fill="#e6eaf3" />
<rect x="75.99" y="475.38" width="12.13" height="3.88" fill="#f8dfdf" />
<rect x="87.82" y="475.38" width="12.13" height="3.88" fill="#e79898" />
<rect x="99.65" y="475.38" width="12.13" height="3.88" fill="#e59090" />
<rect x="111.48" y="475.38" width="12.13" height="3.88" fill="#edafaf" />
<rect x="123.31" y="475.38" width="12.13" height="3.88" fill="#e9a0a0" />
<rect x="135.14" y="475.38" width="12.13" height="3.88" fill="#e59090" />
<rect x="146.97" y="475.38" width="12.13" height="3.88" fill="#fae7e7" />
<rect x="158.80" y="475.38" width="12.13" height="3.88" fill="#f4cfcf" />
<rect x="170.63" y="475.38" width="12.13" height="3.88" fill="#f8dfdf" />
<rect x="182.46" y="475.38" width="12.13" height="3.88" fill="#f8dfdf" />
<rect x="194.29" y="475.38" width="12.13" height="3.88" fill="#f6d7d7" />
<rect x="206.12" y="475.38" width="12.13" height="3.88" fill="#f8dfdf" />
<rect x="217.95" y="475.38" width="12.13" height="3.88" fill="#f8dfdf" />
<rect x="229.78" y="475.38" width="12.13" height="3.88" fill="#f4cfcf" />
<rect x="241.61" y="475.38" width="12.13" height="3.88" fill="#ffffff" />
<rect x="253.44" y="475.38" width="12.13" height="3.88" fill="#7d91bd" />
<rect x="265.27" y="475.38" width="12.13" height="3.88" fill="#7d91bd" />
<rect x="277.10" y="475.38" width="12.13" height="3.88" fill="#8c9fc6" />
<rect x="288.93" y="475.38" width="12.13" height="3.88" fill="#ced6e7" />
<rect x="300.76" y="475.38" width="12.13" height="3.88" fill="#8c9fc6" />
<rect x="312.59" y="475.38" width="12.13" height="3.88" fill="#9dadce" />
<rect x="324.42" y="475.38" width="12.13" height="3.88" fill="#5f74ab" />
<rect x="336.25" y="475.38" width="12.13" height="3.88" fill="#dee4ef" />
<rect x="348.08" y="475.38" width="12.13" height="3.88" fill="#bdc8de" />
<rect x="40.50" y="478.96" width="12.13" height="3.88" fill="#f4cfcf" />
<rect x="52.33" y="478.96" width="12.13" height="3.88" fill="#da6060" />
<rect x="64.16" y="478.96" width="12.13" height="3.88" fill="#fae7e7" />
<rect x="75.99" y="478.96" width="12.13" height="3.88" fill="#e48888" />
<rect x="87.82" y="478.96" width="12.13" height="3.88" fill="#d75050" />
<rect x="99.65" y="478.96" width="12.13" height="3.88" fill="#f8dfdf" />
<rect x="111.48" y="478.96" width="12.13" height="3.88" fill="#f4cfcf" />
<rect x="123.31" y="478.96" width="12.13" height="3.88" fill="#e59090" />
<rect x="135.14" y="478.96" width="12.13" height="3.88" fill="#e59090" />
<rect x="146.97" y="478.96" width="12.13" height="3.88" fill="#9dadce" />
<rect x="158.80" y="478.96" width="12.13" height="3.88" fill="#ced6e7" />
<rect x="170.63" y="478.96" width="12.13" height="3.88" fill="#e6eaf3" />
<rect x="182.46" y="478.96" width="12.13" height="3.88" fill="#9dadce" />
<rect x="194.29" y="478.96" width="12.13" height="3.88" fill="#bdc8de" />
<rect x="206.12" y="478.96" width="12.13" height="3.88" fill="#ffffff" />
<rect x="217.95" y="478.96" width="12.13" height="3.88" fill="#bdc8de" />
<rect x="229.78" y="478.96" width="12.13" height="3.88" fill="#5f74ab" />
<rect x="241.61" y="478.96" width="12.13" height="3.88" fill="#bdc8de" />
<rect x="253.44" y="478.96" width="12.13" height="3.88" fill="#adbad6" />
<rect x="265.27" y="478.96" width="12.13" height="3.88" fill="#ffffff" />
<rect x="277.10" y="478.96" width="12.13" height="3.88" fill="#ced6e7" />
<rect x="288.93" y="478.96" width="12.13" height="3.88" fill="#f4cfcf" />
<rect x="300.76" y="478.96" width="12.13" height="3.88" fill="#ced6e7" />
<rect x="312.59" y="478.96" width="12.13" height="3.88" fill="#bdc8de" />
<rect x="324.42" y="478.96" width="12.13" height="3.88" fill="#ffffff" />
<rect x="336.25" y="478.96" width="12.13" height="3.88" fill="#dee4ef" />
<rect x="348.08" y="478.96" width="12.13" height="3.88" fill="#ced6e7" />
<rect x="40.50" y="482.54" width="12.13" height="3.88" fill="#f8dfdf" />
<rect x="52.33" y="482.54" width="12.13" height="3.88" fill="#ffffff" />
<rect x="64.16" y="482.54" width="12.13" height="3.88" fill="#fae7e7" />
<rect x="75.99" y="482.54" width="12.13" height="3.88" fill="#e59090" />
<rect x="87.82" y="482.54" width="12.13" height="3.88" fill="#edafaf" />
<rect x="99.65" y="482.54" width="12.13" height="3.88" fill="#edafaf" />
<rect x="111.48" y="482.54" width="12.13" height="3.88" fill="#f8dfdf" />
<rect x="123.31" y="482.54" width="12.13" height="3.88" fill="#e59090" />
<rect x="135.14" y="482.54" width="12.13" height="3.88" fill="#e59090" />
<rect x="146.97" y="482.54" width="12.13" height="3.88" fill="#9dadce" />
<rect x="158.80" y="482.54" width="12.13" height="3.88" fill="#adbad6" />
<rect x="170.63" y="482.54" width="12.13" height="3.88" fill="#8c9fc6" />
<rect x="182.46" y="482.54" width="12.13" height="3.88" fill="#8c9fc6" />
<rect x="194.29" y="482.54" width="12.13" height="3.88" fill="#7d91bd" />
<rect x="206.12" y="482.54" width="12.13" height="3.88" fill="#ced6e7" />
<rect x="217.95" y="482.54" width="12.13" height="3.88" fill="#adbad6" />
<rect x="229.78" y="482.54" width="12.13" height="3.88" fill="#5f74ab" />
<rect x="241.61" y="482.54" width="12.13" height="3.88" fill="#9dadce" />
<rect x="253.44" y="482.54" width="12.13" height="3.88" fill="#ffffff" />
<rect x="265.27" y="482.54" width="12.13" height="3.88" fill="#dee4ef" />
<rect x="277.10" y="482.54" width="12.13" height="3.88" fill="#fae7e7" />
<rect x="288.93" y="482.54" width="12.13" height="3.88" fill="#f4cfcf" />
<rect x="300.76" y="482.54" width="12.13" height="3.88" fill="#dee4ef" />
<rect x="312.59" y="482.54" width="12.13" height="3.88" fill="#f4cfcf" />
<rect x="324.42" y="482.54" width="12.13" height="3.88" fill="#f8dfdf" />
<rect x="336.25" y="482.54" width="12.13" height="3.88" fill="#f8dfdf" />
<rect x="348.08" y="482.54" width="12.13" height="3.88" fill="#edafaf" />
<rect x="40.50" y="486.13" width="12.13" height="3.88" fill="#ffffff" />
<rect x="52.33" y="486.13" width="12.13" height="3.88" fill="#e59090" />
<rect x="64.16" y="486.13" width="12.13" height="3.88" fill="#fae7e7" />
<rect x="75.99" y="486.13" width="12.13" height="3.88" fill="#f4cfcf" />
<rect x="87.82" y="486.13" width="12.13" height="3.88" fill="#e79898" />
<rect x="99.65" y="486.13" width="12.13" height="3.88" fill="#de7070" />
<rect x="111.48" y="486.13" width="12.13" height="3.88" fill="#f0bfbf" />
<rect x="123.31" y="486.13" width="12.13" height="3.88" fill="#edafaf" />
<rect x="135.14" y="486.13" width="12.13" height="3.88" fill="#e59090" />
<rect x="146.97" y="486.13" width="12.13" height="3.88" fill="#ced6e7" />
<rect x="158.80" y="486.13" width="12.13" height="3.88" fill="#fae7e7" />
<rect x="170.63" y="486.13" width="12.13" height="3.88" fill="#fae7e7" />
<rect x="182.46" y="486.13" width="12.13" height="3.88" fill="#f8dfdf" />
<rect x="194.29" y="486.13" width="12.13" height="3.88" fill="#fae7e7" />
<rect x="206.12" y="486.13" width="12.13" height="3.88" fill="#f8dfdf" />
<rect x="217.95" y="486.13" width="12.13" height="3.88" fill="#f8dfdf" />
<rect x="229.78" y="486.13" width="12.13" height="3.88" fill="#ffffff" />
<rect x="241.61" y="486.13" width="12.13" height="3.88" fill="#ffffff" />
<rect x="253.44" y="486.13" width="12.13" height="3.88" fill="#7d91bd" />
<rect x="265.27" y="486.13" width="12.13" height="3.88" fill="#adbad6" />
<rect x="277.10" y="486.13" width="12.13" height="3.88" fill="#5f74ab" />
<rect x="288.93" y="486.13" width="12.13" height="3.88" fill="#ced6e7" />
<rect x="300.76" y="486.13" width="12.13" height="3.88" fill="#ced6e7" />
<rect x="312.59" y="486.13" width="12.13" height="3.88" fill="#bdc8de" />
<rect x="324.42" y="486.13" width="12.13" height="3.88" fill="#5f74ab" />
<rect x="336.25" y="486.13" width="12.13" height="3.88" fill="#ced6e7" />
<rect x="348.08" y="486.13" width="12.13" height="3.88" fill="#bdc8de" />
<rect x="40.50" y="489.71" width="12.13" height="3.88" fill="#ffffff" />
<rect x="52.33" y="489.71" width="12.13" height="3.88" fill="#e9a0a0" />
<rect x="64.16" y="489.71" width="12.13" height="3.88" fill="#ffffff" />
<rect x="75.99" y="489.71" width="12.13" height="3.88" fill="#e28080" />
<rect x="87.82" y="489.71" width="12.13" height="3.88" fill="#e9a0a0" />
<rect x="99.65" y="489.71" width="12.13" height="3.88" fill="#f8dfdf" />
<rect x="111.48" y="489.71" width="12.13" height="3.88" fill="#f4cfcf" />
<rect x="123.31" y="489.71" width="12.13" height="3.88" fill="#da6060" />
<rect x="135.14" y="489.71" width="12.13" height="3.88" fill="#e59090" />
<rect x="146.97" y="489.71" width="12.13" height="3.88" fill="#8c9fc6" />
<rect x="158.80" y="489.71" width="12.13" height="3.88" fill="#ced6e7" />
<rect x="170.63" y="489.71" width="12.13" height="3.88" fill="#ced6e7" />
<rect x="182.46" y="489.71" width="12.13" height="3.88" fill="#9dadce" />
<rect x="194.29" y="489.71" width="12.13" height="3.88" fill="#ffffff" />
<rect x="206.12" y="489.71" width="12.13" height="3.88" fill="#f8dfdf" />
<rect x="217.95" y="489.71" width="12.13" height="3.88" fill="#9dadce" />
<rect x="229.78" y="489.71" width="12.13" height="3.88" fill="#8c9fc6" />
<rect x="241.61" y="489.71" width="12.13" height="3.88" fill="#bdc8de" />
<rect x="253.44" y="489.71" width="12.13" height="3.88" fill="#d6ddeb" />
<rect x="265.27" y="489.71" width="12.13" height="3.88" fill="#bdc8de" />
<rect x="277.10" y="489.71" width="12.13" height="3.88" fill="#ffffff" />
<rect x="288.93" y="489.71" width="12.13" height="3.88" fill="#dee4ef" />
<rect x="300.76" y="489.71" width="12.13" height="3.88" fill="#ffffff" />
<rect x="312.59" y="489.71" width="12.13" height="3.88" fill="#ced6e7" />
<rect x="324.42" y="489.71" width="12.13" height="3.88" fill="#ffffff" />
<rect x="336.25" y="489.71" width="12.13" height="3.88" fill="#ffffff" />
<rect x="348.08" y="489.71" width="12.13" height="3.88" fill="#ffffff" />
<rect x="40.50" y="493.30" width="12.13" height="3.88" fill="#f8dfdf" />
<rect x="52.33" y="493.30" width="12.13" height="3.88" fill="#e28080" />
<rect x="64.16" y="493.30" width="12.13" height="3.88" fill="#fae7e7" />
<rect x="75.99" y="493.30" width="12.13" height="3.88" fill="#e28080" />
<rect x="87.82" y="493.30" width="12.13" height="3.88" fill="#e28080" />
<rect x="99.65" y="493.30" width="12.13" height="3.88" fill="#e59090" />
<rect x="111.48" y="493.30" width="12.13" height="3.88" fill="#e9a0a0" />
<rect x="123.31" y="493.30" width="12.13" height="3.88" fill="#e59090" />
<rect x="135.14" y="493.30" width="12.13" height="3.88" fill="#e9a0a0" />
<rect x="146.97" y="493.30" width="12.13" height="3.88" fill="#adbad6" />
<rect x="158.80" y="493.30" width="12.13" height="3.88" fill="#bdc8de" />
<rect x="170.63" y="493.30" width="12.13" height="3.88" fill="#bdc8de" />
<rect x="182.46" y="493.30" width="12.13" height="3.88" fill="#adbad6" />
<rect x="194.29" y="493.30" width="12.13" height="3.88" fill="#ffffff" />
<rect x="206.12" y="493.30" width="12.13" height="3.88" fill="#e6eaf3" />
<rect x="217.95" y="493.30" width="12.13" height="3.88" fill="#adbad6" />
<rect x="229.78" y="493.30" width="12.13" height="3.88" fill="#7d91bd" />
<rect x="241.61" y="493.30" width="12.13" height="3.88" fill="#5f74ab" />
<rect x="253.44" y="493.30" width="12.13" height="3.88" fill="#9dadce" />
<rect x="265.27" y="493.30" width="12.13" height="3.88" fill="#ffffff" />
<rect x="277.10" y="493.30" width="12.13" height="3.88" fill="#adbad6" />
<rect x="288.93" y="493.30" width="12.13" height="3.88" fill="#f0bfbf" />
<rect x="300.76" y="493.30" width="12.13" height="3.88" fill="#bdc8de" />
<rect x="312.59" y="493.30" width="12.13" height="3.88" fill="#bdc8de" />
<rect x="324.42" y="493.30" width="12.13" height="3.88" fill="#9dadce" />
<rect x="336.25" y="493.30" width="12.13" height="3.88" fill="#ffffff" />
<rect x="348.08" y="493.30" width="12.13" height="3.88" fill="#dee4ef" />
<rect x="40.50" y="496.88" width="12.13" height="3.88" fill="#9dadce" />
<rect x="52.33" y="496.88" width="12.13" height="3.88" fill="#fae7e7" />
<rect x="64.16" y="496.88" width="12.13" height="3.88" fill="#bdc8de" />
<rect x="75.99" y="496.88" width="12.13" height="3.88" fill="#f4cfcf" />
<rect x="87.82" y="496.88" width="12.13" height="3.88" fill="#f4cfcf" />
<rect x="99.65" y="496.88" width="12.13" height="3.88" fill="#e59090" />
<rect x="111.48" y="496.88" width="12.13" height="3.88" fill="#ffffff" />
<rect x="123.31" y="496.88" width="12.13" height="3.88" fill="#f4cfcf" />
<rect x="135.14" y="496.88" width="12.13" height="3.88" fill="#f8dfdf" />
<rect x="146.97" y="496.88" width="12.13" height="3.88" fill="#edafaf" />
<rect x="158.80" y="496.88" width="12.13" height="3.88" fill="#f4cfcf" />
<rect x="170.63" y="496.88" width="12.13" height="3.88" fill="#f0bfbf" />
<rect x="182.46" y="496.88" width="12.13" height="3.88" fill="#edafaf" />
<rect x="194.29" y="496.88" width="12.13" height="3.88" fill="#edafaf" />
<rect x="206.12" y="496.88" width="12.13" height="3.88" fill="#edafaf" />
<rect x="217.95" y="496.88" width="12.13" height="3.88" fill="#edafaf" />
<rect x="229.78" y="496.88" width="12.13" height="3.88" fill="#edafaf" />
<rect x="241.61" y="496.88" width="12.13" height="3.88" fill="#f8dfdf" />
<rect x="253.44" y="496.88" width="12.13" height="3.88" fill="#7d91bd" />
<rect x="265.27" y="496.88" width="12.13" height="3.88" fill="#adbad6" />
<rect x="277.10" y="496.88" width="12.13" height="3.88" fill="#9dadce" />
<rect x="288.93" y="496.88" width="12.13" height="3.88" fill="#8c9fc6" />
<rect x="300.76" y="496.88" width="12.13" height="3.88" fill="#8c9fc6" />
<rect x="312.59" y="496.88" width="12.13" height="3.88" fill="#adbad6" />
<rect x="324.42" y="496.88" width="12.13" height="3.88" fill="#7d91bd" />
<rect x="336.25" y="496.88" width="12.13" height="3.88" fill="#adbad6" />
<rect x="348.08" y="496.88" width="12.13" height="3.88" fill="#adbad6" />
<rect x="40.50" y="500.47" width="12.13" height="3.88" fill="#adbad6" />
<rect x="52.33" y="500.47" width="12.13" height="3.88" fill="#ffffff" />
<rect x="64.16" y="500.47" width="12.13" height="3.88" fill="#bdc8de" />
<rect x="75.99" y="500.47" width="12.13" height="3.88" fill="#f8dfdf" />
<rect x="87.82" y="500.47" width="12.13" height="3.88" fill="#fae7e7" />
<rect x="99.65" y="500.47" width="12.13" height="3.88" fill="#ced6e7" />
<rect x="111.48" y="500.47" width="12.13" height="3.88" fill="#dee4ef" />
<rect x="123.31" y="500.47" width="12.13" height="3.88" fill="#dee4ef" />
<rect x="135.14" y="500.47" width="12.13" height="3.88" fill="#ffffff" />
<rect x="146.97" y="500.47" width="12.13" height="3.88" fill="#edafaf" />
<rect x="158.80" y="500.47" width="12.13" height="3.88" fill="#f4cfcf" />
<rect x="170.63" y="500.47" width="12.13" height="3.88" fill="#e59090" />
<rect x="182.46" y="500.47" width="12.13" height="3.88" fill="#e9a0a0" />
<rect x="194.29" y="500.47" width="12.13" height="3.88" fill="#edafaf" />
<rect x="206.12" y="500.47" width="12.13" height="3.88" fill="#edafaf" />
<rect x="217.95" y="500.47" width="12.13" height="3.88" fill="#e28080" />
<rect x="229.78" y="500.47" width="12.13" height="3.88" fill="#e9a0a0" />
<rect x="241.61" y="500.47" width="12.13" height="3.88" fill="#f8dfdf" />
<rect x="253.44" y="500.47" width="12.13" height="3.88" fill="#7d91bd" />
<rect x="265.27" y="500.47" width="12.13" height="3.88" fill="#9dadce" />
<rect x="277.10" y="500.47" width="12.13" height="3.88" fill="#9dadce" />
<rect x="288.93" y="500.47" width="12.13" height="3.88" fill="#bdc8de" />
<rect x="300.76" y="500.47" width="12.13" height="3.88" fill="#8c9fc6" />
<rect x="312.59" y="500.47" width="12.13" height="3.88" fill="#ffffff" />
<rect x="324.42" y="500.47" width="12.13" height="3.88" fill="#bdc8de" />
<rect x="336.25" y="500.47" width="12.13" height="3.88" fill="#adbad6" />
<rect x="348.08" y="500.47" width="12.13" height="3.88" fill="#8c9fc6" />
<rect x="40.50" y="504.05" width="12.13" height="3.88" fill="#ced6e7" />
<rect x="52.33" y="504.05" width="12.13" height="3.88" fill="#edafaf" />
<rect x="64.16" y="504.05" width="12.13" height="3.88" fill="#bdc8de" />
<rect x="75.99" y="504.05" width="12.13" height="3.88" fill="#ffffff" />
<rect x="87.82" y="504.05" width="12.13" height="3.88" fill="#e28080" />
<rect x="99.65" y="504.05" width="12.13" height="3.88" fill="#bdc8de" />
<rect x="111.48" y="504.05" width="12.13" height="3.88" fill="#e28080" />
<rect x="123.31" y="504.05" width="12.13" height="3.88" fill="#e59090" />
<rect x="135.14" y="504.05" width="12.13" height="3.88" fill="#d75050" />
<rect x="146.97" y="504.05" width="12.13" height="3.88" fill="#f8dfdf" />
<rect x="158.80" y="504.05" width="12.13" height="3.88" fill="#e6eaf3" />
<rect x="170.63" y="504.05" width="12.13" height="3.88" fill="#f4cfcf" />
<rect x="182.46" y="504.05" width="12.13" height="3.88" fill="#edafaf" />
<rect x="194.29" y="504.05" width="12.13" height="3.88" fill="#f4cfcf" />
<rect x="206.12" y="504.05" width="12.13" height="3.88" fill="#f0bfbf" />
<rect x="217.95" y="504.05" width="12.13" height="3.88" fill="#edafaf" />
<rect x="229.78" y="504.05" width="12.13" height="3.88" fill="#ffffff" />
<rect x="241.61" y="504.05" width="12.13" height="3.88" fill="#dee4ef" />
<rect x="253.44" y="504.05" width="12.13" height="3.88" fill="#bdc8de" />
<rect x="265.27" y="504.05" width="12.13" height="3.88" fill="#8c9fc6" />
<rect x="277.10" y="504.05" width="12.13" height="3.88" fill="#adbad6" />
<rect x="288.93" y="504.05" width="12.13" height="3.88" fill="#9dadce" />
<rect x="300.76" y="504.05" width="12.13" height="3.88" fill="#adbad6" />
<rect x="312.59" y="504.05" width="12.13" height="3.88" fill="#8c9fc6" />
<rect x="324.42" y="504.05" width="12.13" height="3.88" fill="#8c9fc6" />
<rect x="336.25" y="504.05" width="12.13" height="3.88" fill="#ced6e7" />
<rect x="348.08" y="504.05" width="12.13" height="3.88" fill="#bdc8de" />
<rect x="40.50" y="507.64" width="12.13" height="3.88" fill="#9dadce" />
<rect x="52.33" y="507.64" width="12.13" height="3.88" fill="#ced6e7" />
<rect x="64.16" y="507.64" width="12.13" height="3.88" fill="#bdc8de" />
<rect x="75.99" y="507.64" width="12.13" height="3.88" fill="#6e83b4" />
<rect x="87.82" y="507.64" width="12.13" height="3.88" fill="#ffffff" />
<rect x="99.65" y="507.64" width="12.13" height="3.88" fill="#ffffff" />
<rect x="111.48" y="507.64" width="12.13" height="3.88" fill="#ffffff" />
<rect x="123.31" y="507.64" width="12.13" height="3.88" fill="#ffffff" />
<rect x="135.14" y="507.64" width="12.13" height="3.88" fill="#ffffff" />
<rect x="146.97" y="507.64" width="12.13" height="3.88" fill="#e59090" />
<rect x="158.80" y="507.64" width="12.13" height="3.88" fill="#f4cfcf" />
<rect x="170.63" y="507.64" width="12.13" height="3.88" fill="#de7070" />
<rect x="182.46" y="507.64" width="12.13" height="3.88" fill="#e59090" />
<rect x="194.29" y="507.64" width="12.13" height="3.88" fill="#e9a0a0" />
<rect x="206.12" y="507.64" width="12.13" height="3.88" fill="#edafaf" />
<rect x="217.95" y="507.64" width="12.13" height="3.88" fill="#de7070" />
<rect x="229.78" y="507.64" width="12.13" height="3.88" fill="#f0bfbf" />
<rect x="241.61" y="507.64" width="12.13" height="3.88" fill="#fae7e7" />
<rect x="253.44" y="507.64" width="12.13" height="3.88" fill="#bdc8de" />
<rect x="265.27" y="507.64" width="12.13" height="3.88" fill="#8c9fc6" />
<rect x="277.10" y="507.64" width="12.13" height="3.88" fill="#ffffff" />
<rect x="288.93" y="507.64" width="12.13" height="3.88" fill="#bdc8de" />
<rect x="300.76" y="507.64" width="12.13" height="3.88" fill="#9dadce" />
<rect x="312.59" y="507.64" width="12.13" height="3.88" fill="#ced6e7" />
<rect x="324.42" y="507.64" width="12.13" height="3.88" fill="#9dadce" />
<rect x="336.25" y="507.64" width="12.13" height="3.88" fill="#adbad6" />
<rect x="348.08" y="507.64" width="12.13" height="3.88" fill="#adbad6" />
<rect x="40.50" y="511.23" width="12.13" height="3.88" fill="#dee4ef" />
<rect x="52.33" y="511.23" width="12.13" height="3.88" fill="#e59090" />
<rect x="64.16" y="511.23" width="12.13" height="3.88" fill="#e6eaf3" />
<rect x="75.99" y="511.23" width="12.13" height="3.88" fill="#fae7e7" />
<rect x="87.82" y="511.23" width="12.13" height="3.88" fill="#e59090" />
<rect x="99.65" y="511.23" width="12.13" height="3.88" fill="#ced6e7" />
<rect x="111.48" y="511.23" width="12.13" height="3.88" fill="#edafaf" />
<rect x="123.31" y="511.23" width="12.13" height="3.88" fill="#e28080" />
<rect x="135.14" y="511.23" width="12.13" height="3.88" fill="#e59090" />
<rect x="146.97" y="511.23" width="12.13" height="3.88" fill="#f8dfdf" />
<rect x="158.80" y="511.23" width="12.13" height="3.88" fill="#f0bfbf" />
<rect x="170.63" y="511.23" width="12.13" height="3.88" fill="#f4cfcf" />
<rect x="182.46" y="511.23" width="12.13" height="3.88" fill="#f8dfdf" />
<rect x="194.29" y="511.23" width="12.13" height="3.88" fill="#f0bfbf" />
<rect x="206.12" y="511.23" width="12.13" height="3.88" fill="#f8dfdf" />
<rect x="217.95" y="511.23" width="12.13" height="3.88" fill="#f0bfbf" />
<rect x="229.78" y="511.23" width="12.13" height="3.88" fill="#f8dfdf" />
<rect x="241.61" y="511.23" width="12.13" height="3.88" fill="#ffffff" />
<rect x="253.44" y="511.23" width="12.13" height="3.88" fill="#8c9fc6" />
<rect x="265.27" y="511.23" width="12.13" height="3.88" fill="#9dadce" />
<rect x="277.10" y="511.23" width="12.13" height="3.88" fill="#9dadce" />
<rect x="288.93" y="511.23" width="12.13" height="3.88" fill="#9dadce" />
<rect x="300.76" y="511.23" width="12.13" height="3.88" fill="#adbad6" />
<rect x="312.59" y="511.23" width="12.13" height="3.88" fill="#9dadce" />
<rect x="324.42" y="511.23" width="12.13" height="3.88" fill="#9dadce" />
<rect x="336.25" y="511.23" width="12.13" height="3.88" fill="#adbad6" />
<rect x="348.08" y="511.23" width="12.13" height="3.88" fill="#bdc8de" />
<rect x="40.50" y="514.81" width="12.13" height="3.88" fill="#ffffff" />
<rect x="52.33" y="514.81" width="12.13" height="3.88" fill="#f0bfbf" />
<rect x="64.16" y="514.81" width="12.13" height="3.88" fill="#f4cfcf" />
<rect x="75.99" y="514.81" width="12.13" height="3.88" fill="#ced6e7" />
<rect x="87.82" y="514.81" width="12.13" height="3.88" fill="#e6eaf3" />
<rect x="99.65" y="514.81" width="12.13" height="3.88" fill="#f8dfdf" />
<rect x="111.48" y="514.81" width="12.13" height="3.88" fill="#adbad6" />
<rect x="123.31" y="514.81" width="12.13" height="3.88" fill="#f8dfdf" />
<rect x="135.14" y="514.81" width="12.13" height="3.88" fill="#bdc8de" />
<rect x="146.97" y="514.81" width="12.13" height="3.88" fill="#6e83b4" />
<rect x="158.80" y="514.81" width="12.13" height="3.88" fill="#adbad6" />
<rect x="170.63" y="514.81" width="12.13" height="3.88" fill="#7d91bd" />
<rect x="182.46" y="514.81" width="12.13" height="3.88" fill="#9dadce" />
<rect x="194.29" y="514.81" width="12.13" height="3.88" fill="#bdc8de" />
<rect x="206.12" y="514.81" width="12.13" height="3.88" fill="#8c9fc6" />
<rect x="217.95" y="514.81" width="12.13" height="3.88" fill="#8c9fc6" />
<rect x="229.78" y="514.81" width="12.13" height="3.88" fill="#8c9fc6" />
<rect x="241.61" y="514.81" width="12.13" height="3.88" fill="#9dadce" />
<rect x="253.44" y="514.81" width="12.13" height="3.88" fill="#ffffff" />
<rect x="265.27" y="514.81" width="12.13" height="3.88" fill="#e28080" />
<rect x="277.10" y="514.81" width="12.13" height="3.88" fill="#e28080" />
<rect x="288.93" y="514.81" width="12.13" height="3.88" fill="#e59090" />
<rect x="300.76" y="514.81" width="12.13" height="3.88" fill="#e59090" />
<rect x="312.59" y="514.81" width="12.13" height="3.88" fill="#f0bfbf" />
<rect x="324.42" y="514.81" width="12.13" height="3.88" fill="#f0bfbf" />
<rect x="336.25" y="514.81" width="12.13" height="3.88" fill="#e28080" />
<rect x="348.08" y="514.81" width="12.13" height="3.88" fill="#e59090" />
<rect x="40.50" y="518.39" width="12.13" height="3.88" fill="#bdc8de" />
<rect x="52.33" y="518.39" width="12.13" height="3.88" fill="#e59090" />
<rect x="64.16" y="518.39" width="12.13" height="3.88" fill="#fae7e7" />
<rect x="75.99" y="518.39" width="12.13" height="3.88" fill="#ffffff" />
<rect x="87.82" y="518.39" width="12.13" height="3.88" fill="#e28080" />
<rect x="99.65" y="518.39" width="12.13" height="3.88" fill="#ced6e7" />
<rect x="111.48" y="518.39" width="12.13" height="3.88" fill="#edafaf" />
<rect x="123.31" y="518.39" width="12.13" height="3.88" fill="#e59090" />
<rect x="135.14" y="518.39" width="12.13" height="3.88" fill="#e28080" />
<rect x="146.97" y="518.39" width="12.13" height="3.88" fill="#f4cfcf" />
<rect x="158.80" y="518.39" width="12.13" height="3.88" fill="#f0bfbf" />
<rect x="170.63" y="518.39" width="12.13" height="3.88" fill="#f0bfbf" />
<rect x="182.46" y="518.39" width="12.13" height="3.88" fill="#f0bfbf" />
<rect x="194.29" y="518.39" width="12.13" height="3.88" fill="#edafaf" />
<rect x="206.12" y="518.39" width="12.13" height="3.88" fill="#f0bfbf" />
<rect x="217.95" y="518.39" width="12.13" height="3.88" fill="#f0bfbf" />
<rect x="229.78" y="518.39" width="12.13" height="3.88" fill="#f4cfcf" />
<rect x="241.61" y="518.39" width="12.13" height="3.88" fill="#ffffff" />
<rect x="253.44" y="518.39" width="12.13" height="3.88" fill="#7d91bd" />
<rect x="265.27" y="518.39" width="12.13" height="3.88" fill="#7d91bd" />
<rect x="277.10" y="518.39" width="12.13" height="3.88" fill="#5f74ab" />
<rect x="288.93" y="518.39" width="12.13" height="3.88" fill="#bdc8de" />
<rect x="300.76" y="518.39" width="12.13" height="3.88" fill="#bdc8de" />
<rect x="312.59" y="518.39" width="12.13" height="3.88" fill="#bdc8de" />
<rect x="324.42" y="518.39" width="12.13" height="3.88" fill="#9dadce" />
<rect x="336.25" y="518.39" width="12.13" height="3.88" fill="#dee4ef" />
<rect x="348.08" y="518.39" width="12.13" height="3.88" fill="#dee4ef" />
<rect x="40.50" y="521.98" width="12.13" height="3.88" fill="#e6eaf3" />
<rect x="52.33" y="521.98" width="12.13" height="3.88" fill="#5f74ab" />
<rect x="64.16" y="521.98" width="12.13" height="3.88" fill="#f0bfbf" />
<rect x="75.99" y="521.98" width="12.13" height="3.88" fill="#fae7e7" />
<rect x="87.82" y="521.98" width="12.13" height="3.88" fill="#5f74ab" />
<rect x="99.65" y="521.98" width="12.13" height="3.88" fill="#bdc8de" />
<rect x="111.48" y="521.98" width="12.13" height="3.88" fill="#f4cfcf" />
<rect x="123.31" y="521.98" width="12.13" height="3.88" fill="#dee4ef" />
<rect x="135.14" y="521.98" width="12.13" height="3.88" fill="#fae7e7" />
<rect x="146.97" y="521.98" width="12.13" height="3.88" fill="#f4cfcf" />
<rect x="158.80" y="521.98" width="12.13" height="3.88" fill="#edafaf" />
<rect x="170.63" y="521.98" width="12.13" height="3.88" fill="#f8dfdf" />
<rect x="182.46" y="521.98" width="12.13" height="3.88" fill="#da6060" />
<rect x="194.29" y="521.98" width="12.13" height="3.88" fill="#e9a0a0" />
<rect x="206.12" y="521.98" width="12.13" height="3.88" fill="#fae7e7" />
<rect x="217.95" y="521.98" width="12.13" height="3.88" fill="#f0bfbf" />
<rect x="229.78" y="521.98" width="12.13" height="3.88" fill="#f4cfcf" />
<rect x="241.61" y="521.98" width="12.13" height="3.88" fill="#f4cfcf" />
<rect x="253.44" y="521.98" width="12.13" height="3.88" fill="#6e83b4" />
<rect x="265.27" y="521.98" width="12.13" height="3.88" fill="#ced6e7" />
<rect x="277.10" y="521.98" width="12.13" height="3.88" fill="#ffffff" />
<rect x="288.93" y="521.98" width="12.13" height="3.88" fill="#ffffff" />
<rect x="300.76" y="521.98" width="12.13" height="3.88" fill="#fae7e7" />
<rect x="312.59" y="521.98" width="12.13" height="3.88" fill="#5f74ab" />
<rect x="324.42" y="521.98" width="12.13" height="3.88" fill="#7d91bd" />
<rect x="336.25" y="521.98" width="12.13" height="3.88" fill="#ced6e7" />
<rect x="348.08" y="521.98" width="12.13" height="3.88" fill="#f4cfcf" />
<rect x="40.50" y="525.57" width="12.13" height="3.88" fill="#f8dfdf" />
<rect x="52.33" y="525.57" width="12.13" height="3.88" fill="#f4cfcf" />
<rect x="64.16" y="525.57" width="12.13" height="3.88" fill="#f8dfdf" />
<rect x="75.99" y="525.57" width="12.13" height="3.88" fill="#fbefef" />
<rect x="87.82" y="525.57" width="12.13" height="3.88" fill="#8c9fc6" />
<rect x="99.65" y="525.57" width="12.13" height="3.88" fill="#e6eaf3" />
<rect x="111.48" y="525.57" width="12.13" height="3.88" fill="#ffffff" />
<rect x="123.31" y="525.57" width="12.13" height="3.88" fill="#e6eaf3" />
<rect x="135.14" y="525.57" width="12.13" height="3.88" fill="#bdc8de" />
<rect x="146.97" y="525.57" width="12.13" height="3.88" fill="#ced6e7" />
<rect x="158.80" y="525.57" width="12.13" height="3.88" fill="#adbad6" />
<rect x="170.63" y="525.57" width="12.13" height="3.88" fill="#ffffff" />
<rect x="182.46" y="525.57" width="12.13" height="3.88" fill="#ffffff" />
<rect x="194.29" y="525.57" width="12.13" height="3.88" fill="#9dadce" />
<rect x="206.12" y="525.57" width="12.13" height="3.88" fill="#dee4ef" />
<rect x="217.95" y="525.57" width="12.13" height="3.88" fill="#ced6e7" />
<rect x="229.78" y="525.57" width="12.13" height="3.88" fill="#5f74ab" />
<rect x="241.61" y="525.57" width="12.13" height="3.88" fill="#5f74ab" />
<rect x="253.44" y="525.57" width="12.13" height="3.88" fill="#6e83b4" />
<rect x="265.27" y="525.57" width="12.13" height="3.88" fill="#e9a0a0" />
<rect x="277.10" y="525.57" width="12.13" height="3.88" fill="#f0bfbf" />
<rect x="288.93" y="525.57" width="12.13" height="3.88" fill="#f0bfbf" />
<rect x="300.76" y="525.57" width="12.13" height="3.88" fill="#f4cfcf" />
<rect x="312.59" y="525.57" width="12.13" height="3.88" fill="#d75050" />
<rect x="324.42" y="525.57" width="12.13" height="3.88" fill="#edafaf" />
<rect x="336.25" y="525.57" width="12.13" height="3.88" fill="#f0bfbf" />
<rect x="348.08" y="525.57" width="12.13" height="3.88" fill="#e59090" />
<rect x="40.50" y="529.15" width="12.13" height="3.88" fill="#9dadce" />
<rect x="52.33" y="529.15" width="12.13" height="3.88" fill="#adbad6" />
<rect x="64.16" y="529.15" width="12.13" height="3.88" fill="#adbad6" />
<rect x="75.99" y="529.15" width="12.13" height="3.88" fill="#adbad6" />
<rect x="87.82" y="529.15" width="12.13" height="3.88" fill="#5166a2" />
<rect x="99.65" y="529.15" width="12.13" height="3.88" fill="#ffffff" />
<rect x="111.48" y="529.15" width="12.13" height="3.88" fill="#7d91bd" />
<rect x="123.31" y="529.15" width="12.13" height="3.88" fill="#e6eaf3" />
<rect x="135.14" y="529.15" width="12.13" height="3.88" fill="#adbad6" />
<rect x="146.97" y="529.15" width="12.13" height="3.88" fill="#ced6e7" />
<rect x="158.80" y="529.15" width="12.13" height="3.88" fill="#7d91bd" />
<rect x="170.63" y="529.15" width="12.13" height="3.88" fill="#e6eaf3" />
<rect x="182.46" y="529.15" width="12.13" height="3.88" fill="#9dadce" />
<rect x="194.29" y="529.15" width="12.13" height="3.88" fill="#fae7e7" />
<rect x="206.12" y="529.15" width="12.13" height="3.88" fill="#f4cfcf" />
<rect x="217.95" y="529.15" width="12.13" height="3.88" fill="#ffffff" />
<rect x="229.78" y="529.15" width="12.13" height="3.88" fill="#e6eaf3" />
<rect x="241.61" y="529.15" width="12.13" height="3.88" fill="#f8dfdf" />
<rect x="253.44" y="529.15" width="12.13" height="3.88" fill="#da6060" />
<rect x="265.27" y="529.15" width="12.13" height="3.88" fill="#e59090" />
<rect x="277.10" y="529.15" width="12.13" height="3.88" fill="#edafaf" />
<rect x="288.93" y="529.15" width="12.13" height="3.88" fill="#edafaf" />
<rect x="300.76" y="529.15" width="12.13" height="3.88" fill="#e9a0a0" />
<rect x="312.59" y="529.15" width="12.13" height="3.88" fill="#f4cfcf" />
<rect x="324.42" y="529.15" width="12.13" height="3.88" fill="#f4cfcf" />
<rect x="336.25" y="529.15" width="12.13" height="3.88" fill="#e9a0a0" />
<rect x="348.08" y="529.15" width="12.13" height="3.88" fill="#e9a0a0" />
<rect x="40.50" y="532.74" width="12.13" height="3.88" fill="#9dadce" />
<rect x="52.33" y="532.74" width="12.13" height="3.88" fill="#6e83b4" />
<rect x="64.16" y="532.74" width="12.13" height="3.88" fill="#5f74ab" />
<rect x="75.99" y="532.74" width="12.13" height="3.88" fill="#6e83b4" />
<rect x="87.82" y="532.74" width="12.13" height="3.88" fill="#5166a2" />
<rect x="99.65" y="532.74" width="12.13" height="3.88" fill="#ced6e7" />
<rect x="111.48" y="532.74" width="12.13" height="3.88" fill="#9dadce" />
<rect x="123.31" y="532.74" width="12.13" height="3.88" fill="#e6eaf3" />
<rect x="135.14" y="532.74" width="12.13" height="3.88" fill="#bdc8de" />
<rect x="146.97" y="532.74" width="12.13" height="3.88" fill="#ffffff" />
<rect x="158.80" y="532.74" width="12.13" height="3.88" fill="#ffffff" />
<rect x="170.63" y="532.74" width="12.13" height="3.88" fill="#ced6e7" />
<rect x="182.46" y="532.74" width="12.13" height="3.88" fill="#f4cfcf" />
<rect x="194.29" y="532.74" width="12.13" height="3.88" fill="#f8dfdf" />
<rect x="206.12" y="532.74" width="12.13" height="3.88" fill="#f4cfcf" />
<rect x="217.95" y="532.74" width="12.13" height="3.88" fill="#ffffff" />
<rect x="229.78" y="532.74" width="12.13" height="3.88" fill="#bdc8de" />
<rect x="241.61" y="532.74" width="12.13" height="3.88" fill="#ffffff" />
<rect x="253.44" y="532.74" width="12.13" height="3.88" fill="#f4cfcf" />
<rect x="265.27" y="532.74" width="12.13" height="3.88" fill="#e28080" />
<rect x="277.10" y="532.74" width="12.13" height="3.88" fill="#e9a0a0" />
<rect x="288.93" y="532.74" width="12.13" height="3.88" fill="#e59090" />
<rect x="300.76" y="532.74" width="12.13" height="3.88" fill="#ffffff" />
<rect x="312.59" y="532.74" width="12.13" height="3.88" fill="#f0bfbf" />
<rect x="324.42" y="532.74" width="12.13" height="3.88" fill="#f4cfcf" />
<rect x="336.25" y="532.74" width="12.13" height="3.88" fill="#edafaf" />
<rect x="348.08" y="532.74" width="12.13" height="3.88" fill="#f4cfcf" />
<rect x="40.50" y="536.32" width="12.13" height="3.88" fill="#fae7e7" />
<rect x="52.33" y="536.32" width="12.13" height="3.88" fill="#e9a0a0" />
<rect x="64.16" y="536.32" width="12.13" height="3.88" fill="#e9a0a0" />
<rect x="75.99" y="536.32" width="12.13" height="3.88" fill="#f4cfcf" />
<rect x="87.82" y="536.32" width="12.13" height="3.88" fill="#adbad6" />
<rect x="99.65" y="536.32" width="12.13" height="3.88" fill="#f4cfcf" />
<rect x="111.48" y="536.32" width="12.13" height="3.88" fill="#f4cfcf" />
<rect x="123.31" y="536.32" width="12.13" height="3.88" fill="#f0bfbf" />
<rect x="135.14" y="536.32" width="12.13" height="3.88" fill="#f8dfdf" />
<rect x="146.97" y="536.32" width="12.13" height="3.88" fill="#8c9fc6" />
<rect x="158.80" y="536.32" width="12.13" height="3.88" fill="#adbad6" />
<rect x="170.63" y="536.32" width="12.13" height="3.88" fill="#8c9fc6" />
<rect x="182.46" y="536.32" width="12.13" height="3.88" fill="#ffffff" />
<rect x="194.29" y="536.32" width="12.13" height="3.88" fill="#adbad6" />
<rect x="206.12" y="536.32" width="12.13" height="3.88" fill="#8c9fc6" />
<rect x="217.95" y="536.32" width="12.13" height="3.88" fill="#bdc8de" />
<rect x="229.78" y="536.32" width="12.13" height="3.88" fill="#bdc8de" />
<rect x="241.61" y="536.32" width="12.13" height="3.88" fill="#7d91bd" />
<rect x="253.44" y="536.32" width="12.13" height="3.88" fill="#7d91bd" />
<rect x="265.27" y="536.32" width="12.13" height="3.88" fill="#e28080" />
<rect x="277.10" y="536.32" width="12.13" height="3.88" fill="#e9a0a0" />
<rect x="288.93" y="536.32" width="12.13" height="3.88" fill="#e9a0a0" />
<rect x="300.76" y="536.32" width="12.13" height="3.88" fill="#bdc8de" />
<rect x="312.59" y="536.32" width="12.13" height="3.88" fill="#fae7e7" />
<rect x="324.42" y="536.32" width="12.13" height="3.88" fill="#ced6e7" />
<rect x="336.25" y="536.32" width="12.13" height="3.88" fill="#edafaf" />
<rect x="348.08" y="536.32" width="12.13" height="3.88" fill="#f4cfcf" />
<rect x="40.50" y="539.90" width="12.13" height="3.88" fill="#adbad6" />
<rect x="52.33" y="539.90" width="12.13" height="3.88" fill="#bdc8de" />
<rect x="64.16" y="539.90" width="12.13" height="3.88" fill="#adbad6" />
<rect x="75.99" y="539.90" width="12.13" height="3.88" fill="#9dadce" />
<rect x="87.82" y="539.90" width="12.13" height="3.88" fill="#ced6e7" />
<rect x="99.65" y="539.90" width="12.13" height="3.88" fill="#bdc8de" />
<rect x="111.48" y="539.90" width="12.13" height="3.88" fill="#9dadce" />
<rect x="123.31" y="539.90" width="12.13" height="3.88" fill="#adbad6" />
<rect x="135.14" y="539.90" width="12.13" height="3.88" fill="#adbad6" />
<rect x="146.97" y="539.90" width="12.13" height="3.88" fill="#f0bfbf" />
<rect x="158.80" y="539.90" width="12.13" height="3.88" fill="#e9a0a0" />
<rect x="170.63" y="539.90" width="12.13" height="3.88" fill="#f0bfbf" />
<rect x="182.46" y="539.90" width="12.13" height="3.88" fill="#edafaf" />
<rect x="194.29" y="539.90" width="12.13" height="3.88" fill="#e9a0a0" />
<rect x="206.12" y="539.90" width="12.13" height="3.88" fill="#f0bfbf" />
<rect x="217.95" y="539.90" width="12.13" height="3.88" fill="#e9a0a0" />
<rect x="229.78" y="539.90" width="12.13" height="3.88" fill="#f0bfbf" />
<rect x="241.61" y="539.90" width="12.13" height="3.88" fill="#edafaf" />
<rect x="253.44" y="539.90" width="12.13" height="3.88" fill="#bdc8de" />
<rect x="265.27" y="539.90" width="12.13" height="3.88" fill="#ffffff" />
<rect x="277.10" y="539.90" width="12.13" height="3.88" fill="#bdc8de" />
<rect x="288.93" y="539.90" width="12.13" height="3.88" fill="#bdc8de" />
<rect x="300.76" y="539.90" width="12.13" height="3.88" fill="#bdc8de" />
<rect x="312.59" y="539.90" width="12.13" height="3.88" fill="#f4cfcf" />
<rect x="324.42" y="539.90" width="12.13" height="3.88" fill="#f4cfcf" />
<rect x="336.25" y="539.90" width="12.13" height="3.88" fill="#dee4ef" />
<rect x="348.08" y="539.90" width="12.13" height="3.88" fill="#adbad6" />
<rect x="362.00" y="278.20" width="10.00" height="46.61" fill="#FF8C80" />
<text x="374.90" y="303.50" font-size="9.3" fill="#111" text-anchor="start" textLength="43.5" lengthAdjust="spacingAndGlyphs" stroke="#111" stroke-width="0.25">Amino acid</text>
<rect x="362.00" y="324.81" width="10.00" height="28.68" fill="#CFA0FF" />
<line x1="40.50" y1="324.81" x2="359.91" y2="324.81" stroke="#858585" stroke-width="0.9"/>
<text x="374.90" y="343.30" font-size="9.3" fill="#111" text-anchor="start" textLength="92" lengthAdjust="spacingAndGlyphs" stroke="#111" stroke-width="0.25">Amino acid metabolism</text>
<rect x="362.00" y="353.49" width="10.00" height="17.92" fill="#CDC300" />
<line x1="40.50" y1="353.49" x2="359.91" y2="353.49" stroke="#858585" stroke-width="0.9"/>
<text x="374.90" y="367.40" font-size="9.3" fill="#111" text-anchor="start" textLength="32.1" lengthAdjust="spacingAndGlyphs" stroke="#111" stroke-width="0.25">Bile acid</text>
<rect x="362.00" y="371.41" width="10.00" height="17.93" fill="#FF7CD0" />
<line x1="40.50" y1="371.41" x2="359.91" y2="371.41" stroke="#858585" stroke-width="0.9"/>
<text x="374.90" y="385.00" font-size="9.3" fill="#111" text-anchor="start" textLength="75.6" lengthAdjust="spacingAndGlyphs" stroke="#111" stroke-width="0.25">Energy metabolism</text>
<rect x="362.00" y="389.33" width="10.00" height="50.19" fill="#FF85FF" />
<line x1="40.50" y1="389.33" x2="359.91" y2="389.33" stroke="#858585" stroke-width="0.9"/>
<text x="374.90" y="425.00" font-size="9.3" fill="#111" text-anchor="start" textLength="36.9" lengthAdjust="spacingAndGlyphs" stroke="#111" stroke-width="0.25">Fatty acid</text>
<rect x="362.00" y="439.52" width="10.00" height="35.85" fill="#00DCC0" />
<line x1="40.50" y1="439.52" x2="359.91" y2="439.52" stroke="#858585" stroke-width="0.9"/>
<text x="374.90" y="465.00" font-size="9.3" fill="#111" text-anchor="start" textLength="90.8" lengthAdjust="spacingAndGlyphs" stroke="#111" stroke-width="0.25">Nucleotide metabolism</text>
<rect x="362.00" y="475.38" width="10.00" height="46.61" fill="#00D2F8" />
<line x1="40.50" y1="475.38" x2="359.91" y2="475.38" stroke="#858585" stroke-width="0.9"/>
<text x="374.90" y="500.70" font-size="9.3" fill="#111" text-anchor="start" textLength="21.7" lengthAdjust="spacingAndGlyphs" stroke="#111" stroke-width="0.25">Sugar</text>
<rect x="362.00" y="521.98" width="10.00" height="21.51" fill="#FFA80A" />
<line x1="40.50" y1="521.98" x2="359.91" y2="521.98" stroke="#858585" stroke-width="0.9"/>
<text x="374.90" y="536.20" font-size="9.3" fill="#111" text-anchor="start" textLength="30.4" lengthAdjust="spacingAndGlyphs" stroke="#111" stroke-width="0.25">Vitamin</text>
<text x="374.90" y="286.60" font-size="10" fill="#000" text-anchor="start" font-weight="bold" textLength="108.9" lengthAdjust="spacingAndGlyphs" >Metabolite classification</text>
<defs><linearGradient id="cb" x1="0" y1="0" x2="0" y2="1"><stop offset="0" stop-color="#cd2626"/><stop offset="0.5" stop-color="#ffffff"/><stop offset="1" stop-color="#162d7d"/></linearGradient></defs>
<rect x="28.90" y="283.90" width="6.90" height="106.80" fill="url(#cb)" />
<text x="35.90" y="279.60" font-size="10" fill="#000" text-anchor="end" >3</text>
<text x="36.30" y="405.30" font-size="10" fill="#000" text-anchor="end" >−3</text>
<text x="18.9" y="430.7" font-size="11" fill="#000" transform="rotate(-90 18.9 430.7)" textLength="181" lengthAdjust="spacingAndGlyphs">log<tspan font-size="7" dy="3.8">2</tspan><tspan dy="-3.8"> (relative metabolites abundance)</tspan></text>
</svg></body></html>
